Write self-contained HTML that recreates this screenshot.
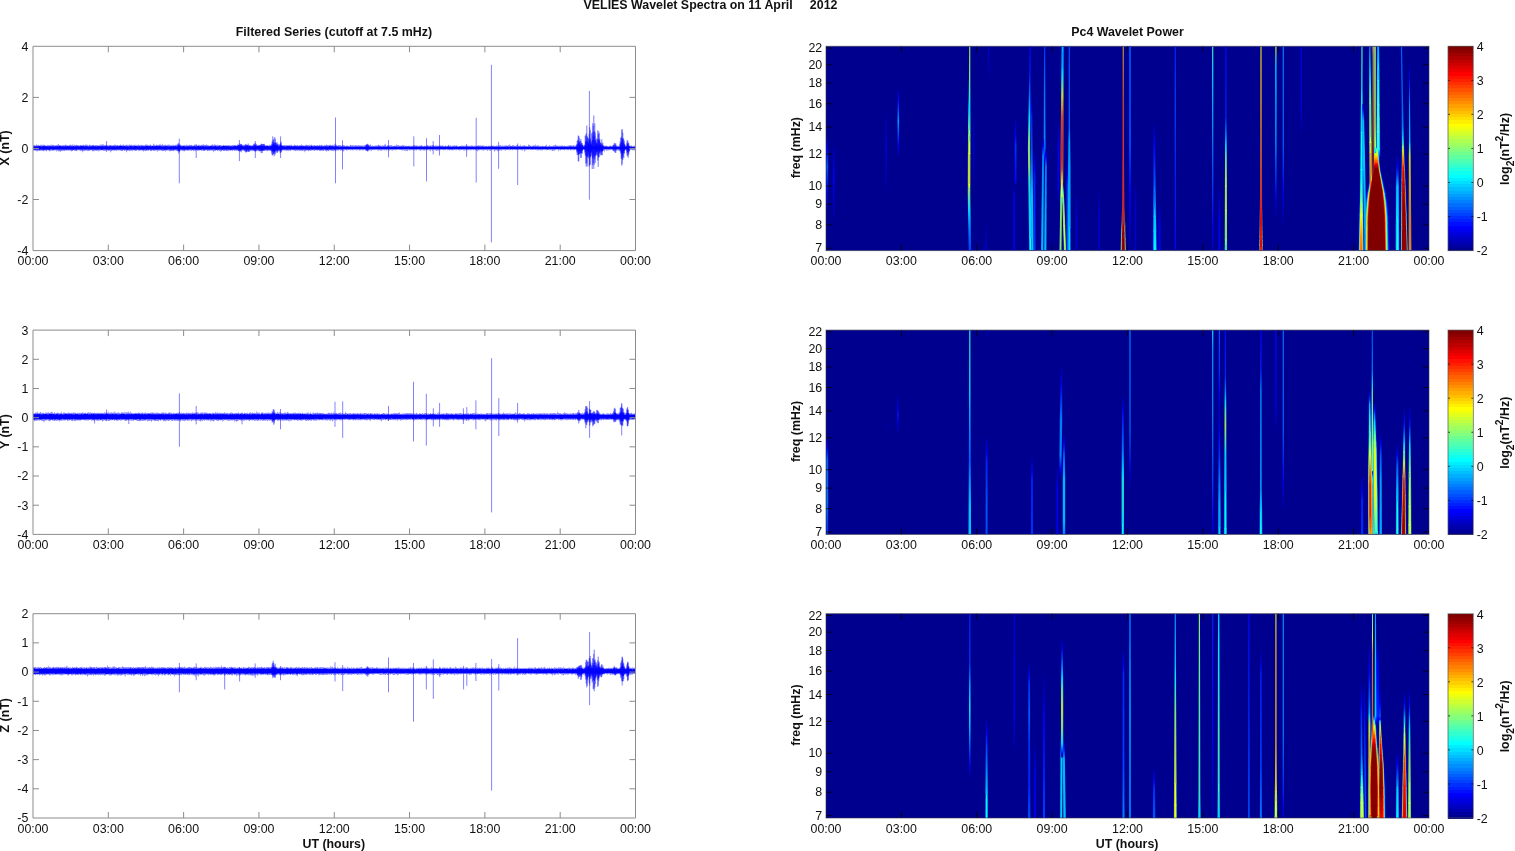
<!DOCTYPE html><html lang="en"><head><meta charset="utf-8"><title>VELIES Wavelet Spectra</title>
<style>html,body{margin:0;padding:0;background:#fff;}body{width:1515px;height:851px;overflow:hidden;font-family:"Liberation Sans",sans-serif;}svg{display:block}text{font-family:"Liberation Sans",sans-serif;font-size:12.4px;fill:#111}.b{font-weight:bold}</style></head><body>
<svg width="1515" height="851" viewBox="0 0 1515 851">
<defs><filter id="gs" x="0" y="0" width="100%" height="100%" filterUnits="userSpaceOnUse" color-interpolation-filters="sRGB"><feColorMatrix type="saturate" values="0"/></filter></defs>
<rect width="1515" height="851" fill="#fff"/>
<path transform="scale(.5 1)" d="M66.5 145l1 .4 1-.2 1-.6 1 1.2 1-.2 1-.8 1-.6 1 1.4 1-.7 1-.4 1 1 1 0 1 .1 1-.1 1-1.1 1 .2 1 .9 1-.9 1 .8 1-.2 1-.8 1 .2 1 .7 1 .2 1-.3 1 .6 1-.4 1-.8 1 1.2 1-.9 1 0 1 .7 1-.4 1 .5 1-1.2 1-.1 1 1.3 1-1.2 1 .4 1-.2 1 .2 1 0 1 .8 1-.2 1-.5 1-.3 1 .7 1 0 1-.8 1-1.1 1 1 1 .8 1-.4 1 .4 1 0 1 .2 1-.1 1 .3 1-.6 1 .1 1-.3 1 0 1 .7 1-1.2 1 0 1 .5 1 .3 1 .1 1 .2 1-.1 1 0 1 .1 1-1.1 1 0 1 .5 1-.2 1 .6 1 .3 1-1.8 1 1.2 1 .7 1-.7 1-.6 1 .8 1 .1 1-.7 1 .1 1 .6 1-.4 1 .1 1 .4 1 .2 1-.3 1-.2 1-.3 1 .6 1-.5 1 .6 1-.7 1-.1 1 0 1 .2 1 .4 1-.5 1-.2 1 .3 1-.5 1 0 1 1.1 1 .2 1-.1 1-1.1 1-.1 1 .9 1 0 1-.3 1 .4 1-.3 1-.3 1 .3 1-.3 1 .2 1 .8 1-.6 1-.1 1 .1 1 .1 1-.2 1 0 1 .6 1-.3 1-1 1 1.3 1 0 1-1.9 1 1.2 1-.6 1 0 1 0 1-.2 1 .6 1 .2 1 .5 1-1.1 1 1 1-1 1 .6 1 .5 1-.3 1 .3 1-.3 1-.3 1-.1 1 .3 1 .2 1-.3 1 .2 1 .1 1 0 1 .2 1-.4 1 0 1-.6 1 .2 1 0 1 .5 1 .1 1-.4 1-.1 1 .8 1 0 1-.5 1 .5 1-1.2 1 .2 1 .4 1 .5 1 .1 1-1.2 1 .4 1-.2 1 .6 1 .2 1 0 1-.8 1 .5 1-.3 1-.2 1 .8 1 .3 1-1 1-.3 1 0 1 .7 1-.2 1-.2 1-.2 1 1.1 1-.4 1 0 1-.4 1 .4 1-.6 1 0 1 1.1 1-.3 1-1 1 1.3 1-.6 1-.7 1 .2 1 .8 1-.5 1 .3 1-.3 1-.4 1 .5 1 .1 1 .2 1 .1 1-.4 1 .7 1-.8 1-.2 1-.3 1-.1 1 .8 1 0 1-.7 1 1.1 1-.3 1-.8 1 1.3 1-.9 1-.6 1 1.1 1 .4 1 0 1-.1 1-1.2 1-1.3 1 2.1 1-.6 1 .8 1 .1 1-.7 1-.2 1 .4 1-.2 1 .1 1 .1 1-.4 1-.1 1-.9 1 1.8 1-.8 1 .6 1-.4 1-1.2 1 1.9 1-.7 1 .6 1-.8 1 0 1 .4 1 .2 1-.2 1 .6 1-1 1-.2 1 .3 1 .8 1-.9 1 .1 1 1 1-.2 1-.5 1 .6 1-.8 1-.4 1 1 1-.7 1 1 1-.4 1-.8 1 0 1 .4 1-.4 1 1 1 .3 1-.3 1-.4 1 0 1-.4 1-.1 1 .9 1-.3 1 0 1 .5 1 .1 1-1.1 1 .7 1-.6 1 .4 1 .4 1-.1 1-1.2 1 .4 1 1.1 1-.1 1-.7 1-.2 1 0 1 .3 1 .2 1-.7 1 .6 1 .1 1 .4 1-.2 1 .2 1-1.5 1 .6 1 .6 1-.5 1 .8 1-1.1 1 1 1 0 1-.5 1-.4 1-.1 1 .9 1 .2 1-1 1 .3 1-.3 1-.2 1 .6 1 0 1-1.5 1 1.4 1 .1 1-.1 1 0 1-.5 1-.1 1 .8 1-.5 1 .2 1 .6 1 .2 1 .1 1-.2 1-.1 1-.9 1 .8 1-.7 1-.6 1 1.5 1-.9 1-.2 1 0 1 .3 1 0 1 .2 1 .3 1-.9 1 1.3 1-1.2 1 .9 1-.4 1 .1 1-.1 1-.1 1 .6 1-.1 1 .2 1 .1 1-1.2 1 .8 1 .3 1-.3 1 0 1-.4 1 .6 1-.6 1 .8 1-.7 1 .6 1-.6 1 .1 1 .3 1-.2 1 .5 1-.7 1 .8 1-.7 1 0 1 .6 1-1.2 1 .4 1 0 1 .3 1-.4 1 .7 1-.6 1 .1 1-.5 1 .2 1 .3 1 .2 1-.4 1-.1 1-.2 1 .1 1-.5 1 .6 1 .4 1-.5 1 .6 1-.2 1-.5 1 .5 1 .5 1-.6 1 .9 1-.5 1-.6 1 .3 1 .6 1-.3 1-.8 1 1.3 1-1.1 1 .8 1 0 1-.6 1 .7 1-.3 1-.1 1-.3 1 .2 1 0 1 0 1-.9 1-.5 1 1.9 1-1.2 1 1.3 1-1.3 1 1.2 1 .1 1-.9 1-.3 1 .3 1-1.8 1 2.6 1-.1 1 .1 1 .1 1-1.2 1 .6 1 .1 1 .1 1-.2 1 .5 1 0 1-.9 1 .8 1 .2 1-.4 1-.7 1 .6 1-.5 1-.3 1 1.4 1-.2 1-.8 1-.2 1 .5 1 .6 1 0 1-.1 1-.1 1-.9 1-.1 1 1.1 1-1 1-1.4 1 1.7 1-.3 1 .9 1-.4 1 .2 1-.4 1 .5 1-.3 1 .3 1-.4 1 .6 1-.6 1 .1 1 .5 1-.5 1 .4 1-.6 1 .1 1 .5 1-.4 1 .3 1-.8 1 .6 1 .5 1-1.1 1 0 1 .8 1 0 1 .3 1-.3 1 .3 1-1.2 1 .3 1 .2 1 .3 1 .3 1-.4 1 .2 1-.9 1 1.2 1-.5 1 .6 1-.8 1 0 1 .6 1-1.8 1 1.8 1-.5 1 .2 1 .2 1 .1 1 0 1 .1 1-.5 1-.5 1-.1 1 .3 1 .4 1-.4 1 .5 1-.6 1-.3 1 1.2 1-.8 1 .4 1-.5 1-.3 1 1 1 .1 1-.7 1 .8 1-.8 1 .1 1 .8 1-.5 1-.1 1 .6 1-.5 1-.3 1 .6 1 0 1-1 1 .7 1 .1 1-.4 1 .1 1-.5 1 .8 1 0 1 0 1 .3 1-.3 1-.6 1 .5 1 .1 1-.9 1-.1 1 .9 1-.1 1-.5 1 1 1-.6 1-.4 1 .1 1-.1 1 1.1 1-.9 1-.3 1 .3 1 .5 1 .2 1-2.5 1 2.3 1-.4 1-1.5 1 1.4 1-.2 1 .7 1 .5 1-.6 1-.5 1 .7 1-.5 1 .5 1-.4 1 .8 1-.3 1-.4 1 .2 1-.2 1-.2 1 .8 1-.7 1 .9 1 .2 1-.2 1-.8 1 .6 1-.3 1 .5 1-.3 1 .4 1-.3 1-1.2 1 .5 1-.1 1 .8 1-.8 1 .6 1-.5 1 .6 1-.1 1-.2 1-.1 1 0 1 .2 1-.4 1 .3 1 .5 1-.8 1-.2 1 .7 1 .2 1-.3 1 .1 1 .1 1-.5 1 .6 1-.3 1 .1 1 0 1-.1 1-.5 1 1 1-.7 1-.2 1 .4 1-2 1 1.9 1 .4 1-.6 1 .8 1-.9 1-1.3 1 1.7 1 .1 1 .3 1-.2 1-.4 1 .6 1 .1 1-.1 1-.4 1 .2 1-.1 1 .1 1-.4 1 .5 1-.5 1-.1 1-1.1 1 1.4 1 .1 1-.6 1 1.2 1-.8 1 .5 1-.9 1 .8 1 .4 1-1.2 1 .7 1-1.7 1-.4 1 1.4 1 .7 1 .6 1-1.2 1 .2 1 0 1 .9 1-.9 1 .1 1-.3 1 .5 1-.2 1-.3 1 .6 1 0 1 .5 1-.1 1-.6 1 .4 1 .2 1-.5 1-2 1 2.4 1-.7 1 0 1 0 1-.2 1 .8 1-.5 1 .7 1-.7 1 .3 1 0 1-1.3 1 1.3 1-.4 1 .3 1-.4 1 .7 1-.5 1 .5 1-.5 1 .5 1 .3 1-.5 1-.3 1 .6 1-.5 1 .7 1-.7 1 .8 1 0 1-.7 1 .3 1 0 1-.4 1-.4 1-.1 1 .4 1 .1 1 .3 1-.7 1 .9 1-.8 1 .7 1 .3 1-.4 1 .2 1-.8 1 .3 1 .2 1-.6 1 .2 1 .6 1-.5 1 .6 1 .1 1-.7 1 .4 1 .3 1-.3 1 .4 1-.8 1-.3 1 0 1 .4 1 .6 1-.5 1 .3 1-.3 1 0 1 .1 1-.4 1-.1 1 0 1-.1 1 0 1 1.1 1 0 1-1.2 1 1.3 1-1.1 1 .5 1 .3 1-.6 1 .3 1 .2 1-.5 1-.2 1 .5 1-.4 1 .5 1 .2 1-.6 1-.2 1 .1 1 .9 1-.3 1 .4 1-1.3 1 1.1 1-.3 1 .1 1 .1 1 .1 1-1.7 1 .6 1 .5 1 .6 1-.8 1 .2 1 .8 1-.6 1 .1 1-.1 1 .4 1-.5 1-.2 1-.2 1 .1 1 1 1-1 1 .2 1 0 1 .8 1 0 1-.1 1-.2 1 .3 1-.3 1 0 1-.7 1 .8 1-.9 1 .9 1 .1 1-.8 1 .3 1-.1 1 .3 1-.3 1-.3 1 .9 1-.2 1-.6 1 .6 1-.4 1 .3 1 .4 1-.6 1-.3 1-.4 1 .9 1-.1 1-.2 1 0 1 .6 1-.8 1 .6 1-.6 1 .6 1-.1 1 .3 1-.2 1-.7 1 .3 1-.5 1 .3 1 .3 1 0 1-.6 1 1.1 1-.5 1-.5 1 .2 1 .1 1 .1 1 .5 1-.5 1 .7 1-.8 1 .6 1 0 1 .2 1-.6 1 .3 1-.3 1 0 1 .1 1 0 1 .2 1-.5 1-.2 1 .9 1-1 1 .6 1 0 1 .5 1-.9 1 .7 1 .1 1-.8 1 .4 1-.6 1 .5 1 .6 1-.9 1 .6 1-.9 1 0 1 .3 1 0 1 .9 1-.7 1-.2 1 .9 1-.6 1-.6 1 1.2 1-.7 1 0 1 .4 1-1.5 1 1.7 1-.5 1-.6 1 .5 1 0 1-1.5 1 1 1 1.1 1-.2 1 .2 1-1 1 .1 1-.2 1 .2 1 .9 1-1 1 1.2 1-.7 1-.4 1-.1 1 .8 1-1.5 1 1.7 1-.6 1 .5 1-.3 1-1.8 1 2.3 1-.2 1-.4 1 .5 1-1 1 .4 1 .2 1-.5 1 .2 1-.1 1 .6 1 .1 1 .3 1-.2 1-.2 1-.4 1-1.9 1 1.5 1-.1 1 .8 1-.4 1 .5 1 .2 1 .1 1-.7 1-.8 1 1.1 1-.8 1 1 1-.1 1-2.3 1 1.9 1 .7 1-1.2 1 .9 1-1.7 1 2.1 1-.7 1 .5 1-.9 1 1.1 1-.1 1-.5 1 .6 1-.9 1 .2 1 .4 1-.1 1 .3 1-1.2 1 1.1 1-2.1 1 1.7 1 .4 1 .1 1-.2 1 .2 1-1.1 1 .1 1 .5 1 .4 1-.3 1-.1 1 .4 1-.5 1-.3 1 0 1-.1 1 .1 1-.1 1-1.1 1 1.2 1 .1 1 .4 1-.3 1 .3 1-.2 1 .3 1-.6 1 .9 1-.9 1-.3 1 1.1 1-.9 1 .2 1 .4 1 .3 1-1 1 .7 1 .2 1 .2 1-.8 1 .9 1-.6 1-.1 1 0 1-.5 1 .2 1 .1 1-.2 1-.2 1 .9 1-.5 1 .1 1-.2 1-.1 1-.1 1 .1 1 .7 1-.4 1 .5 1-.8 1 .5 1 .2 1 .2 1-.7 1 .6 1-.3 1 .3 1-.7 1 .7 1 0 1-.5 1-.5 1 .6 1-.2 1 .4 1 .4 1-.1 1-1.1 1 .7 1-.7 1 .9 1-.7 1 .7 1-.2 1-.1 1-.3 1-.1 1 .5 1-.6 1 1 1 .2 1-.5 1 .1 1 .1 1-.4 1-.2 1-.3 1 .1 1 .1 1-.2 1 .6 1-.1 1 .5 1 .1 1-1.2 1 .1 1 0 1-.1 1 .3 1 .9 1-.6 1-.2 1 .3 1 .6 1-1.1 1 .8 1-.5 1-.1 1 .5 1-.4 1 .3 1-.2 1 .6 1 .1 1-.4 1-.3 1 .1 1-.1 1-.1 1 .2 1 .2 1-.1 1-.5 1 .4 1-.2 1 .7 1-1.4 1 .4 1 .5 1 .4 1 .1 1-.1 1-1 1 .3 1 .9 1-.1 1-.4 1-.3 1 0 1-.3 1 .8 1 0 1 .3 1-1.1 1 .8 1 .2 1-1.1 1 .6 1-.9 1 1.1 1-.3 1 .5 1 0 1-.2 1 0 1-.1 1 .1 1-.2 1-.1 1-.5 1 .6 1 .6 1-.4 1 .4 1-1.2 1 .7 1-.3 1 .7 0 3.5-1 .6-1 0-1-.7-1 .9-1-.8-1 .9-1-.9-1 0-1-.1-1 .4-1 .9-1-1.6-1 1.1-1-.6-1 .2-1 .3-1 .2-1-.4-1 .2-1-.3-1 .4-1-.7-1 .7-1-1-1 .9-1-.5-1 .1-1-.3-1-.3-1 .5-1-.1-1 .6-1 0-1 .1-1 .5-1-.9-1 .2-1-.4-1-.4-1 1.1-1-.9-1 .2-1-.1-1 .4-1-.1-1 .1-1-.5-1-.3-1 1.2-1-.8-1 .1-1 .3-1 .1-1-.1-1 1.1-1-1.9-1 2-1-1.3-1-.4-1 .1-1 2.6-1-1.8-1-.6-1-.2-1 .5-1 .1-1 .2-1-.9-1 .1-1-.2-1 .3-1 .5-1-.2-1-.1-1 0-1 .2-1 .3-1-1-1 .1-1-.1-1 .6-1-.7-1 .1-1 .4-1 .2-1 .4-1-1.1-1 .3-1-.3-1 .8-1-.8-1 .6-1 .3-1-.4-1-.3-1 0-1 .7-1 .1-1-.1-1-1-1 .4-1 .6-1-1-1 .6-1 .5-1-.9-1-.2-1 2-1-2-1 1-1 .1-1 .1-1-1-1 .7-1 .3-1-.6-1-.1-1 .8-1-1.3-1 .1-1 1.1-1-.5-1-.2-1 .4-1-.7-1 .9-1-.7-1 .5-1 .1-1 .2-1-1.2-1 0-1 1.2-1-.7-1 .3-1-.5-1 .7-1-.7-1-.2-1 .2-1 .7-1-.3-1-.2-1 0-1 0-1-.1-1 0-1 .1-1 .5-1-.1-1-.8-1 .7-1 1.6-1-1.8-1-.4-1-.2-1 .4-1-.2-1 1-1-1-1 1.1-1-.1-1-.2-1 .2-1 .1-1 .3-1-.4-1-1.1-1 .5-1 .5-1-.9-1 .9-1-.5-1 .1-1 .1-1-.4-1 .5-1 0-1 0-1-.7-1 1-1-1.2-1 .3-1 .2-1 .1-1 .4-1-.2-1 .4-1-.7-1 .7-1-.6-1 .1-1 .6-1-.9-1 .4-1 .4-1-.1-1-1-1 .5-1 0-1-.3-1 0-1 .2-1-.3-1 .3-1 .1-1-.3-1 .4-1 0-1-.1-1-.5-1 0-1 .5-1 0-1-.4-1-.2-1 .9-1-.8-1 .3-1 .8-1 1.5-1-1.8-1-.3-1-.4-1 .9-1 .1-1-1.1-1 1.2-1-.4-1-.7-1 .4-1-.4-1 .6-1-.5-1 0-1 .5-1-.1-1 0-1-.2-1-.1-1 0-1 .2-1-.2-1 0-1 .7-1-.5-1-.5-1 .5-1 .2-1 .1-1 0-1-.8-1 .2-1 .8-1-1-1 .7-1-.4-1 .3-1-.3-1 1.1-1-.3-1-1-1 .6-1-.5-1-.1-1 .8-1-.4-1 1.3-1-1.5-1 .8-1 0-1-.1-1 0-1-.1-1 1.2-1-1.1-1-.2-1-.1-1-.3-1 .5-1 1.7-1-1.4-1-.5-1-.6-1 .3-1-.2-1 0-1 0-1 1.6-1-.9-1-.2-1 .2-1-.4-1-.1-1 .8-1 0-1-.9-1 .4-1-.5-1 0-1 .7-1-.6-1 1-1-.4-1-.7-1 1-1-1-1 .8-1-.6-1 .2-1-.2-1 .9-1-.9-1 .3-1 .5-1 1-1-1.1-1-.7-1 .2-1 .5-1-1.1-1 .4-1 .6-1-.6-1-.1-1-.1-1 .6-1-.5-1 .6-1-.2-1-.6-1 1-1-.5-1-.4-1 .9-1-.6-1 .1-1 .4-1 0-1-1-1 1-1 0-1 .2-1-.8-1-.1-1-.3-1 1-1-1-1 .7-1-.4-1 .7-1 0-1-.6-1 .2-1-.6-1 .6-1 .3-1-.7-1-.2-1 .9-1-.7-1 .2-1 .5-1-.8-1 .7-1 .3-1-.4-1-.2-1 .2-1-.4-1 .4-1 .5-1-.7-1 .1-1-.5-1 1.1-1-1.1-1 .2-1 .3-1 .2-1-.1-1-.5-1 .8-1-.5-1 .1-1-.6-1 .3-1 .1-1-.1-1 .8-1-.8-1 .1-1 .6-1-.1-1 .3-1-.4-1 .4-1 .1-1-1.1-1 .8-1-.1-1-.8-1-.1-1 0-1 .9-1 .4-1-.5-1-.8-1 .3-1 2.5-1-2.3-1 .8-1-1.2-1 .7-1 .2-1-.6-1-.2-1 .4-1 .2-1-.1-1 .3-1 .3-1-.6-1 .2-1-.7-1 .8-1-.7-1 .7-1-.1-1 .4-1-.6-1 .4-1-.3-1-.6-1-.2-1 .3-1 .4-1 .2-1 .1-1-.7-1 0-1 .9-1-.6-1 .1-1-.3-1 .4-1-.6-1 .9-1-1-1 .9-1 .3-1-.9-1-.4-1 .4-1 1.6-1-1-1 .2-1-.1-1 .8-1-1.6-1 .8-1 .6-1-1.7-1 .8-1 .1-1-.2-1-.5-1 .9-1-.7-1-.2-1 .1-1 .2-1-.2-1-.3-1 0-1 .3-1-.1-1 .6-1-.1-1-.3-1-.2-1 .9-1-.7-1-.1-1 .7-1 .2-1-.8-1 .7-1-.7-1 .2-1 .1-1 .6-1-.6-1-.7-1 .2-1 .6-1 .5-1-.8-1-.4-1 1-1 .2-1-1.1-1-.1-1 .6-1 .4-1-.8-1 .8-1 .1-1-.3-1 .2-1-.8-1 .4-1 .3-1 .3-1 0-1-1.3-1 .3-1 0-1-.1-1 0-1 .8-1-.7-1 0-1 .5-1-.6-1 .2-1 1.3-1-.7-1-.1-1-.2-1 0-1-.6-1 .3-1-.3-1 .1-1 2.1-1-2.2-1 .4-1 .6-1-.4-1-.5-1-.1-1 1.2-1-.7-1-.1-1 .4-1 .2-1-1-1 1-1-.4-1 .2-1 0-1-.4-1-.2-1 .8-1-.9-1 1-1-.4-1-.7-1 .8-1-.3-1-.4-1 .7-1-.3-1 .6-1-.9-1 .8-1-.9-1 .4-1 .3-1-.7-1 .4-1 .4-1-.8-1 0-1 1-1-.3-1-.1-1-.3-1 0-1-.3-1 .9-1 1.5-1-1.3-1 0-1-1.1-1 1.3-1-.9-1 .7-1-.4-1-.6-1 .1-1 .4-1 .7-1-1-1 .6-1 0-1 0-1 .5-1 0-1-.4-1-.8-1 1.9-1-1.5-1 .8-1-.3-1-.2-1 .2-1-.3-1-.2-1-.1-1 .2-1 .9-1-.2-1-.7-1 .4-1 1.6-1-2.2-1 .7-1-.2-1-.4-1-.1-1 .6-1 .1-1-.2-1-.1-1 .5-1-1.1-1 1-1 .1-1-.3-1 .1-1-.6-1-.2-1 .1-1 .5-1-.2-1-.2-1-.2-1 .2-1 .8-1-.2-1-.8-1 .4-1 .1-1-.5-1 .6-1-.5-1 .6-1 .2-1-.5-1 .1-1 .7-1-.2-1-.5-1-.4-1 .3-1-.1-1 .8-1 .1-1-.9-1 2.3-1-1.6-1-1-1 1-1-.1-1-.1-1-.4-1-.5-1 1.3-1-.8-1 .6-1-.5-1-.2-1-.1-1 .7-1-.2-1-.5-1 1.1-1-.8-1 0-1 .3-1-.3-1-.5-1-.1-1 .1-1 .3-1-.4-1 .8-1 .2-1-.5-1-.3-1 1.1-1-.9-1-.2-1 .9-1-.7-1 .9-1-1.2-1 .7-1-.1-1-.4-1 .1-1-.3-1 0-1 1.1-1-.6-1 .7-1-.9-1-.4-1 1.1-1 .8-1-1.6-1 1-1-.4-1-.1-1 .1-1-.3-1-.2-1 .3-1-.4-1 1.8-1-1.2-1-.1-1-.1-1-.2-1 .1-1 .2-1-.3-1 .5-1 0-1-.6-1 .1-1 .5-1 .2-1-.1-1-.6-1 .7-1-.4-1-.1-1-.2-1 0-1-.1-1 .7-1-.6-1 .2-1-.6-1 .7-1-.4-1 0-1 .7-1-.3-1 .1-1 .3-1-.6-1 .7-1-.2-1-.7-1 .6-1 1.1-1-1.3-1-.6-1 .2-1 .4-1 .8-1-1.5-1 1.1-1-.8-1 1.2-1-1.3-1 .5-1-.7-1 .4-1 .4-1-.8-1 .8-1 .3-1-.5-1-.1-1 .5-1-.6-1-.3-1 .4-1 .5-1-.6-1-.1-1-.4-1 1.1-1-.9-1 .3-1-.3-1-.1-1 .7-1 .2-1-.7-1 .4-1-.2-1 .6-1-.5-1 .2-1 0-1 .2-1-.9-1 0-1 .6-1 .5-1-.7-1-.4-1 1.1-1-.7-1 .2-1-.5-1 1-1-.7-1 .3-1 .5-1-.8-1 .9-1-.9-1 .3-1 .2-1-.2-1 .1-1 .1-1-.8-1 .1-1 1.1-1-.5-1 .9-1-.6-1-.4-1 .5-1-1.3-1 .8-1 0-1 .4-1-1.2-1 0-1 1.2-1-.4-1 0-1-.1-1 .6-1 1.5-1-2.6-1 .5-1 .1-1-.5-1 .1-1 0-1 .8-1-.7-1 .2-1-.2-1 .5-1 .3-1-.9-1-.3-1 .2-1 .2-1 .5-1-.3-1 .3-1 0-1-.2-1-.5-1 1-1-1.1-1 .2-1-.4-1 .3-1 .4-1 .5-1-1-1 .6-1-.4-1-.4-1 .5-1-.2-1 1.2-1-1.1-1-.1-1 .9-1-.3-1-.6-1-.2-1 1-1-.3-1 .3-1-1.1-1 .4-1-.2-1 .1-1 .8-1 0-1-.9-1 .3-1 .1-1-.4-1 .5-1 .5-1 .2-1-.6-1 .4-1 .1-1-1.1-1 .3-1 .1-1-.4-1 .9-1 .1-1-.2-1-1-1 1.2-1-1-1 .5-1-.1-1 .3-1-.5-1-.2-1 .1-1 .5-1 .2-1 .2-1-.2-1-.3-1 .2-1 0-1 0-1 .3-1 .1-1 0-1-.9-1-.2-1 0-1 .4-1 .3-1-.6-1 0-1 2.1-1-2.1-1 .4-1 .4-1-.1-1 .2-1-.3-1 .2-1-.8-1 .4-1-.4-1 0-1 1-1-1.2-1 1-1-.8-1 2.1-1-1.4-1-.9-1 0-1 1-1-.5-1 .4-1-.2-1-.1-1-.1-1-.4-1 .7-1 .4-1-.4-1 .1-1-.7-1-.2-1 .6-1 0-1-.3-1 .1-1 .6-1-.5-1 .6-1-.1-1-.3-1-.6-1 2.1-1-1.9-1 .9-1-1.2-1 .8-1-.8-1 .2-1 .1-1 .3-1 .4-1 .2-1-1.2-1 .1-1-.1-1 .9-1-.3-1 .3-1 0-1-.7-1 .6-1-.8-1 .3-1-.1-1 1.1-1-.8-1 0-1 .1-1 .1-1 .6-1-.8-1-.4-1 .8-1-.8-1 1-1 0-1 1.8-1-2.8-1 0-1 .9-1-.5-1-.4-1-.1-1 1.2-1-.2-1-.4-1 .5-1-1-1 .7-1-.7-1 .1-1 .2-1-.1-1-.3-1 .4-1 .6-1-.5-1-.4-1 .3-1 .5-1-1-1 .9-1-.7-1-.2-1 .9-1 .2-1-.2-1 2.2-1-1.8-1-.8-1 .1-1 .5-1-.1-1-.8-1 .3-1-.4-1 0-1 1.1-1-.6-1 .7-1-.7-1 .2-1 0-1-.7-1 .6-1-.3-1-.3-1 .9-1-.9-1 .1-1 1-1 .5-1-1.5-1 0-1 1-1-.4-1 .1-1-.2-1 0-1-.6-1 1.3-1-.6-1 .6-1-.2-1 0-1-1.1-1 .2-1-.1-1 0-1 .7-1-.2-1 .1-1 .1-1-.3-1 .8-1-1.1-1 .5-1-.7-1 .8-1 .1-1 .1-1-.6-1 .8-1 1.5-1-1.6-1-.7-1 .7-1-1-1 1.2-1-1-1-.1-1-.2-1 .4-1-.4-1 .7-1 .4-1-.2-1 0-1 .1-1-.8-1 1-1-1.2-1 .1-1 .9-1 0-1-.3-1 1-1-.8-1-.4-1-.3-1 .3-1 .1-1-.3-1-.2-1 .6-1 .2-1-.9-1 .1-1 .5-1 .4-1-.1-1-.6-1 .6-1-.5-1 .8-1-.6-1 .6-1-.1-1 .7-1-.5-1-.5-1 .3-1 .2-1-1.3-1 1.2-1 .8-1-1.9-1 0-1 .1-1 .2-1-.1-1 .1-1 0-1 .5-1-.5-1 .2-1-.4-1 1.1-1-1.4-1 1.4-1-.2-1-.4-1-.6-1-.1-1 .1-1 1.2-1-.1-1-1-1 .7-1-.7-1 .4-1 .7-1-.4-1-.4-1 .4-1 .2-1-1.1-1 .8-1-.4-1 .3-1 .2-1-.5-1 .6-1 .3-1-.5-1 .9-1-1.3-1 .1-1 .2-1-.3-1 0-1-.3-1 .3z" fill="#0000ff" fill-opacity=".5"/><path transform="scale(.5 1)" d="M66.5 146.2l1-.2 1 .4 1-.2 1 .3 1-.4 1 0 1 .3 1 .1 1-.3 1-.2 1 .1 1 0 1 0 1-.1 1 .2 1 .2 1 .1 1 0 1-.4 1 .2 1-.2 1 .2 1-.3 1 .1 1 .4 1-.5 1 .3 1 .1 1-.2 1 .2 1 0 1-.1 1-.1 1-.1 1 .2 1 .2 1-.1 1-.4 1 .2 1 .3 1-.3 1 .2 1 .1 1-.1 1-.4 1 .4 1-.3 1 .1 1-.2 1 .5 1-.2 1-.2 1 0 1 0 1 .1 1 .3 1-.5 1 .2 1 0 1 0 1 .3 1-.2 1 .1 1 0 1-.4 1 .3 1 .1 1-.4 1 0 1 0 1 .4 1-.2 1-.1 1 .2 1-.1 1 0 1 .2 1-.1 1 .2 1-.5 1 .2 1 .2 1 0 1-.1 1-.1 1 .1 1 0 1-.3 1 .2 1 .1 1 .1 1 .1 1-.3 1-.2 1 .2 1-.1 1 0 1 .1 1-.1 1 0 1 .2 1 0 1 .2 1-.1 1-.4 1 .5 1-.5 1 .1 1 .3 1 0 1 0 1 0 1-.1 1-.3 1 .4 1-.2 1 .3 1-.2 1-.2 1 .1 1-.2 1 .2 1 .2 1-.1 1-.3 1 .3 1 .2 1-.3 1 .2 1-.3 1 .2 1-.2 1 .4 1-.4 1 .1 1 .3 1-.4 1 .2 1-.3 1 .2 1 .2 1-.1 1 0 1-.1 1-.1 1-.1 1 .4 1 .1 1-.5 1 .4 1 0 1-.1 1 0 1-.3 1 .4 1-.3 1 .3 1 .1 1-.2 1-.3 1 .2 1 .1 1-.1 1 .1 1 .2 1-.1 1-.4 1 0 1 .2 1 0 1 .3 1-.5 1 0 1 .1 1 0 1 0 1 0 1 0 1 .1 1 0 1 .1 1-.1 1-.2 1 0 1 .5 1-.2 1 .1 1-.2 1 0 1 .3 1 0 1-.2 1 0 1-.3 1 .2 1 .3 1-.5 1 .2 1 .1 1-.1 1 .2 1-.3 1 .1 1-.2 1 .1 1 .1 1-.1 1 0 1 .2 1 .1 1 .1 1-.2 1-.3 1 .4 1 0 1-.2 1 0 1 .2 1-.5 1 .2 1 .3 1-.4 1 .4 1-.1 1-.1 1-.2 1 .2 1-.1 1-.2 1 .3 1 .1 1-.2 1 .1 1-.2 1 .3 1 0 1 .2 1-.5 1 .1 1 .2 1-.1 1 .1 1-.1 1-.2 1 .2 1-.2 1 .1 1 0 1 .4 1-.4 1 .1 1-.2 1 0 1 .2 1-.1 1 .3 1-.3 1 .4 1-.2 1 0 1 0 1 0 1 .2 1-.5 1 .2 1-.1 1 .3 1-.2 1 .1 1 .2 1-.1 1 .1 1-.4 1 .3 1-.4 1 0 1 .2 1 .2 1-.2 1-.1 1 .4 1-.5 1 .3 1 0 1-.2 1 .3 1-.1 1 0 1 .1 1-.2 1-.2 1 0 1 .4 1 0 1-.2 1 .1 1 .2 1-.5 1 .4 1-.3 1-.1 1 .3 1 .2 1-.1 1 0 1 .1 1-.1 1-.2 1 .1 1 .2 1-.4 1 .4 1-.2 1 .1 1-.4 1 .4 1-.1 1 0 1 .1 1 0 1-.1 1-.2 1 .1 1 .2 1-.2 1 .2 1 0 1-.2 1 0 1 .1 1-.2 1 .2 1 .2 1-.4 1 .4 1-.2 1-.1 1 .1 1-.3 1 .2 1 0 1 .3 1 0 1-.5 1 .3 1 .1 1-.2 1 .3 1 0 1-.2 1 .1 1-.1 1 0 1-.1 1-.1 1-.1 1 .3 1-.3 1 .5 1 0 1 0 1-.2 1-.3 1 .2 1-.1 1 .4 1-.1 1 0 1-.1 1 .1 1-.2 1-.1 1 .1 1 .2 1 0 1 0 1-.2 1 0 1-.2 1 .1 1-.1 1 0 1 .3 1-.2 1 .1 1 .3 1-.5 1 .3 1-.2 1 .1 1-.1 1 .4 1 0 1 0 1-.4 1 .1 1 .2 1 .1 1-.1 1 0 1-.4 1 0 1 .1 1 0 1 0 1 .1 1 .2 1-.3 1 0 1-.1 1 .4 1-.4 1 .4 1-.3 1-.1 1 .3 1-.2 1-.1 1 .2 1-.2 1 .5 1 0 1 0 1-.5 1 .3 1-.2 1 .4 1-.5 1 .2 1 .3 1-.1 1-.4 1 .2 1-.1 1 .3 1 0 1-.4 1 0 1 .4 1 0 1 0 1 0 1 .1 1-.5 1 .5 1-.3 1-.1 1 0 1 0 1-.1 1 0 1 .1 1 .2 1-.2 1-.2 1 .3 1-.1 1 .2 1-.3 1 .2 1 .2 1-.1 1-.2 1 .2 1-.1 1-.1 1 .1 1-.1 1 0 1 .2 1-.3 1 .5 1-.1 1-.3 1 .4 1-.4 1-.1 1 .1 1 .4 1-.1 1-.3 1-.1 1 .1 1 .1 1 0 1 .1 1-.2 1 .2 1-.2 1 0 1 .4 1 0 1 0 1-.2 1 0 1-.3 1 .2 1-.1 1 .1 1 0 1 0 1-.1 1 .4 1 0 1-.1 1 0 1-.3 1 0 1 .1 1-.1 1 .2 1 0 1-.2 1 .3 1-.1 1-.3 1 0 1 .5 1 0 1 0 1-.5 1 .3 1 0 1 .1 1-.5 1 .3 1 .3 1-.5 1 .5 1-.3 1 .2 1 0 1-.4 1 .2 1 .1 1 0 1-.3 1 .4 1-.1 1-.2 1 .1 1 .1 1 .2 1-.2 1-.2 1 .1 1 .2 1-.2 1 0 1 .2 1 .1 1-.3 1 .3 1-.1 1 .1 1-.6 1 .1 1 .3 1 .2 1-.1 1 0 1-.3 1 .3 1 .1 1-.5 1 .5 1-.5 1 .3 1 0 1 0 1 .1 1-.4 1 .5 1 0 1-.1 1-.2 1 .1 1 .1 1 .1 1 0 1-.2 1 .2 1-.3 1 .3 1-.4 1 .1 1 .2 1 0 1-.2 1 .2 1 0 1-.4 1 .1 1 0 1 .3 1-.3 1 .4 1-.4 1 .4 1-.1 1 .1 1 0 1-.3 1 0 1 .3 1 .1 1-.3 1 0 1 .4 1-.2 1 0 1 .3 1-.1 1 0 1-.2 1 .2 1-.3 1 .5 1-.1 1-.1 1-.2 1 .2 1-.1 1 .2 1-.1 1-.1 1 .1 1 0 1-.1 1 .3 1-.3 1 .3 1 0 1-.3 1 .2 1 .1 1-.2 1 .2 1-.3 1 .3 1-.1 1 0 1 .1 1-.3 1 .1 1-.1 1 .3 1-.3 1 .2 1 .1 1-.2 1-.2 1 .2 1-.1 1 .2 1 0 1-.2 1 .1 1 .1 1 .1 1 0 1 0 1-.1 1-.2 1 .2 1 0 1-.1 1-.1 1 .1 1 .1 1 0 1 0 1-.2 1 .1 1 .1 1 0 1-.1 1 .2 1-.1 1-.2 1 .3 1 0 1-.3 1 0 1 .3 1-.2 1-.1 1 .3 1-.1 1-.3 1 .1 1 0 1 0 1 0 1 0 1 .2 1 .1 1-.1 1 .1 1-.1 1-.2 1 .3 1-.3 1 .2 1-.1 1 .2 1-.2 1 .1 1-.2 1 .2 1-.2 1 .1 1 0 1 .2 1 0 1 0 1-.2 1 .2 1 0 1-.2 1-.1 1 .2 1-.2 1 .1 1 0 1 0 1 .1 1-.1 1 0 1 .2 1 0 1-.3 1 .1 1-.1 1 .2 1 0 1-.2 1 .3 1-.4 1 .2 1-.1 1 .2 1 .1 1-.1 1-.1 1-.1 1 .3 1-.3 1 .2 1 0 1-.2 1 .1 1 0 1 .2 1-.1 1 .1 1-.3 1 0 1 .3 1-.1 1 0 1 0 1-.2 1 .1 1 0 1-.1 1 .2 1 0 1 0 1 .1 1-.3 1 .2 1 0 1-.1 1-.1 1 0 1 .1 1 .2 1-.1 1 0 1 .1 1-.2 1-.1 1 .3 1-.3 1 0 1 .4 1-.4 1 0 1 .2 1-.1 1 .2 1-.1 1-.2 1 0 1 .3 1 0 1-.1 1-.1 1-.1 1 .2 1-.2 1 .2 1-.2 1 .1 1 .2 1-.2 1 .1 1-.2 1 .1 1-.1 1 .2 1 .1 1-.2 1-.1 1 0 1 .1 1 .1 1 0 1-.1 1 .2 1-.1 1-.1 1 .1 1 0 1 .1 1-.1 1-.1 1-.1 1 0 1 0 1 .1 1 0 1 0 1 .2 1 0 1 0 1-.1 1 .1 1-.3 1 .2 1 0 1-.1 1 0 1 0 1-.1 1 .2 1 0 1 .1 1 .1 1-.2 1-.2 1 .2 1-.1 1-.1 1 .3 1-.1 1 0 1 0 1-.1 1-.1 1 .2 1 .1 1 0 1-.3 1 .2 1-.1 1 .1 1 0 1 .1 1-.1 1-.2 1 0 1 .3 1 0 1-.2 1 0 1 .1 1-.1 1 .3 1 0 1-.1 1-.1 1 .2 1-.2 1 0 1-.2 1 .1 1-.1 1 .2 1-.2 1 .1 1 0 1-.1 1 .3 1-.1 1-.2 1 .1 1 0 1 0 1 .1 1 .1 1 0 1 0 1-.2 1-.1 1 .1 1 .2 1 .1 1-.4 1 .1 1 .3 1-.2 1-.2 1 .3 1-.3 1 .2 1-.2 1 .1 1 .2 1-.3 1 .1 1 .2 1-.3 1 .4 1-.3 1 0 1 .2 1-.1 1 .1 1 0 1-.3 1 .3 1 0 1 0 1 0 1-.2 1 .3 1-.2 1-.1 1 .3 1-.4 1 .4 1-.2 1 0 1 0 1 0 1-.2 1 0 1 .1 1 .3 1-.2 1 .1 1-.3 1 .1 1-.1 1 0 1 0 1 .1 1 .2 1 0 1-.1 1-.2 1 0 1 .3 1 0 1-.2 1 .2 1 0 1 .1 1-.3 1 0 1 .1 1 0 1-.1 1 .2 1 .1 1-.3 1 0 1 .2 1-.3 1 .2 1-.1 1 .1 1 .1 1-.3 1 .1 1 .1 1 .1 1-.1 1 0 1 .2 1-.4 1 0 1 .2 1 .1 1 0 1-.2 1 0 1-.1 1 .1 1 0 1 .1 1 0 1 0 1 0 1 0 1-.2 1 .3 1 .1 1-.3 1 .2 1-.1 1-.1 1 .3 1-.1 1-.2 1 .1 1-.2 1 .3 1 0 1 .1 1-.2 1-.1 1 0 1 .1 1 .1 1 .1 1 0 1-.1 1-.2 1 .1 1 .1 1-.2 1 .2 1 0 1 0 1 0 1-.1 1 .1 1-.2 1 .2 1 0 1-.1 1 0 1 .2 1-.2 1-.2 1 .1 1 .2 1-.1 1-.1 1 .2 1-.1 1 0 1 .2 1-.4 1 .4 1-.3 1 0 1 .1 1-.1 1 .1 1-.1 1 .1 1 .2 1-.2 1 .1 1-.1 1 .2 1 0 1-.4 1 0 1 .1 1-.1 1 0 1 .1 1 .2 1-.2 1 0 1 .1 1 .1 1-.2 1 .2 1 .1 1-.1 1-.1 1 0 1 0 1 .1 1-.1 1 0 1-.1 1 .1 1-.1 1 .3 1-.1 1 .1 1-.1 1-.2 1 .3 1-.3 1 .1 1 .1 1 0 1-.2 1 .1 1 .1 1 0 1-.1 1-.1 1 .1 1 .2 1-.3 1 .2 1-.2 1 0 1 .1 1 0 1 .2 1-.1 1-.1 1 0 1 .1 1 .1 1-.3 1 .2 1-.2 1 .1 1-.2 1 .3 1 .1 1-.1 1 0 1-.2 1 0 1 .1 1-.2 1 .4 1-.4 1 0 1 .3 1-.2 1-.1 1 .1 1 0 1-.1 1 .2 1 .1 1 0 1 0 1-.2 1 0 1 0 1 .1 1-.1 1 .2 1-.2 1 .1 1-.2 1 .2 1-.1 1 0 1 .3 1-.3 1 .1 1-.1 1 .1 1 .1 1-.1 1 0 1 .1 1 .1 1-.2 1-.1 1 .2 1 0 1 0 1-.1 1-.1 1 0 1 .2 1-.2 1-.1 1 .1 1 0 1 .2 1 .1 1-.3 1 0 1 0 1 .2 1-.1 1-.1 1-.1 1 .1 1 .1 1-.1 1 .2 1 0 1 .1 1 0 1-.3 1 0 0 2.1-1 .3-1 0-1 0-1-.1-1 .1-1-.2-1-.1-1 .1-1 .3-1-.2-1-.1-1 0-1 .2-1-.2-1 0-1 .1-1-.1-1 .3-1-.2-1-.1-1 .2-1-.1-1-.1-1 .1-1 .2-1-.3-1 .2-1-.2-1 0-1-.1-1 .2-1-.1-1 0-1 .3-1-.3-1-.1-1 .3-1-.1-1-.1-1 0-1-.1-1 .2-1 .1-1 0-1-.2-1 .2-1 0-1 0-1-.3-1 .3-1-.1-1-.2-1 .1-1 .1-1-.2-1 .3-1-.2-1 .2-1-.1-1-.1-1-.1-1 .1-1 .2-1-.3-1 .2-1 .2-1-.4-1 .1-1 .2-1-.3-1 .2-1 .2-1-.4-1 .3-1-.1-1 0-1-.1-1 .2-1 .1-1 0-1-.2-1 .2-1-.1-1-.2-1 .2-1 0-1 .1-1-.1-1-.1-1-.1-1 .2-1 0-1-.3-1 .1-1-.1-1 .1-1 0-1 .2-1 0-1-.1-1 .1-1 0-1 0-1-.1-1-.1-1 .2-1-.2-1 .1-1 .1-1-.1-1 0-1 .2-1-.3-1-.1-1 .2-1 0-1-.2-1 .2-1 .1-1-.1-1-.1-1 0-1 0-1 .2-1-.2-1-.1-1 .3-1-.2-1 0-1 .3-1-.1-1-.2-1 .1-1-.1-1 0-1 .2-1-.1-1 0-1-.1-1 .2-1 0-1-.1-1-.1-1 0-1 .2-1-.2-1 .2-1-.1-1 .2-1-.2-1 .1-1 0-1-.2-1 .1-1-.1-1 0-1 0-1 .2-1-.2-1 .2-1-.2-1 .1-1 0-1 .1-1 .1-1-.1-1-.2-1 .1-1-.1-1 .2-1-.3-1 0-1 .4-1-.1-1 .1-1 0-1-.2-1 .1-1 0-1-.1-1 0-1 .1-1 0-1 0-1-.1-1 .1-1-.2-1 .2-1 0-1 .1-1-.1-1 0-1-.2-1 0-1 .2-1-.2-1 .2-1-.3-1 .4-1-.1-1-.2-1-.1-1 .4-1-.2-1-.1-1 0-1 .2-1-.1-1-.2-1 .3-1-.2-1-.1-1 .3-1-.1-1 .2-1-.3-1 0-1 0-1 .1-1-.1-1 .2-1-.2-1 .2-1-.3-1 .1-1 .2-1 .1-1-.2-1 0-1 0-1 0-1-.1-1 .1-1-.2-1 .2-1-.2-1 .4-1-.1-1-.3-1 .4-1-.3-1 .1-1-.1-1 .2-1-.2-1 .1-1 0-1 .1-1 .1-1-.3-1-.1-1 0-1 .2-1 .1-1 .1-1-.1-1-.1-1 .2-1-.2-1 0-1 0-1-.1-1-.1-1 .1-1 .2-1 0-1 0-1-.2-1 .3-1-.3-1 .2-1-.2-1 .1-1 .1-1 0-1 .1-1-.1-1-.1-1 .2-1-.2-1-.1-1 0-1 .1-1 .1-1-.2-1 0-1 0-1 0-1 0-1 .2-1-.3-1 .2-1 0-1 .1-1-.3-1 .4-1-.2-1-.2-1 .2-1 .2-1-.2-1-.1-1 .2-1-.2-1 0-1 .1-1 .1-1-.2-1 0-1 .2-1-.2-1 .2-1 .1-1 0-1-.2-1 .1-1-.2-1 .3-1 0-1-.3-1 .1-1-.1-1 0-1 0-1 .2-1-.2-1 .1-1 .1-1 0-1-.1-1 .1-1-.2-1 0-1 .3-1-.2-1 .1-1 0-1 .1-1-.4-1 .2-1 .1-1 0-1-.1-1 0-1-.1-1 .3-1-.1-1 .1-1-.3-1 .1-1 0-1 .1-1-.2-1 .3-1-.2-1 0-1 .1-1 0-1 0-1-.1-1 .1-1 .1-1-.3-1 .1-1 .2-1 0-1-.1-1 .1-1-.3-1 .2-1 .1-1 0-1-.3-1 0-1 0-1 0-1 .1-1-.2-1 .2-1-.1-1 .1-1-.1-1 .2-1 0-1 0-1 .1-1-.1-1-.1-1-.1-1 .1-1 0-1 .1-1 0-1-.2-1 .3-1 0-1-.1-1-.2-1 .2-1 .1-1 0-1-.2-1 0-1 0-1 .1-1-.2-1 .3-1-.1-1-.1-1 .2-1-.3-1 .1-1 .1-1-.1-1-.1-1 .3-1 0-1-.2-1 .1-1-.1-1-.1-1 .1-1 .1-1-.1-1 0-1 0-1 .2-1-.3-1 .2-1 0-1-.1-1-.1-1 .2-1 0-1-.2-1 0-1 .3-1-.1-1-.2-1 .2-1-.1-1 0-1 0-1 0-1 0-1-.1-1 .2-1-.2-1 .3-1-.2-1 .1-1-.1-1 .2-1-.3-1 .1-1 0-1 .1-1-.2-1 .2-1 0-1-.1-1 0-1 .2-1-.3-1 .2-1 .1-1-.3-1 .3-1 0-1-.3-1 .1-1 .2-1-.2-1 0-1 .2-1-.2-1 .2-1-.1-1 0-1-.1-1 0-1 .1-1 0-1-.1-1-.1-1 0-1 .2-1-.1-1 0-1-.1-1 .2-1-.2-1 .3-1 0-1-.1-1 0-1 .1-1-.2-1 .2-1-.1-1 .1-1-.3-1 .3-1-.1-1 .1-1-.1-1-.1-1 .2-1 0-1-.3-1 .3-1-.2-1 .2-1-.3-1 0-1 .3-1 0-1-.3-1 .3-1-.2-1 .2-1-.1-1-.1-1 .2-1-.1-1 .2-1-.3-1-.1-1 0-1 .3-1 0-1 0-1 0-1-.2-1 .2-1 .1-1-.4-1 .3-1-.2-1 .1-1-.1-1 .2-1-.3-1 .1-1 0-1-.1-1 .1-1-.1-1 .2-1-.2-1 .3-1-.3-1 0-1 .2-1-.1-1-.1-1 .1-1 .1-1-.2-1 .1-1 .1-1 0-1 0-1-.1-1-.1-1 .4-1-.2-1-.1-1-.1-1 0-1 .2-1 .2-1 0-1-.4-1 .2-1 0-1 0-1 .1-1 .1-1-.4-1 .1-1 .1-1-.1-1 .3-1-.3-1 .2-1 .2-1-.4-1 .3-1 0-1 0-1-.2-1 .2-1-.2-1 .3-1-.3-1 .5-1-.5-1 .2-1-.1-1 .4-1 .1-1-.5-1 .1-1 .3-1-.1-1 .1-1-.1-1 .3-1-.5-1 .2-1 0-1 0-1 0-1 .2-1 .1-1-.4-1 .5-1-.5-1 0-1-.1-1 0-1 .3-1-.1-1 .3-1-.3-1 .3-1-.1-1-.3-1 .2-1 0-1-.1-1-.1-1 .3-1 .1-1-.4-1 0-1 .2-1 .2-1-.4-1-.1-1 0-1 0-1 .2-1 .3-1-.2-1 .2-1-.5-1 .3-1-.3-1 .1-1 .3-1 0-1-.3-1 .4-1-.4-1 .3-1-.2-1 .2-1-.1-1-.3-1 .4-1-.3-1 .2-1 0-1 0-1-.1-1-.1-1 .4-1-.4-1 .3-1-.4-1 .5-1-.5-1 .1-1 0-1 .1-1-.1-1-.1-1 .4-1-.4-1 .1-1 0-1 .4-1-.5-1 .3-1-.3-1 0-1 .4-1-.1-1 0-1-.1-1 0-1-.2-1 .5-1-.5-1 .4-1-.2-1 .1-1-.1-1-.2-1 .4-1-.4-1 .5-1-.3-1-.1-1 .3-1 0-1-.1-1 .2-1-.2-1 .2-1-.5-1 .4-1-.1-1 .2-1-.1-1-.2-1 .1-1-.3-1 .1-1 .2-1 .1-1-.2-1 .3-1 .1-1-.3-1 0-1 .1-1 .1-1-.1-1-.3-1 0-1 .3-1 0-1 0-1-.1-1 .2-1 0-1-.2-1-.2-1 .3-1 .1-1-.5-1 0-1 .4-1-.1-1-.2-1 .1-1 .3-1-.5-1 .1-1-.1-1 .4-1 0-1-.2-1-.2-1 0-1 .5-1 0-1-.5-1 .3-1-.2-1-.1-1 .4-1-.1-1 0-1-.2-1 .4-1-.3-1-.2-1 .1-1 0-1 .3-1-.3-1 .1-1 .1-1-.1-1-.1-1 0-1 .2-1 .1-1-.4-1 .1-1 .3-1-.3-1-.1-1 0-1 .3-1 .2-1-.3-1 .1-1-.1-1-.1-1 .1-1-.1-1 .4-1-.2-1-.1-1-.2-1 .2-1 .1-1 0-1 .1-1-.4-1 .4-1 .1-1-.1-1 0-1 .1-1-.3-1 .2-1-.1-1-.2-1 0-1 .1-1 .3-1-.1-1-.1-1 0-1 0-1 .1-1-.2-1 0-1 .4-1-.4-1 .3-1-.3-1 .2-1-.4-1 0-1 .2-1 .2-1-.1-1 .2-1-.4-1 .3-1 .1-1-.1-1-.3-1 .2-1 0-1-.1-1-.2-1 .1-1 0-1 .2-1 0-1 0-1-.2-1 .3-1-.4-1 .1-1 .3-1-.3-1 .1-1-.2-1 .5-1-.3-1 0-1-.1-1 .4-1 0-1-.2-1-.3-1 .1-1-.1-1 .3-1 .3-1-.4-1 .2-1-.1-1 .1-1-.2-1 0-1 .3-1-.3-1-.1-1 .4-1-.4-1-.1-1 .1-1-.1-1 .2-1 .2-1 .1-1-.5-1 0-1 .2-1-.1-1-.1-1 .3-1 .2-1-.3-1 .1-1 .2-1-.2-1-.1-1 .2-1-.2-1 .3-1 0-1-.1-1-.3-1 .3-1-.3-1 .4-1-.5-1 .1-1 .2-1-.2-1-.1-1 .2-1 .1-1-.3-1 .2-1 0-1 0-1 0-1-.1-1 .1-1 0-1 .2-1-.3-1 .3-1-.3-1 .1-1 0-1 .3-1 0-1-.2-1 0-1-.3-1 .1-1 .3-1-.2-1 .2-1-.1-1 .1-1 0-1 0-1 .2-1-.3-1 0-1 0-1-.3-1 .5-1 0-1-.1-1-.4-1 .1-1-.1-1 .4-1-.3-1 .1-1 .3-1-.1-1-.4-1 .5-1-.3-1 0-1 .1-1 .1-1-.2-1 0-1 0-1-.1-1 .2-1 .2-1-.2-1-.3-1 .2-1 .2-1-.1-1 0-1 .2-1-.1-1 .1-1-.4-1-.1-1 .3-1 .1-1 0-1 .1-1 0-1 0-1-.1-1-.1-1 .1-1-.3-1 .4-1-.4-1 0-1 0-1 .1-1 .1-1-.3-1 .5-1-.5-1 .5-1-.1-1-.3-1 .4-1-.3-1 .1-1-.3-1 .3-1 .2-1-.4-1 .1-1 0-1-.1-1 .2-1 .2-1 0-1 0-1-.1-1-.1-1 0-1-.2-1 .3-1-.1-1 0-1 .1-1-.1-1-.2-1-.1-1 .1-1 .2-1 0-1 0-1-.1-1 0-1-.1-1-.1-1 .1-1 .2-1 .2-1-.3-1 .2-1-.1-1 .2-1-.2-1 .2-1-.4-1 .3-1-.3-1 0-1 .1-1-.2-1 .5-1-.2-1 .1-1-.3-1 .2-1 .1-1-.1-1-.2-1-.1-1 .3-1-.2-1-.1-1 .1-1 .2-1 .2-1-.4-1 .4-1 .1-1-.4-1 .1-1-.3-1 .1-1 .2-1-.1-1 0-1 .2-1-.1-1 0-1 .2-1-.2-1-.1-1 .1-1 .2-1-.5-1 .2-1 .1-1-.2-1 .3-1-.1-1 0-1 0-1-.1-1 .3-1-.3-1-.1-1-.1-1 .3-1 0-1 0-1 .2-1-.2-1-.1-1 .1-1-.3-1 .4-1 .1-1-.2-1-.3-1 .5-1-.4-1 .2-1-.3-1 0-1 .1-1 0-1-.1-1 .5-1-.3-1 0-1 .2-1-.4-1 .3-1 .1-1 0-1 .1-1 0-1-.3-1 .2-1-.2-1 .2-1-.1-1-.1-1-.1-1 .1-1-.1-1 .1-1 .3-1 0-1-.2-1 0-1-.3-1 .4-1-.1-1 .2-1-.2-1-.3-1 .1-1 .1-1 .3-1-.3-1 0-1 0-1 .3-1-.5-1 .3-1 .2-1-.4-1-.1-1 .3-1-.1-1-.2-1 .2-1 .2-1 .1-1-.2-1-.1-1-.2-1 0-1 .2-1 0-1 0-1 .4-1-.3-1 .2-1-.4-1 .4-1-.1-1-.3-1 0-1 .3-1 .2-1-.3-1 .3-1-.3-1-.1-1 .2-1-.2-1 .3-1-.4-1 .4-1 0-1 0-1-.3-1 .3-1-.4-1 0-1 0-1 .1-1 .3-1-.1-1-.3-1 .4-1-.2-1 .2z" fill="#0000ff"/><path d="M177.8 144.4V151.3M178.2 143.1V151.1M178.8 143.6V153.4M179 145.8V150.7M179.2 144.5V152M179.8 144.8V150.2M271.2 145.7V151.4M271.8 143.5V153.5M272 145.7V150.7M272.2 141.1V155.5M272.5 144.5V151.7M272.8 136.3V155.2M273 142.1V151.5M273.2 139.6V154.2M273.5 143.7V151.1M273.8 139.2V153.6M274 143.5V150.7M274.2 142.3V152M274.5 145.1V150M274.8 145V150.2M273.2 145.9V150.8M273.8 144.7V153.9M274 146.3V150.9M274.2 143.5V156.3M274.5 145.7V152.1M274.8 137.1V153.4M275 142.5V150.7M275.2 138.7V154.6M275.5 143.3V151.3M275.8 142.7V151.5M276 145.3V149.7M275.8 145V149.4M276.2 142.7V150.3M276.5 145.3V149.1M276.8 143.8V152.7M277.2 142.2V152.9M277.5 145.1V150.4M277.8 144.2V151.9M278.2 145.6V150.9M279.8 144.6V150.7M280.2 143.7V153.3M280.5 145.8V150.6M280.8 141.4V152.4M281 144.6V150.2M281.2 142.8V152.2M281.5 145.4V150M259.2 144.9V150.8M259.8 145.3V151.6M260.2 145.2V150.6M260.8 145.6V151.1M261.2 143.7V153.1M261.5 145.8V150.5M261.8 144.5V151M262.2 144.3V153.1M262.5 146.1V150.5M262.8 144.2V151M263.2 144V150.2M263.8 143.9V150.4M264.2 143.8V150.8M253.2 145.7V150.5M253.8 144V150.3M254.2 143.6V150.3M254.8 144.9V151.5M255.2 143.1V150.7M255.8 144.6V150.1M256.2 145.7V151.3M244.8 145.5V151.5M245.2 145.5V150.7M245.8 143.9V152.2M246.2 144.4V152.6M246.8 145.5V152M247.2 144.9V151.6M247.8 145.3V150.1M248.2 143.5V151.9M248.8 145.9V152M249.2 146.1V151.5M249.8 145.6V151.2M238.2 144.5V150.4M238.8 145.3V150.7M239.2 145.3V151.4M239.8 143.3V150.7M240.2 145.3V151.5M240.8 144V151M241.2 144.2V152.3M241.8 145V150M365.8 145.2V149.8M366.2 144.4V150.6M366.8 144.5V150.7M367.2 144.5V150.9M367.8 143.7V151.6M368.2 144.9V150.2M368.8 144.8V150.5M576.2 145.2V150.1M576.8 144.2V152.4M577.2 140.7V155M577.5 144.3V151.4M577.8 139.8V154.8M578 143.8V151.4M578.2 135.5V161.2M578.5 141.7V154.6M578.8 135.9V161.6M579 141.9V154.8M579.2 137.6V154M579.5 142.7V151M579.8 141.1V154M580 144.5V150.9M580.2 145.4V153.3M580.5 146.6V150.6M579.2 144.8V150.7M579.8 144.8V153.2M580 146.3V150.5M580.2 140.8V153.3M580.5 144.3V150.6M580.8 139V157.8M581 143.4V152.8M581.2 141.5V157.8M581.5 144.7V152.9M581.8 143.2V153M582 145.5V150.4M582.2 143.3V153.8M582.5 145.6V150.8M582.8 144.9V149.7M584.2 144.9V149.7M584.8 144.7V152.6M585.2 135.7V155.4M585.5 141.8V151.6M585.8 135.1V163.5M586 141.5V155.7M586.2 133.2V166.7M586.5 140.6V157.3M586.8 125.5V163.4M587 136.7V155.7M587.2 136.4V166.4M587.5 142.2V157.2M587.8 137.5V155.2M588 142.7V151.5M588.2 138.5V157.4M588.5 143.2V152.6M588.8 144.9V151.2M589.2 145.3V149.9M587.8 146.5V150.7M588.2 140.8V155.7M588.5 144.4V151.8M588.8 138.8V158.6M589 143.3V153.2M589.2 133.9V166.6M589.5 140.9V157.2M589.8 127.3V164.7M590 137.6V156.3M590.2 130.3V164.9M590.5 139.1V156.4M590.8 142.3V157.5M591 145.1V152.7M591.2 144V150.1M590.8 143.9V152.9M591 145.9V150.4M591.2 141.6V154.5M591.5 144.7V151.2M591.8 133.6V155.8M592 140.8V151.9M592.2 132.2V169M592.5 140V158.5M592.8 123.1V165.3M593 135.5V156.6M593.2 125.7V163M593.5 136.8V155.4M593.8 115.5V168.9M594 131.7V158.4M594.2 131V164.7M594.5 139.5V156.3M594.8 123.5V159.5M595 135.7V153.7M595.2 132.7V162.9M595.5 140.3V155.4M595.8 140.2V156.5M596 144.1V152.2M596.2 142.8V154.6M596.5 145.4V151.2M596.8 145V151.6M596.2 142V152.5M596.5 144.9V150.2M596.8 138.3V154.7M597 143.1V151.3M597.2 139.3V155.7M597.5 143.6V151.8M597.8 130.3V160.6M598 139.1V154.3M598.2 134V166.9M598.5 141V157.4M598.8 131.3V156.9M599 139.6V152.4M599.2 133.3V157.1M599.5 140.6V152.5M599.8 138.9V153.8M600 143.4V150.9M600.2 143.4V152.8M600.8 145V150.8M599.8 145V149.8M600.2 143V150.7M600.8 142V155.5M601 145V151.7M601.2 143.7V155M601.5 145.8V151.4M601.8 139.3V154.7M602 143.6V151.3M602.2 144.5V155.2M602.5 146.2V151.6M602.8 142.8V150.9M603 145.4V149.4M603.2 145.5V150.9M613.2 144.7V151.1M613.8 145V150.5M614.2 143.4V151.6M614.8 143V151.2M615.2 144.3V152.7M615.8 143.3V152.9M616.2 145.5V150.7M619.8 143.8V150.9M620.2 141.4V151.9M620.5 144.7V149.9M620.8 137.7V153.8M621 142.8V150.9M621.2 136.8V158.8M621.5 142.3V153.3M621.8 129.7V165.7M622 138.8V156.8M622.2 138.5V159M622.5 143.2V153.5M622.8 132.8V160M623 140.3V153.9M623.2 138V156.8M623.5 142.9V152.4M623.8 139.2V158M624 143.6V153M624.2 141V153.6M624.5 144.4V150.7M624.8 144.4V150.2M626.8 142.9V153.5M627 145.4V150.7M627.2 140.3V156.2M627.5 144.1V152.1M627.8 140.5V155.5M628 144.2V151.7M628.2 142.6V157.8M628.5 145.3V152.8M628.8 143.1V154.6M629 145.5V151.2M629.2 145.9V151.6" fill="none" stroke="#0000ff" stroke-width="0.6" stroke-opacity=".9"/><path d="M106.6 141.1V152M179.3 138.7V183.3M196.2 144V158M239.4 140V161.1M255.3 141V158M280.6 136.3V158M335.5 117.5V183.3M342.5 140.4V169.3M388.5 140V157.3M413.8 136.3V166.4M426.5 138.2V181.4M433.2 141V154.4M439.5 135V155.5M466.6 144V156.8M476.2 117.8V182.6M491.4 64.8V242.3M498.6 141.9V168.8M517.7 143.5V185M589.4 91V199.7M622.2 129.1V164" fill="none" stroke="#0000ff" stroke-width="0.8" stroke-opacity=".62"/>
<path d="M33 46.3H635.5V250.6H33ZM108.31 250.6v-6M108.31 46.3v6M183.62 250.6v-6M183.62 46.3v6M258.94 250.6v-6M258.94 46.3v6M334.25 250.6v-6M334.25 46.3v6M409.56 250.6v-6M409.56 46.3v6M484.88 250.6v-6M484.88 46.3v6M560.19 250.6v-6M560.19 46.3v6M33 97.38h6M635.5 97.38h-6M33 148.45h6M635.5 148.45h-6M33 199.53h6M635.5 199.53h-6" fill="none" stroke="#8c8c8c" stroke-width="1"/>
<rect x="826" y="46.3" width="603" height="204.3" fill="#00008f"/>
<defs><linearGradient id="a0" x2="0" y2="1"><stop offset="0" stop-color="#0000a5"/><stop offset="0.188" stop-color="#0001f6"/><stop offset="0.41" stop-color="#0059fc"/><stop offset="0.729" stop-color="#0001f5"/><stop offset="1" stop-color="#0000a3"/></linearGradient><linearGradient id="a1" x2="0" y2="1"><stop offset="0" stop-color="#0000a2"/><stop offset="0.43" stop-color="#0000ef"/><stop offset="1" stop-color="#0000a2"/></linearGradient><linearGradient id="a2" x2="0" y2="1"><stop offset="0" stop-color="#0000a2"/><stop offset="0.445" stop-color="#0000e1"/><stop offset="1" stop-color="#0000a2"/></linearGradient><linearGradient id="a3" x2="0" y2="1"><stop offset="0" stop-color="#0000a5"/><stop offset="0.162" stop-color="#0000f9"/><stop offset="0.478" stop-color="#0098ff"/><stop offset="0.816" stop-color="#0002f9"/><stop offset="1" stop-color="#0000a2"/></linearGradient><linearGradient id="a4" x2="0" y2="1"><stop offset="0" stop-color="#a0ef5f"/><stop offset="0.147" stop-color="#76ec89"/><stop offset="0.245" stop-color="#30e6cf"/><stop offset="0.304" stop-color="#05d3fa"/><stop offset="0.404" stop-color="#59d9a6"/><stop offset="0.407" stop-color="#3bc0bd"/><stop offset="0.409" stop-color="#31b5c6"/><stop offset="0.431" stop-color="#1e9dd6"/><stop offset="0.434" stop-color="#75da8a"/><stop offset="0.461" stop-color="#8fdb70"/><stop offset="0.463" stop-color="#62c397"/><stop offset="0.468" stop-color="#4dbaaa"/><stop offset="0.49" stop-color="#3ba6ba"/><stop offset="0.522" stop-color="#38a3bd"/><stop offset="0.525" stop-color="#b0dc4f"/><stop offset="0.662" stop-color="#c2d83d"/><stop offset="0.676" stop-color="#b0dc4f"/><stop offset="0.679" stop-color="#3aa5bb"/><stop offset="0.696" stop-color="#54bda4"/><stop offset="0.699" stop-color="#90db6f"/><stop offset="0.767" stop-color="#32d7cd"/><stop offset="0.816" stop-color="#00caff"/><stop offset="0.892" stop-color="#007ffc"/><stop offset="1" stop-color="#003bf9"/></linearGradient><linearGradient id="a5" x2="0" y2="1"><stop offset="0" stop-color="#80ff7f"/><stop offset="1" stop-color="#a1ff5e"/></linearGradient><linearGradient id="a6" x2="0" y2="1"><stop offset="0" stop-color="#c5ff3a"/><stop offset="0.423" stop-color="#e3ff1c"/><stop offset="1" stop-color="#e9ff16"/></linearGradient><linearGradient id="a7" x2="0" y2="1"><stop offset="0" stop-color="#edff12"/><stop offset="1" stop-color="#c8ff37"/></linearGradient><linearGradient id="a8" x2="0" y2="1"><stop offset="0" stop-color="#0000a2"/><stop offset="0.454" stop-color="#0000d1"/><stop offset="1" stop-color="#0000a2"/></linearGradient><linearGradient id="a9" x2="0" y2="1"><stop offset="0" stop-color="#0000d1"/><stop offset="1" stop-color="#0000a2"/></linearGradient><linearGradient id="a10" x2="0" y2="1"><stop offset="0" stop-color="#0000a2"/><stop offset="1" stop-color="#0000d0"/></linearGradient><linearGradient id="a11" x2="0" y2="1"><stop offset="0" stop-color="#0000a2"/><stop offset="0.261" stop-color="#0000f7"/><stop offset="0.425" stop-color="#0030fb"/><stop offset="0.948" stop-color="#0006f8"/><stop offset="1" stop-color="#0000a8"/></linearGradient><linearGradient id="a12" x2="0" y2="1"><stop offset="0" stop-color="#0000a5"/><stop offset="0.15" stop-color="#0000e0"/><stop offset="1" stop-color="#0000df"/></linearGradient><linearGradient id="a13" x2="0" y2="1"><stop offset="0" stop-color="#0000f1"/><stop offset="0.147" stop-color="#0023fd"/><stop offset="0.272" stop-color="#008fff"/><stop offset="0.346" stop-color="#00d8ff"/><stop offset="0.368" stop-color="#11ddee"/><stop offset="0.466" stop-color="#89de76"/><stop offset="0.588" stop-color="#89de76"/><stop offset="0.662" stop-color="#29dad6"/><stop offset="0.689" stop-color="#20d9df"/><stop offset="0.784" stop-color="#05d0fa"/><stop offset="0.939" stop-color="#05cefa"/><stop offset="0.941" stop-color="#0078f4"/><stop offset="1" stop-color="#0078f4"/></linearGradient><linearGradient id="a14" x2="0" y2="1"><stop offset="0" stop-color="#0000a4"/><stop offset="0.105" stop-color="#0002f9"/><stop offset="0.149" stop-color="#0023fd"/><stop offset="0.403" stop-color="#005afe"/><stop offset="0.657" stop-color="#00bbff"/><stop offset="1" stop-color="#00c7ff"/></linearGradient><linearGradient id="a15" x2="0" y2="1"><stop offset="0" stop-color="#0000a4"/><stop offset="0.169" stop-color="#0002f8"/><stop offset="0.241" stop-color="#0022fa"/><stop offset="1" stop-color="#003dfb"/></linearGradient><linearGradient id="a16" x2="0" y2="1"><stop offset="0" stop-color="#0031fe"/><stop offset="0.426" stop-color="#007dff"/><stop offset="0.766" stop-color="#0086ff"/><stop offset="0.894" stop-color="#0057fa"/><stop offset="0.949" stop-color="#0005f5"/><stop offset="1" stop-color="#0000a7"/></linearGradient><linearGradient id="a17" x2="0" y2="1"><stop offset="0" stop-color="#0000a4"/><stop offset="0.058" stop-color="#0002f8"/><stop offset="0.157" stop-color="#0086ff"/><stop offset="0.605" stop-color="#00adff"/><stop offset="1" stop-color="#00b8ff"/></linearGradient><linearGradient id="a18" x2="0" y2="1"><stop offset="0" stop-color="#0000a8"/><stop offset="0.064" stop-color="#0001f8"/><stop offset="0.168" stop-color="#0077ff"/><stop offset="0.564" stop-color="#009eff"/><stop offset="1" stop-color="#00b8ff"/></linearGradient><linearGradient id="a19" x2="0" y2="1"><stop offset="0" stop-color="#008efe"/><stop offset="0.003" stop-color="#006ff6"/><stop offset="0.025" stop-color="#005cf4"/><stop offset="0.028" stop-color="#0094fe"/><stop offset="0.126" stop-color="#00aaff"/><stop offset="0.157" stop-color="#00ceff"/><stop offset="0.201" stop-color="#27d8d8"/><stop offset="0.311" stop-color="#c0de3f"/><stop offset="0.349" stop-color="#cbaf34"/><stop offset="0.352" stop-color="#91b168"/><stop offset="0.358" stop-color="#7cae7b"/><stop offset="0.396" stop-color="#60a295"/><stop offset="0.399" stop-color="#949864"/><stop offset="0.418" stop-color="#7b9b7b"/><stop offset="0.44" stop-color="#6f9a87"/><stop offset="0.717" stop-color="#69978b"/><stop offset="0.72" stop-color="#4e97a5"/><stop offset="0.767" stop-color="#5097a4"/><stop offset="0.799" stop-color="#5da097"/><stop offset="0.802" stop-color="#3c98b7"/><stop offset="0.846" stop-color="#50a6a5"/><stop offset="0.849" stop-color="#2890cb"/><stop offset="0.943" stop-color="#3aa4bb"/><stop offset="0.947" stop-color="#8bd774"/><stop offset="0.959" stop-color="#30d0cf"/><stop offset="0.965" stop-color="#08c9f5"/><stop offset="0.969" stop-color="#00b9fd"/><stop offset="0.991" stop-color="#0011f6"/><stop offset="0.994" stop-color="#0000ee"/><stop offset="1" stop-color="#0000b9"/></linearGradient><linearGradient id="a20" x2="0" y2="1"><stop offset="0" stop-color="#00b3ff"/><stop offset="1" stop-color="#00baff"/></linearGradient><linearGradient id="a21" x2="0" y2="1"><stop offset="0" stop-color="#e8fe17"/><stop offset="0.03" stop-color="#e8fe17"/><stop offset="0.061" stop-color="#fed201"/><stop offset="0.242" stop-color="#fceb03"/><stop offset="0.606" stop-color="#f9ff06"/><stop offset="0.97" stop-color="#e2ff1d"/><stop offset="1" stop-color="#c7ff38"/></linearGradient><linearGradient id="a22" x2="0" y2="1"><stop offset="0" stop-color="#ffd200"/><stop offset="0.056" stop-color="#ffd200"/><stop offset="0.111" stop-color="#ff7a00"/><stop offset="0.389" stop-color="#ff9b00"/><stop offset="1" stop-color="#ffcf00"/></linearGradient><linearGradient id="a23" x2="0" y2="1"><stop offset="0" stop-color="#ffaf00"/><stop offset="0.875" stop-color="#ff7100"/><stop offset="0.938" stop-color="#ff8600"/><stop offset="1" stop-color="#ff8800"/></linearGradient><linearGradient id="a24" x2="0" y2="1"><stop offset="0" stop-color="#ff8e00"/><stop offset="0.034" stop-color="#ff8e00"/><stop offset="0.069" stop-color="#ff2000"/><stop offset="0.586" stop-color="#ff2a00"/><stop offset="1" stop-color="#ff7900"/></linearGradient><linearGradient id="a25" x2="0" y2="1"><stop offset="0" stop-color="#ff6b00"/><stop offset="0.135" stop-color="#ff3100"/><stop offset="0.635" stop-color="#fe0b00"/><stop offset="0.817" stop-color="#ff0c00"/><stop offset="1" stop-color="#ff1900"/></linearGradient><linearGradient id="a26" x2="0" y2="1"><stop offset="0" stop-color="#0000b2"/><stop offset="0.037" stop-color="#0007f9"/><stop offset="0.141" stop-color="#00d2ff"/><stop offset="0.156" stop-color="#11deee"/><stop offset="0.2" stop-color="#64e29b"/><stop offset="0.496" stop-color="#8be174"/><stop offset="1" stop-color="#8be174"/></linearGradient><linearGradient id="a27" x2="0" y2="1"><stop offset="0" stop-color="#0000a4"/><stop offset="0.037" stop-color="#0000f7"/><stop offset="0.14" stop-color="#00d8ff"/><stop offset="0.154" stop-color="#19dee6"/><stop offset="0.206" stop-color="#80e37f"/><stop offset="0.5" stop-color="#a4e05b"/><stop offset="0.632" stop-color="#a0df5f"/><stop offset="0.64" stop-color="#49b5ae"/><stop offset="0.956" stop-color="#62c397"/><stop offset="0.993" stop-color="#6ecb8d"/><stop offset="1" stop-color="#94dd6b"/></linearGradient><linearGradient id="a28" x2="0" y2="1"><stop offset="0" stop-color="#cfff30"/><stop offset="1" stop-color="#c4ff3b"/></linearGradient><linearGradient id="a29" x2="0" y2="1"><stop offset="0" stop-color="#0000a3"/><stop offset="0.312" stop-color="#0000ef"/><stop offset="0.822" stop-color="#0000ef"/><stop offset="1" stop-color="#0000a3"/></linearGradient><linearGradient id="a30" x2="0" y2="1"><stop offset="0" stop-color="#004fff"/><stop offset="0.392" stop-color="#005fff"/><stop offset="0.466" stop-color="#00a4ff"/><stop offset="0.89" stop-color="#00adfc"/><stop offset="0.892" stop-color="#0044ee"/><stop offset="1" stop-color="#0042ed"/></linearGradient><linearGradient id="a31" x2="0" y2="1"><stop offset="0" stop-color="#0000a5"/><stop offset="0.153" stop-color="#0001f9"/><stop offset="0.277" stop-color="#0040ff"/><stop offset="1" stop-color="#005fff"/></linearGradient><linearGradient id="a32" x2="0" y2="1"><stop offset="0" stop-color="#0000a3"/><stop offset="0.376" stop-color="#0000d0"/><stop offset="1" stop-color="#0000d0"/></linearGradient><linearGradient id="a33" x2="0" y2="1"><stop offset="0" stop-color="#0000a2"/><stop offset="0.409" stop-color="#0000d0"/><stop offset="1" stop-color="#0000d0"/></linearGradient><linearGradient id="a34" x2="0" y2="1"><stop offset="0" stop-color="#d4a12a"/><stop offset="0.147" stop-color="#d46d2a"/><stop offset="0.294" stop-color="#d5442a"/><stop offset="0.578" stop-color="#d73228"/><stop offset="0.784" stop-color="#c6272a"/><stop offset="0.826" stop-color="#b6302a"/><stop offset="0.86" stop-color="#943541"/><stop offset="0.863" stop-color="#913643"/><stop offset="0.865" stop-color="#8f5351"/><stop offset="0.882" stop-color="#835b67"/><stop offset="0.885" stop-color="#0014df"/><stop offset="0.941" stop-color="#0014df"/><stop offset="0.944" stop-color="#0004d5"/><stop offset="1" stop-color="#0004d5"/></linearGradient><linearGradient id="a35" x2="0" y2="1"><stop offset="0" stop-color="#004bff"/><stop offset="0.04" stop-color="#004bff"/><stop offset="0.08" stop-color="#81b37e"/><stop offset="0.12" stop-color="#81b37e"/><stop offset="0.16" stop-color="#06a4f9"/><stop offset="1" stop-color="#06a4f9"/></linearGradient><linearGradient id="a36" x2="0" y2="1"><stop offset="0" stop-color="#ae743e"/><stop offset="0.037" stop-color="#ad773f"/><stop offset="0.074" stop-color="#a9a056"/><stop offset="0.185" stop-color="#a7a158"/><stop offset="0.222" stop-color="#36dec9"/><stop offset="0.926" stop-color="#35deca"/><stop offset="0.963" stop-color="#92c46d"/><stop offset="1" stop-color="#92c46d"/></linearGradient><linearGradient id="a37" x2="0" y2="1"><stop offset="0" stop-color="#d7c028"/><stop offset="0.043" stop-color="#d6c029"/><stop offset="0.087" stop-color="#cbdd34"/><stop offset="1" stop-color="#cade35"/></linearGradient><linearGradient id="a38" x2="0" y2="1"><stop offset="0" stop-color="#fa7604"/><stop offset="0.435" stop-color="#fa7804"/><stop offset="0.478" stop-color="#faa305"/><stop offset="1" stop-color="#f9a406"/></linearGradient><linearGradient id="a39" x2="0" y2="1"><stop offset="0" stop-color="#ff4b00"/><stop offset="0.043" stop-color="#ff4b00"/><stop offset="0.087" stop-color="#e21500"/><stop offset="1" stop-color="#e31700"/></linearGradient><linearGradient id="a40" x2="0" y2="1"><stop offset="0" stop-color="#fa0c00"/><stop offset="0.062" stop-color="#fa0c00"/><stop offset="0.125" stop-color="#a10000"/><stop offset="0.875" stop-color="#9b0000"/><stop offset="0.938" stop-color="#d80400"/><stop offset="1" stop-color="#d80400"/></linearGradient><linearGradient id="a41" x2="0" y2="1"><stop offset="0" stop-color="#bc0000"/><stop offset="0.062" stop-color="#bd0000"/><stop offset="0.125" stop-color="#9f0000"/><stop offset="1" stop-color="#920000"/></linearGradient><linearGradient id="a42" x2="0" y2="1"><stop offset="0" stop-color="#a00000"/><stop offset="1" stop-color="#910000"/></linearGradient><linearGradient id="a43" x2="0" y2="1"><stop offset="0" stop-color="#005bff"/><stop offset="0.491" stop-color="#004dff"/><stop offset="0.708" stop-color="#0002f8"/><stop offset="1" stop-color="#0000a2"/></linearGradient><linearGradient id="a44" x2="0" y2="1"><stop offset="0" stop-color="#0000a3"/><stop offset="0.318" stop-color="#0000d0"/><stop offset="1" stop-color="#0000d0"/></linearGradient><linearGradient id="a45" x2="0" y2="1"><stop offset="0" stop-color="#0000a4"/><stop offset="0.163" stop-color="#0001f7"/><stop offset="0.492" stop-color="#0057fa"/><stop offset="0.496" stop-color="#003bf4"/><stop offset="0.524" stop-color="#002dee"/><stop offset="0.528" stop-color="#0062fa"/><stop offset="0.651" stop-color="#0086fa"/><stop offset="0.655" stop-color="#0065f5"/><stop offset="0.663" stop-color="#005bf4"/><stop offset="0.726" stop-color="#0047ee"/><stop offset="0.73" stop-color="#001de6"/><stop offset="0.845" stop-color="#001be4"/><stop offset="0.849" stop-color="#0005d9"/><stop offset="1" stop-color="#0005d8"/></linearGradient><linearGradient id="a46" x2="0" y2="1"><stop offset="0" stop-color="#004dff"/><stop offset="0.025" stop-color="#004dff"/><stop offset="0.05" stop-color="#0075ff"/><stop offset="1" stop-color="#0072ff"/></linearGradient><linearGradient id="a47" x2="0" y2="1"><stop offset="0" stop-color="#0070ff"/><stop offset="1" stop-color="#007eff"/></linearGradient><linearGradient id="a48" x2="0" y2="1"><stop offset="0" stop-color="#0095ff"/><stop offset="0.03" stop-color="#0095ff"/><stop offset="0.061" stop-color="#00c6ff"/><stop offset="0.939" stop-color="#00d4ff"/><stop offset="0.97" stop-color="#0093ff"/><stop offset="1" stop-color="#0093ff"/></linearGradient><linearGradient id="a49" x2="0" y2="1"><stop offset="0" stop-color="#00b4ff"/><stop offset="1" stop-color="#00d1ff"/></linearGradient><linearGradient id="a50" x2="0" y2="1"><stop offset="0" stop-color="#00e0ff"/><stop offset="0.425" stop-color="#00e9ff"/><stop offset="0.55" stop-color="#00dfff"/><stop offset="1" stop-color="#00daff"/></linearGradient><linearGradient id="a51" x2="0" y2="1"><stop offset="0" stop-color="#00f7ff"/><stop offset="1" stop-color="#06fef9"/></linearGradient><linearGradient id="a52" x2="0" y2="1"><stop offset="0" stop-color="#0000a3"/><stop offset="0.467" stop-color="#0000ef"/><stop offset="1" stop-color="#0000ee"/></linearGradient><linearGradient id="a53" x2="0" y2="1"><stop offset="0" stop-color="#0023fd"/><stop offset="0.294" stop-color="#0040ff"/><stop offset="1" stop-color="#0007fa"/></linearGradient><linearGradient id="a54" x2="0" y2="1"><stop offset="0" stop-color="#4ce8b3"/><stop offset="0.098" stop-color="#06e3f9"/><stop offset="0.127" stop-color="#00e1ff"/><stop offset="0.392" stop-color="#009cff"/><stop offset="0.885" stop-color="#0001f9"/><stop offset="1" stop-color="#0000d1"/></linearGradient><linearGradient id="a55" x2="0" y2="1"><stop offset="0" stop-color="#0000a2"/><stop offset="0.456" stop-color="#0000ef"/><stop offset="1" stop-color="#0006f8"/></linearGradient><linearGradient id="a56" x2="0" y2="1"><stop offset="0" stop-color="#0007fa"/><stop offset="0.343" stop-color="#0023fd"/><stop offset="0.441" stop-color="#009cff"/><stop offset="0.48" stop-color="#00daff"/><stop offset="0.49" stop-color="#0bdff4"/><stop offset="0.539" stop-color="#56e1a9"/><stop offset="0.637" stop-color="#99e266"/><stop offset="0.64" stop-color="#6fcc8c"/><stop offset="0.642" stop-color="#6bc98f"/><stop offset="0.684" stop-color="#54bda3"/><stop offset="0.686" stop-color="#9de162"/><stop offset="0.804" stop-color="#a0df5f"/><stop offset="0.806" stop-color="#49b6ad"/><stop offset="0.85" stop-color="#60c298"/><stop offset="0.855" stop-color="#69c791"/><stop offset="0.858" stop-color="#94dd6b"/><stop offset="0.931" stop-color="#83da7c"/><stop offset="0.949" stop-color="#75da8a"/><stop offset="0.951" stop-color="#1e9dd6"/><stop offset="0.971" stop-color="#28a9cd"/><stop offset="0.98" stop-color="#34bac4"/><stop offset="0.983" stop-color="#5ad9a5"/><stop offset="1" stop-color="#4dd8b2"/></linearGradient><linearGradient id="a57" x2="0" y2="1"><stop offset="0" stop-color="#a1ff5e"/><stop offset="1" stop-color="#82ff7d"/></linearGradient><linearGradient id="a58" x2="0" y2="1"><stop offset="0" stop-color="#c4ff3b"/><stop offset="1" stop-color="#c9ff36"/></linearGradient><linearGradient id="a59" x2="0" y2="1"><stop offset="0" stop-color="#d0ff2f"/><stop offset="1" stop-color="#c4ff3b"/></linearGradient><linearGradient id="a60" x2="0" y2="1"><stop offset="0" stop-color="#d4d52a"/><stop offset="0.098" stop-color="#d4ae2a"/><stop offset="0.294" stop-color="#d4942a"/><stop offset="0.76" stop-color="#d42a2a"/><stop offset="0.797" stop-color="#ce2a2a"/><stop offset="0.799" stop-color="#808976"/><stop offset="0.841" stop-color="#798a7d"/><stop offset="0.843" stop-color="#649591"/><stop offset="0.868" stop-color="#629492"/><stop offset="0.87" stop-color="#4994aa"/><stop offset="0.89" stop-color="#4893ab"/><stop offset="0.892" stop-color="#3289c0"/><stop offset="0.909" stop-color="#3289c0"/><stop offset="0.912" stop-color="#1d7cd3"/><stop offset="0.931" stop-color="#1c7cd3"/><stop offset="0.934" stop-color="#0d6ce0"/><stop offset="0.951" stop-color="#0d6ce0"/><stop offset="0.953" stop-color="#025ae9"/><stop offset="0.973" stop-color="#0259e9"/><stop offset="0.975" stop-color="#0041e9"/><stop offset="0.995" stop-color="#0040e9"/><stop offset="0.998" stop-color="#8c6a69"/><stop offset="1" stop-color="#8c6a69"/></linearGradient><linearGradient id="a61" x2="0" y2="1"><stop offset="0" stop-color="#1affe5"/><stop offset="0.083" stop-color="#1affe5"/><stop offset="0.167" stop-color="#c9bb36"/><stop offset="0.25" stop-color="#c9bb36"/><stop offset="0.333" stop-color="#d97e23"/><stop offset="1" stop-color="#d78125"/></linearGradient><linearGradient id="a62" x2="0" y2="1"><stop offset="0" stop-color="#5effa1"/><stop offset="0.083" stop-color="#5effa1"/><stop offset="0.167" stop-color="#ddb122"/><stop offset="1" stop-color="#ddb222"/></linearGradient><linearGradient id="a63" x2="0" y2="1"><stop offset="0" stop-color="#a2ff5d"/><stop offset="0.091" stop-color="#a2ff5d"/><stop offset="0.182" stop-color="#f35f09"/><stop offset="0.818" stop-color="#f2620a"/><stop offset="0.909" stop-color="#efa710"/><stop offset="1" stop-color="#efa710"/></linearGradient><linearGradient id="a64" x2="0" y2="1"><stop offset="0" stop-color="#e6fe19"/><stop offset="0.083" stop-color="#e6fe19"/><stop offset="0.167" stop-color="#fa5100"/><stop offset="1" stop-color="#fb5500"/></linearGradient><linearGradient id="a65" x2="0" y2="1"><stop offset="0" stop-color="#ffd300"/><stop offset="0.091" stop-color="#ffd300"/><stop offset="0.182" stop-color="#f93a00"/><stop offset="1" stop-color="#fa3e00"/></linearGradient><linearGradient id="a66" x2="0" y2="1"><stop offset="0" stop-color="#ff8f00"/><stop offset="0.083" stop-color="#ff8f00"/><stop offset="0.167" stop-color="#f82500"/><stop offset="1" stop-color="#f92900"/></linearGradient><linearGradient id="a67" x2="0" y2="1"><stop offset="0" stop-color="#ff4900"/><stop offset="0.071" stop-color="#ff4900"/><stop offset="0.143" stop-color="#eb0700"/><stop offset="0.857" stop-color="#ea0700"/><stop offset="0.929" stop-color="#f71600"/><stop offset="1" stop-color="#f71600"/></linearGradient><linearGradient id="a68" x2="0" y2="1"><stop offset="0" stop-color="#f60200"/><stop offset="1" stop-color="#ea0100"/></linearGradient><linearGradient id="a69" x2="0" y2="1"><stop offset="0" stop-color="#f70800"/><stop offset="0.071" stop-color="#f70800"/><stop offset="0.143" stop-color="#e30200"/><stop offset="0.857" stop-color="#e10200"/><stop offset="0.929" stop-color="#f70900"/><stop offset="1" stop-color="#f70900"/></linearGradient><linearGradient id="a70" x2="0" y2="1"><stop offset="0" stop-color="#e30000"/><stop offset="1" stop-color="#db0000"/></linearGradient><linearGradient id="a71" x2="0" y2="1"><stop offset="0" stop-color="#d3ed2c"/><stop offset="0.114" stop-color="#00dfff"/><stop offset="0.583" stop-color="#008dff"/><stop offset="0.816" stop-color="#0023fd"/><stop offset="0.872" stop-color="#0001f9"/><stop offset="1" stop-color="#0000a4"/></linearGradient><linearGradient id="a72" x2="0" y2="1"><stop offset="0" stop-color="#007dff"/><stop offset="0.56" stop-color="#005fff"/><stop offset="0.818" stop-color="#0001f9"/><stop offset="1" stop-color="#0000a2"/></linearGradient><linearGradient id="a73" x2="0" y2="1"><stop offset="0" stop-color="#0000f1"/><stop offset="0.694" stop-color="#0000e1"/><stop offset="1" stop-color="#0000a2"/></linearGradient><linearGradient id="a74" x2="0" y2="1"><stop offset="0" stop-color="#4ce8b3"/><stop offset="0.255" stop-color="#11e4ee"/><stop offset="0.294" stop-color="#05d9fa"/><stop offset="0.422" stop-color="#05cefa"/><stop offset="0.424" stop-color="#0078f4"/><stop offset="0.603" stop-color="#0074f4"/><stop offset="0.605" stop-color="#003cec"/><stop offset="0.77" stop-color="#0030e8"/><stop offset="0.772" stop-color="#0017e2"/><stop offset="0.824" stop-color="#0015e1"/><stop offset="0.826" stop-color="#0004d6"/><stop offset="1" stop-color="#0004d5"/></linearGradient><linearGradient id="a75" x2="0" y2="1"><stop offset="0" stop-color="#004cff"/><stop offset="0.014" stop-color="#004cff"/><stop offset="0.027" stop-color="#06adf9"/><stop offset="1" stop-color="#06a7f9"/></linearGradient><linearGradient id="a76" x2="0" y2="1"><stop offset="0" stop-color="#0091ff"/><stop offset="0.04" stop-color="#0091ff"/><stop offset="0.08" stop-color="#2fe5d0"/><stop offset="0.92" stop-color="#23dcdc"/><stop offset="0.96" stop-color="#09cef6"/><stop offset="1" stop-color="#09cdf6"/></linearGradient><linearGradient id="a77" x2="0" y2="1"><stop offset="0" stop-color="#00dbff"/><stop offset="0.014" stop-color="#00dbff"/><stop offset="0.028" stop-color="#05f8fa"/><stop offset="0.239" stop-color="#08f8f7"/><stop offset="0.775" stop-color="#46fcb9"/><stop offset="0.887" stop-color="#5ffda0"/><stop offset="0.901" stop-color="#47f8b8"/><stop offset="1" stop-color="#37f6c8"/></linearGradient><linearGradient id="a78" x2="0" y2="1"><stop offset="0" stop-color="#5fffa0"/><stop offset="0.014" stop-color="#5fffa0"/><stop offset="0.027" stop-color="#d3ff2c"/><stop offset="0.068" stop-color="#d9fc26"/><stop offset="0.082" stop-color="#c7fe38"/><stop offset="0.11" stop-color="#c0fe3f"/><stop offset="0.247" stop-color="#b4ff4b"/><stop offset="1" stop-color="#a8ff57"/></linearGradient><linearGradient id="a79" x2="0" y2="1"><stop offset="0" stop-color="#83ff7c"/><stop offset="1" stop-color="#e5ff1a"/></linearGradient><linearGradient id="a80" x2="0" y2="1"><stop offset="0" stop-color="#fff400"/><stop offset="0.582" stop-color="#ff9800"/><stop offset="0.791" stop-color="#ff8a00"/><stop offset="0.806" stop-color="#ff9600"/><stop offset="0.836" stop-color="#ff9a00"/><stop offset="1" stop-color="#ffa200"/></linearGradient><linearGradient id="a81" x2="0" y2="1"><stop offset="0" stop-color="#ff6e00"/><stop offset="1" stop-color="#ff6100"/></linearGradient><linearGradient id="a82" x2="0" y2="1"><stop offset="0" stop-color="#0000aa"/><stop offset="0.034" stop-color="#0000f9"/><stop offset="0.119" stop-color="#00b2ff"/><stop offset="0.184" stop-color="#00bbff"/><stop offset="0.304" stop-color="#00caff"/><stop offset="0.7" stop-color="#00aaff"/><stop offset="0.836" stop-color="#0096fe"/><stop offset="0.84" stop-color="#0056f4"/><stop offset="0.891" stop-color="#006af5"/><stop offset="0.898" stop-color="#0073f6"/><stop offset="0.901" stop-color="#008dfd"/><stop offset="1" stop-color="#007ffc"/></linearGradient><linearGradient id="a83" x2="0" y2="1"><stop offset="0" stop-color="#00bdff"/><stop offset="1" stop-color="#00b3ff"/></linearGradient><linearGradient id="a84" x2="0" y2="1"><stop offset="0" stop-color="#008dff"/><stop offset="0.168" stop-color="#00e1ff"/><stop offset="0.305" stop-color="#60dd9f"/><stop offset="0.308" stop-color="#3dc1bc"/><stop offset="0.311" stop-color="#38bec1"/><stop offset="0.341" stop-color="#2badcb"/><stop offset="0.345" stop-color="#68dc97"/><stop offset="0.549" stop-color="#90db6f"/><stop offset="0.552" stop-color="#57bea1"/><stop offset="0.555" stop-color="#4dbaaa"/><stop offset="0.582" stop-color="#39a4bc"/><stop offset="0.585" stop-color="#b2dc4d"/><stop offset="0.607" stop-color="#c2d93d"/><stop offset="0.61" stop-color="#82c277"/><stop offset="0.613" stop-color="#76be81"/><stop offset="0.622" stop-color="#64b993"/><stop offset="0.643" stop-color="#54aaa1"/><stop offset="0.646" stop-color="#c9b836"/><stop offset="0.659" stop-color="#cbae34"/><stop offset="0.662" stop-color="#91b168"/><stop offset="0.671" stop-color="#7cae7b"/><stop offset="0.78" stop-color="#66a690"/><stop offset="0.784" stop-color="#d28a2d"/><stop offset="0.817" stop-color="#d4822b"/><stop offset="0.82" stop-color="#a59557"/><stop offset="0.826" stop-color="#9d955d"/><stop offset="0.915" stop-color="#7d9b79"/><stop offset="0.918" stop-color="#979762"/><stop offset="0.921" stop-color="#d18f2e"/><stop offset="0.933" stop-color="#c3d53c"/><stop offset="0.936" stop-color="#b6dc49"/><stop offset="0.954" stop-color="#35d7ca"/><stop offset="0.963" stop-color="#00c9ff"/><stop offset="0.988" stop-color="#001bf7"/><stop offset="0.991" stop-color="#0005f5"/><stop offset="1" stop-color="#0000b4"/></linearGradient><linearGradient id="a85" x2="0" y2="1"><stop offset="0" stop-color="#80ff7f"/><stop offset="1" stop-color="#8aff75"/></linearGradient><linearGradient id="a86" x2="0" y2="1"><stop offset="0" stop-color="#c7ff38"/><stop offset="1" stop-color="#edff12"/></linearGradient><linearGradient id="a87" x2="0" y2="1"><stop offset="0" stop-color="#fff400"/><stop offset="1" stop-color="#ffc400"/></linearGradient><linearGradient id="a88" x2="0" y2="1"><stop offset="0" stop-color="#ffaf00"/><stop offset="0.073" stop-color="#ffa300"/><stop offset="1" stop-color="#ff7e00"/></linearGradient><linearGradient id="a89" x2="0" y2="1"><stop offset="0" stop-color="#ff6e00"/><stop offset="0.969" stop-color="#ff4f00"/><stop offset="1" stop-color="#ff6800"/></linearGradient><linearGradient id="a90" x2="0" y2="1"><stop offset="0" stop-color="#d4522a"/><stop offset="0.025" stop-color="#d42e28"/><stop offset="0.072" stop-color="#942a23"/><stop offset="0.736" stop-color="#75272a"/><stop offset="0.881" stop-color="#7e192a"/><stop offset="0.982" stop-color="#7e192a"/><stop offset="0.986" stop-color="#d4352a"/><stop offset="0.989" stop-color="#d0b92f"/><stop offset="0.993" stop-color="#6ddd92"/><stop offset="0.996" stop-color="#00b6ff"/><stop offset="1" stop-color="#0026f9"/></linearGradient><linearGradient id="a91" x2="0" y2="1"><stop offset="0" stop-color="#1cd9e3"/><stop offset="0.901" stop-color="#26d5d9"/><stop offset="0.914" stop-color="#02ccfd"/><stop offset="0.919" stop-color="#00bfff"/><stop offset="0.973" stop-color="#000ef7"/><stop offset="0.977" stop-color="#0001f4"/><stop offset="1" stop-color="#0000a4"/></linearGradient><linearGradient id="a92" x2="0" y2="1"><stop offset="0" stop-color="#d4a12a"/><stop offset="0.721" stop-color="#d4a12a"/><stop offset="0.86" stop-color="#d4e82b"/><stop offset="0.901" stop-color="#caf235"/><stop offset="0.941" stop-color="#07e3f8"/><stop offset="0.946" stop-color="#00d3ff"/><stop offset="0.986" stop-color="#0003f9"/><stop offset="1" stop-color="#0000b3"/></linearGradient><linearGradient id="a93" x2="0" y2="1"><stop offset="0" stop-color="#00b2ff"/><stop offset="0.137" stop-color="#00c8ff"/><stop offset="0.142" stop-color="#009df7"/><stop offset="0.146" stop-color="#0096f6"/><stop offset="0.189" stop-color="#007df4"/><stop offset="0.193" stop-color="#03cefc"/><stop offset="0.296" stop-color="#13cdec"/><stop offset="0.3" stop-color="#0069f2"/><stop offset="0.498" stop-color="#005def"/><stop offset="0.502" stop-color="#0035ea"/><stop offset="0.618" stop-color="#0033e9"/><stop offset="0.622" stop-color="#0018e2"/><stop offset="0.73" stop-color="#0018e2"/><stop offset="0.734" stop-color="#0005d8"/><stop offset="0.931" stop-color="#0006db"/><stop offset="0.936" stop-color="#0000c1"/><stop offset="0.974" stop-color="#0000c5"/><stop offset="0.983" stop-color="#0000d1"/><stop offset="1" stop-color="#0000a7"/></linearGradient><linearGradient id="a94" x2="0" y2="1"><stop offset="0" stop-color="#000dfa"/><stop offset="0.5" stop-color="#0010fb"/><stop offset="0.667" stop-color="#001afd"/><stop offset="0.833" stop-color="#0006fc"/><stop offset="1" stop-color="#0000ec"/></linearGradient><linearGradient id="a95" x2="0" y2="1"><stop offset="0" stop-color="#004cff"/><stop offset="0.019" stop-color="#004cff"/><stop offset="0.037" stop-color="#0097ff"/><stop offset="0.648" stop-color="#0099ff"/><stop offset="0.667" stop-color="#0070ff"/><stop offset="0.796" stop-color="#0079ff"/><stop offset="0.815" stop-color="#007eff"/><stop offset="0.833" stop-color="#0093ff"/><stop offset="1" stop-color="#0032ff"/></linearGradient><linearGradient id="a96" x2="0" y2="1"><stop offset="0" stop-color="#0091ff"/><stop offset="0.034" stop-color="#0091ff"/><stop offset="0.069" stop-color="#10dcef"/><stop offset="0.931" stop-color="#0fdaf0"/><stop offset="0.966" stop-color="#00b7ff"/><stop offset="1" stop-color="#00b7ff"/></linearGradient><linearGradient id="a97" x2="0" y2="1"><stop offset="0" stop-color="#00d7ff"/><stop offset="0.032" stop-color="#00d7ff"/><stop offset="0.065" stop-color="#1af4e5"/><stop offset="1" stop-color="#14f1eb"/></linearGradient><linearGradient id="a98" x2="0" y2="1"><stop offset="0" stop-color="#00d7ff"/><stop offset="0.5" stop-color="#00dbff"/><stop offset="0.6" stop-color="#00e8ff"/><stop offset="1" stop-color="#00bcff"/></linearGradient><linearGradient id="a99" x2="0" y2="1"><stop offset="0" stop-color="#00f7ff"/><stop offset="1" stop-color="#05fffa"/></linearGradient><linearGradient id="a100" x2="0" y2="1"><stop offset="0" stop-color="#1affe5"/><stop offset="0.76" stop-color="#33ffcc"/><stop offset="0.82" stop-color="#28ffd7"/><stop offset="1" stop-color="#23ffdc"/></linearGradient><linearGradient id="a101" x2="0" y2="1"><stop offset="0" stop-color="#1effe1"/><stop offset="0.026" stop-color="#1fffe0"/><stop offset="0.051" stop-color="#43ffbc"/><stop offset="0.282" stop-color="#3dffc2"/><stop offset="0.308" stop-color="#1fffe0"/><stop offset="0.795" stop-color="#25ffda"/><stop offset="0.897" stop-color="#2effd1"/><stop offset="1" stop-color="#03fefc"/></linearGradient><linearGradient id="a102" x2="0" y2="1"><stop offset="0" stop-color="#3cffc3"/><stop offset="0.815" stop-color="#58ffa7"/><stop offset="1" stop-color="#50ffaf"/></linearGradient><linearGradient id="a103" x2="0" y2="1"><stop offset="0" stop-color="#4bffb4"/><stop offset="1" stop-color="#3cffc3"/></linearGradient><linearGradient id="a104" x2="0" y2="1"><stop offset="0" stop-color="#0000ad"/><stop offset="0.009" stop-color="#0008ef"/><stop offset="0.019" stop-color="#0007dd"/><stop offset="0.043" stop-color="#0005d8"/><stop offset="0.28" stop-color="#0004d5"/><stop offset="0.284" stop-color="#0000bf"/><stop offset="1" stop-color="#0000bf"/></linearGradient><linearGradient id="a105" x2="0" y2="1"><stop offset="0" stop-color="#000cfa"/><stop offset="0.007" stop-color="#000cfa"/><stop offset="0.013" stop-color="#0028fc"/><stop offset="0.255" stop-color="#0027fc"/><stop offset="0.261" stop-color="#000cfa"/><stop offset="1" stop-color="#000cfa"/></linearGradient><linearGradient id="a106" x2="0" y2="1"><stop offset="0" stop-color="#003cff"/><stop offset="0.052" stop-color="#00afff"/><stop offset="0.069" stop-color="#00b0ff"/><stop offset="0.086" stop-color="#009dff"/><stop offset="0.103" stop-color="#0097ff"/><stop offset="0.172" stop-color="#0093ff"/><stop offset="0.966" stop-color="#008aff"/><stop offset="0.983" stop-color="#004bff"/><stop offset="1" stop-color="#004bff"/></linearGradient><linearGradient id="a107" x2="0" y2="1"><stop offset="0" stop-color="#004bff"/><stop offset="0.009" stop-color="#004bff"/><stop offset="0.017" stop-color="#006bff"/><stop offset="0.374" stop-color="#006bff"/><stop offset="0.513" stop-color="#006bff"/><stop offset="0.522" stop-color="#004bff"/><stop offset="1" stop-color="#004bff"/></linearGradient><linearGradient id="a108" x2="0" y2="1"><stop offset="0" stop-color="#00b0ff"/><stop offset="0.024" stop-color="#00b0ff"/><stop offset="0.049" stop-color="#08c9f7"/><stop offset="0.488" stop-color="#07c9f8"/><stop offset="0.512" stop-color="#00b0ff"/><stop offset="0.951" stop-color="#00b0ff"/><stop offset="0.976" stop-color="#0090ff"/><stop offset="1" stop-color="#0090ff"/></linearGradient><linearGradient id="a109" x2="0" y2="1"><stop offset="0" stop-color="#0090ff"/><stop offset="0.018" stop-color="#0090ff"/><stop offset="0.035" stop-color="#00b0ff"/><stop offset="1" stop-color="#00b0ff"/></linearGradient><linearGradient id="a110" x2="0" y2="1"><stop offset="0" stop-color="#00d4ff"/><stop offset="0.016" stop-color="#00d4ff"/><stop offset="0.033" stop-color="#0ce9f3"/><stop offset="0.361" stop-color="#0ce9f3"/><stop offset="0.967" stop-color="#0ce9f3"/><stop offset="0.984" stop-color="#00d4ff"/><stop offset="1" stop-color="#00d4ff"/></linearGradient><linearGradient id="a111" x2="0" y2="1"><stop offset="0" stop-color="#00fcff"/><stop offset="0.037" stop-color="#4cffb3"/><stop offset="0.148" stop-color="#9fff60"/><stop offset="0.167" stop-color="#79ff86"/><stop offset="0.185" stop-color="#72ff8d"/><stop offset="0.333" stop-color="#65ff9a"/><stop offset="0.463" stop-color="#61ff9e"/><stop offset="0.481" stop-color="#88ff77"/><stop offset="0.963" stop-color="#7fff80"/><stop offset="0.981" stop-color="#1affe5"/><stop offset="1" stop-color="#1affe5"/></linearGradient><linearGradient id="a112" x2="0" y2="1"><stop offset="0" stop-color="#1affe5"/><stop offset="0.045" stop-color="#1affe5"/><stop offset="0.091" stop-color="#5cffa3"/><stop offset="0.545" stop-color="#5cffa3"/><stop offset="0.591" stop-color="#3affc5"/><stop offset="0.909" stop-color="#3affc5"/><stop offset="0.955" stop-color="#1affe5"/><stop offset="1" stop-color="#1affe5"/></linearGradient><linearGradient id="a113" x2="0" y2="1"><stop offset="0" stop-color="#1affe5"/><stop offset="0.018" stop-color="#1affe5"/><stop offset="0.035" stop-color="#3affc5"/><stop offset="1" stop-color="#3affc5"/></linearGradient><linearGradient id="a114" x2="0" y2="1"><stop offset="0" stop-color="#a2ff5d"/><stop offset="0.909" stop-color="#a1ff5e"/><stop offset="0.955" stop-color="#7fff80"/><stop offset="1" stop-color="#7fff80"/></linearGradient><linearGradient id="a115" x2="0" y2="1"><stop offset="0" stop-color="#5dffa2"/><stop offset="0.016" stop-color="#5dffa2"/><stop offset="0.033" stop-color="#7fff80"/><stop offset="0.607" stop-color="#7fff80"/><stop offset="0.967" stop-color="#7fff80"/><stop offset="0.984" stop-color="#5dffa2"/><stop offset="1" stop-color="#5dffa2"/></linearGradient><linearGradient id="a116" x2="0" y2="1"><stop offset="0" stop-color="#a1ff5e"/><stop offset="0.091" stop-color="#a1ff5e"/><stop offset="0.182" stop-color="#d7f128"/><stop offset="0.818" stop-color="#d7f128"/><stop offset="0.909" stop-color="#a1ff5e"/><stop offset="1" stop-color="#a1ff5e"/></linearGradient><linearGradient id="a117" x2="0" y2="1"><stop offset="0" stop-color="#a1ff5e"/><stop offset="0.018" stop-color="#a1ff5e"/><stop offset="0.035" stop-color="#c3ff3c"/><stop offset="1" stop-color="#c3ff3c"/></linearGradient><linearGradient id="a118" x2="0" y2="1"><stop offset="0" stop-color="#d2ff2d"/><stop offset="0.167" stop-color="#f8fa07"/><stop offset="0.889" stop-color="#ff7100"/><stop offset="0.944" stop-color="#e6fe19"/><stop offset="1" stop-color="#e6fe19"/></linearGradient><linearGradient id="a119" x2="0" y2="1"><stop offset="0" stop-color="#e5ff1a"/><stop offset="0.071" stop-color="#e5ff1a"/><stop offset="0.143" stop-color="#f7cb08"/><stop offset="0.857" stop-color="#f7cb08"/><stop offset="0.929" stop-color="#f2ea0d"/><stop offset="1" stop-color="#f2ea0d"/></linearGradient><linearGradient id="a120" x2="0" y2="1"><stop offset="0" stop-color="#f2ea0d"/><stop offset="0.967" stop-color="#f2ea0d"/><stop offset="0.984" stop-color="#e5ff1a"/><stop offset="1" stop-color="#e5ff1a"/></linearGradient><linearGradient id="a121" x2="0" y2="1"><stop offset="0" stop-color="#ff6f00"/><stop offset="0.061" stop-color="#ff4e00"/><stop offset="0.082" stop-color="#ff7100"/><stop offset="0.143" stop-color="#ff7f00"/><stop offset="0.388" stop-color="#ff8b00"/><stop offset="0.959" stop-color="#ff8e00"/><stop offset="0.98" stop-color="#ffb200"/><stop offset="1" stop-color="#ffb200"/></linearGradient><linearGradient id="a122" x2="0" y2="1"><stop offset="0" stop-color="#ffd400"/><stop offset="0.018" stop-color="#ffd400"/><stop offset="0.035" stop-color="#ffb200"/><stop offset="1" stop-color="#ffb200"/></linearGradient><linearGradient id="a123" x2="0" y2="1"><stop offset="0" stop-color="#ff9000"/><stop offset="0.13" stop-color="#ff9000"/><stop offset="0.145" stop-color="#ff6e00"/><stop offset="0.971" stop-color="#ff6e00"/><stop offset="0.986" stop-color="#ff9000"/><stop offset="1" stop-color="#ff9000"/></linearGradient><linearGradient id="a124" x2="0" y2="1"><stop offset="0" stop-color="#ff4c00"/><stop offset="0.045" stop-color="#ff4c00"/><stop offset="0.091" stop-color="#e81c00"/><stop offset="0.318" stop-color="#e81c00"/><stop offset="0.364" stop-color="#fd2c00"/><stop offset="0.545" stop-color="#fd2c00"/><stop offset="0.591" stop-color="#ff4c00"/><stop offset="1" stop-color="#ff4c00"/></linearGradient><linearGradient id="a125" x2="0" y2="1"><stop offset="0" stop-color="#ff4c00"/><stop offset="0.018" stop-color="#ff4c00"/><stop offset="0.035" stop-color="#fd2c00"/><stop offset="1" stop-color="#fd2c00"/></linearGradient><linearGradient id="a126" x2="0" y2="1"><stop offset="0" stop-color="#ff1f00"/><stop offset="0.067" stop-color="#f80400"/><stop offset="0.178" stop-color="#c00000"/><stop offset="0.267" stop-color="#d60400"/><stop offset="0.533" stop-color="#dc0600"/><stop offset="0.556" stop-color="#8a0000"/><stop offset="0.889" stop-color="#850000"/><stop offset="0.911" stop-color="#dd0600"/><stop offset="1" stop-color="#dd0600"/></linearGradient><linearGradient id="a127" x2="0" y2="1"><stop offset="0" stop-color="#fa0d00"/><stop offset="0.13" stop-color="#fa0d00"/><stop offset="0.145" stop-color="#de0600"/><stop offset="0.971" stop-color="#de0600"/><stop offset="0.986" stop-color="#fa0d00"/><stop offset="1" stop-color="#fa0d00"/></linearGradient><linearGradient id="a128" x2="0" y2="1"><stop offset="0" stop-color="#c30000"/><stop offset="0.018" stop-color="#c30000"/><stop offset="0.035" stop-color="#800000"/><stop offset="1" stop-color="#800000"/></linearGradient><linearGradient id="a129" x2="0" y2="1"><stop offset="0" stop-color="#9d0000"/><stop offset="0.118" stop-color="#850000"/><stop offset="0.176" stop-color="#820000"/><stop offset="1" stop-color="#800000"/></linearGradient><linearGradient id="a130" x2="0" y2="1"><stop offset="0" stop-color="#0000a5"/><stop offset="0.111" stop-color="#0000f4"/><stop offset="0.228" stop-color="#0054f9"/><stop offset="0.233" stop-color="#0033f0"/><stop offset="0.238" stop-color="#002eee"/><stop offset="0.296" stop-color="#001fe7"/><stop offset="0.683" stop-color="#001ae4"/><stop offset="0.688" stop-color="#0005d9"/><stop offset="1" stop-color="#0005d8"/></linearGradient><linearGradient id="a131" x2="0" y2="1"><stop offset="0" stop-color="#004dff"/><stop offset="0.016" stop-color="#004dff"/><stop offset="0.033" stop-color="#00b0ff"/><stop offset="1" stop-color="#009cff"/></linearGradient><linearGradient id="a132" x2="0" y2="1"><stop offset="0" stop-color="#0074ff"/><stop offset="0.195" stop-color="#00c5ff"/><stop offset="0.885" stop-color="#00deff"/><stop offset="0.908" stop-color="#00cfff"/><stop offset="1" stop-color="#00c7ff"/></linearGradient><linearGradient id="a133" x2="0" y2="1"><stop offset="0" stop-color="#00f7ff"/><stop offset="1" stop-color="#20ffdf"/></linearGradient><linearGradient id="a134" x2="0" y2="1"><stop offset="0" stop-color="#005af7"/><stop offset="0.294" stop-color="#0066f7"/><stop offset="0.392" stop-color="#007ff8"/><stop offset="0.434" stop-color="#00b1f9"/><stop offset="0.436" stop-color="#0086f5"/><stop offset="0.439" stop-color="#007df4"/><stop offset="0.449" stop-color="#006df2"/><stop offset="0.466" stop-color="#0062f0"/><stop offset="0.468" stop-color="#1cc3dd"/><stop offset="0.471" stop-color="#0d99e7"/><stop offset="0.473" stop-color="#0a8cea"/><stop offset="0.49" stop-color="#0570ea"/><stop offset="0.493" stop-color="#1a8eda"/><stop offset="0.537" stop-color="#0e76e1"/><stop offset="0.603" stop-color="#0d6de0"/><stop offset="0.605" stop-color="#025ae9"/><stop offset="0.652" stop-color="#0259e9"/><stop offset="0.654" stop-color="#0041e9"/><stop offset="0.716" stop-color="#0041e9"/><stop offset="0.718" stop-color="#002ae4"/><stop offset="0.824" stop-color="#002ae4"/><stop offset="0.826" stop-color="#0014df"/><stop offset="1" stop-color="#0014df"/></linearGradient><linearGradient id="a135" x2="0" y2="1"><stop offset="0" stop-color="#0090ff"/><stop offset="0.014" stop-color="#0090ff"/><stop offset="0.027" stop-color="#55e4aa"/><stop offset="0.288" stop-color="#55e4aa"/><stop offset="0.301" stop-color="#36dfc9"/><stop offset="1" stop-color="#36dfc9"/></linearGradient><linearGradient id="a136" x2="0" y2="1"><stop offset="0" stop-color="#00d4ff"/><stop offset="0.021" stop-color="#00d4ff"/><stop offset="0.043" stop-color="#86f079"/><stop offset="0.957" stop-color="#84f07b"/><stop offset="0.979" stop-color="#67f798"/><stop offset="1" stop-color="#67f798"/></linearGradient><linearGradient id="a137" x2="0" y2="1"><stop offset="0" stop-color="#00f9ff"/><stop offset="0.857" stop-color="#23ffdc"/><stop offset="0.929" stop-color="#2effd1"/><stop offset="1" stop-color="#23ffdc"/></linearGradient><linearGradient id="a138" x2="0" y2="1"><stop offset="0" stop-color="#1affe5"/><stop offset="0.034" stop-color="#1affe5"/><stop offset="0.069" stop-color="#c7bd38"/><stop offset="0.345" stop-color="#c6be39"/><stop offset="0.379" stop-color="#b6e049"/><stop offset="0.931" stop-color="#b5e14a"/><stop offset="0.966" stop-color="#a0f65f"/><stop offset="1" stop-color="#a0f65f"/></linearGradient><linearGradient id="a139" x2="0" y2="1"><stop offset="0" stop-color="#42ffbd"/><stop offset="0.8" stop-color="#95ff6a"/><stop offset="0.9" stop-color="#61ff9e"/><stop offset="1" stop-color="#61ff9e"/></linearGradient><linearGradient id="a140" x2="0" y2="1"><stop offset="0" stop-color="#5effa1"/><stop offset="0.043" stop-color="#5effa1"/><stop offset="0.087" stop-color="#deae21"/><stop offset="1" stop-color="#dcb523"/></linearGradient><linearGradient id="a141" x2="0" y2="1"><stop offset="0" stop-color="#94ff6b"/><stop offset="0.102" stop-color="#c8ff37"/><stop offset="0.204" stop-color="#eefd11"/><stop offset="0.51" stop-color="#fa9305"/><stop offset="0.735" stop-color="#fd6002"/><stop offset="0.755" stop-color="#f67d09"/><stop offset="0.796" stop-color="#f38f0c"/><stop offset="1" stop-color="#efa610"/></linearGradient><linearGradient id="a142" x2="0" y2="1"><stop offset="0" stop-color="#e5fe1a"/><stop offset="0.019" stop-color="#e5fe1a"/><stop offset="0.038" stop-color="#fa7704"/><stop offset="0.264" stop-color="#fa7804"/><stop offset="0.283" stop-color="#faa205"/><stop offset="1" stop-color="#faa305"/></linearGradient><linearGradient id="a143" x2="0" y2="1"><stop offset="0" stop-color="#ffd400"/><stop offset="0.043" stop-color="#ffd400"/><stop offset="0.087" stop-color="#fd5e00"/><stop offset="1" stop-color="#fd5f00"/></linearGradient><linearGradient id="a144" x2="0" y2="1"><stop offset="0" stop-color="#ff8f00"/><stop offset="0.021" stop-color="#ff8f00"/><stop offset="0.043" stop-color="#cf1600"/><stop offset="0.319" stop-color="#de2000"/><stop offset="0.957" stop-color="#e32700"/><stop offset="0.979" stop-color="#fd4300"/><stop offset="1" stop-color="#fd4300"/></linearGradient><linearGradient id="a145" x2="0" y2="1"><stop offset="0" stop-color="#ff4b00"/><stop offset="0.05" stop-color="#ff4b00"/><stop offset="0.1" stop-color="#c90700"/><stop offset="0.9" stop-color="#b90600"/><stop offset="0.95" stop-color="#ca0a00"/><stop offset="1" stop-color="#ce0b00"/></linearGradient><linearGradient id="a146" x2="0" y2="1"><stop offset="0" stop-color="#ff2800"/><stop offset="0.195" stop-color="#fb0400"/><stop offset="0.341" stop-color="#df0100"/><stop offset="1" stop-color="#c40000"/></linearGradient><linearGradient id="a147" x2="0" y2="1"><stop offset="0" stop-color="#fa0c00"/><stop offset="0.025" stop-color="#fa0c00"/><stop offset="0.05" stop-color="#910000"/><stop offset="1" stop-color="#8e0000"/></linearGradient><linearGradient id="a148" x2="0" y2="1"><stop offset="0" stop-color="#bf0000"/><stop offset="0.028" stop-color="#bf0000"/><stop offset="0.056" stop-color="#8b0000"/><stop offset="1" stop-color="#880000"/></linearGradient><linearGradient id="a149" x2="0" y2="1"><stop offset="0" stop-color="#a00000"/><stop offset="0.6" stop-color="#840000"/><stop offset="1" stop-color="#820000"/></linearGradient><linearGradient id="a150" x2="0" y2="1"><stop offset="0" stop-color="#0000a4"/><stop offset="0.085" stop-color="#0000f9"/><stop offset="0.232" stop-color="#008dff"/><stop offset="0.419" stop-color="#00baff"/><stop offset="0.427" stop-color="#00d8ff"/><stop offset="0.432" stop-color="#0ce0f3"/><stop offset="0.456" stop-color="#64e29b"/><stop offset="0.496" stop-color="#cae435"/><stop offset="0.605" stop-color="#d2b12d"/><stop offset="0.608" stop-color="#9db35e"/><stop offset="0.643" stop-color="#7fae79"/><stop offset="0.712" stop-color="#69a98c"/><stop offset="0.827" stop-color="#5ea097"/><stop offset="0.829" stop-color="#3b97b8"/><stop offset="0.901" stop-color="#3995ba"/><stop offset="0.904" stop-color="#2183d0"/><stop offset="0.965" stop-color="#2182d0"/><stop offset="0.968" stop-color="#0e72e1"/><stop offset="1" stop-color="#0e72e1"/></linearGradient><linearGradient id="a151" x2="0" y2="1"><stop offset="0" stop-color="#a2ff5d"/><stop offset="0.071" stop-color="#a2ff5d"/><stop offset="0.143" stop-color="#fd7902"/><stop offset="1" stop-color="#fd7602"/></linearGradient><linearGradient id="a152" x2="0" y2="1"><stop offset="0" stop-color="#e6fe19"/><stop offset="0.037" stop-color="#e6fe19"/><stop offset="0.074" stop-color="#ff7600"/><stop offset="1" stop-color="#ff7000"/></linearGradient><linearGradient id="a153" x2="0" y2="1"><stop offset="0" stop-color="#ffd200"/><stop offset="0.032" stop-color="#ffd200"/><stop offset="0.065" stop-color="#ff7500"/><stop offset="1" stop-color="#ff6d00"/></linearGradient><linearGradient id="a154" x2="0" y2="1"><stop offset="0" stop-color="#ffb100"/><stop offset="0.702" stop-color="#ff7500"/><stop offset="1" stop-color="#ff6d00"/></linearGradient><clipPath id="ac"><rect x="0" y="0" width="603" height="204"/></clipPath></defs><g transform="translate(826 46.30) scale(1 1.0015)" clip-path="url(#ac)"><path fill="url(#a10)" d="M159.5 178l-.1 6-.1 20 1.6 0-.1-20-.1-6z"/><path fill="url(#a8)" d="M147 70.5l-.1 7 0 22.5 0 27.5 .1 8 1.2 0 .1-8 0-27.5 0-22.5-.1-7z"/><path fill="url(#a9)" d="M162 0l0 27.5 .1 8 1 0 .1-8 0-27.5z"/><path fill="url(#a2)" d="M59.7 65.5l-.2 6.5 0 28 0 34.5 .1 8.5 1.2 0 .1-8.5 0-34.5 0-28-.2-6.5z"/><path fill="url(#a104)" d="M548.7 98.5l-.5 .5-.1 .5-.8 3.5-.6 10-.4 4-1 8-2.2 10-2.3 10-1.8 10-1.4 15-.4 34 26.8 0-.7-34-1.6-15-1.8-10-2.5-10-2.3-10-1.1-8-.4-4-.7-10-.8-3.5-.2-.5-.4-.5z"/><path fill="url(#a33)" d="M272.4 146.5l-.2 3.5 0 10 0 44 1.6 0 0-44 0-10-.2-3.5z"/><path fill="url(#a32)" d="M249.9 149.5l-.2 3.5 0 9.5 0 41.5 1.6 0 0-41.5 0-9.5-.2-3.5z"/><path fill="url(#a1)" d="M7.1 98l-.1 1.5-.1 4.5-.1 26 .1 34 .2 8.5 1.2 0 .2-8.5 .1-34-.1-26-.1-4.5-.1-1.5z"/><path fill="url(#a44)" d="M309 139.5l-.1 5-.1 15.5 0 44 1.6 0 0-44-.1-15.5-.1-5z"/><path fill="url(#a12)" d="M187.4 140.5l-.2 9.5-.1 54 2 0-.1-54-.2-9.5z"/><path fill="url(#a29)" d="M231.8 75.5l-.1 5.5-.2 19 0 43 .1 8.5 .1 2.5 1.4 0 .1-2.5 .1-8.5 0-43-.2-19-.1-5.5z"/><path fill="url(#a52)" d="M333.1 159l-.2 9-.2 36 2 0-.2-36-.2-9z"/><path fill="url(#a73)" d="M474.8 0l0 72 0 11.5 .1 3 1 0 .1-3 0-11.5 0-72z"/><path fill="url(#a55)" d="M392.9 141.5l-.2 3-.1 13-.1 46.5 1.8 0-.1-46.5-.1-13-.2-3z"/><path fill="url(#a130)" d="M570.7 109.5l-.2 3.5-.2 12-.6 15-.5 64 4.4 0-.5-64-.6-15-.2-12-.2-3.5z"/><path fill="url(#a0)" d="M.5 90.5l-.2 6.5-.1 23 .1 34 0 6 .2 2.5 1.4 0 .2-2.5 0-6 .1-34-.1-23-.2-6.5z"/><path fill="url(#a11)" d="M189 71.5l-.1 5-.2 23.5 0 35 .2 3.5 1.4 0 .2-3.5 0-35-.2-23.5-.1-5z"/><path fill="url(#a93)" d="M551.3 0l-.7 58.5-.4 21.5-.3 11-.1 11 .1 7 .2 4 .4 2.5 .1 .5 .3 .5 2.6 0 .3-.5 .1-.5 .4-2.5 .2-4 .1-7-.1-11-.3-11-.4-21.5-.7-58.5z"/><path fill="url(#a105)" d="M545.2 127.5l-3.8 17.5-1.6 10-1.3 15-.4 34 25 0-.7-34-1.5-15-1.7-10-3.9-17.5z"/><path fill="url(#a45)" d="M327.5 78l-.1 6.5 0 55.5-.1 13-.2 19-.5 22.5-.1 9.5 4.8 0-.2-9.5-.8-22.5-.4-19-.2-13-.7-55.5-.2-6.5z"/><path fill="url(#a15)" d="M207.9 106.5l-.2 5.5-.1 18-.1 74 2 0-.1-74-.1-18-.2-5.5z"/><path fill="url(#a3)" d="M71.7 42.5l-.1 6-.1 26.5 .1 30.5 0 4 .1 1 1.2 0 .1-1 0-4 .1-30.5-.1-26.5-.1-6z"/><path fill="url(#a43)" d="M303.2 0l-.1 162.5 .1 32 .2 9 1.2 0 .2-9 .1-32-.1-162.5z"/><path fill="url(#a53)" d="M348.7 0l0 204 1.2 0 0-204z"/><path fill="url(#a31)" d="M240.8 115.5l-.2 24.5 0 64 1.6 0 0-64-.2-24.5z"/><path fill="url(#a72)" d="M456.7 0l0 150.5 0 23 .1 5 1 0 .1-5 0-23 0-150.5z"/><path fill="url(#a94)" d="M550.3 108l.3 4 .3 1.5 .3 .5 2 0 .3-.5 .3-1.5 .3-4z"/><path fill="url(#a134)" d="M574.9 0l.8 60 .1 35-.1 17-.8 48-.2 44 7.4 0-1.4-44-2.2-48-.6-17-.8-35-1-60z"/><path fill="url(#a107)" d="M541.6 146.5l-1.3 8.5-1.3 15-.4 34 24 0-.7-34-1.4-15-1.4-8.5z"/><path fill="url(#a16)" d="M218 0l-.1 50-.2 40-.3 15 .1 9.5 .2 3 1.8 0 .2-3 .1-9.5-.3-15-.2-40-.1-50z"/><path fill="url(#a14)" d="M204.9 46.5l-.1 21 .2 82.5 .2 54 2.2 0-.4-54-.7-82.5-.3-21z"/><path fill="url(#a46)" d="M327.3 184l-.2 20 3.6 0-.4-20z"/><path fill="url(#a47)" d="M327.9 140.5l-.2 4.5 1.7 0-.2-4.5z"/><path fill="url(#a54)" d="M386.1 0l0 204 1.2 0 0-204z"/><path fill="url(#a30)" d="M242.7 0l-.1 80-.5 40-.2 84 2.8 0-.2-84-.5-40-.1-80z"/><path fill="url(#a74)" d="M535.4 0l-.2 40-.3 20-.6 42-.5 43.5-.3 11-.5 13.5-.7 34 5.8 0-.4-34-.4-13.5-.2-11-.2-43.5-.2-42-.2-20 .1-40z"/><path fill="url(#a18)" d="M219.3 103l-.3 17-.8 84 2.2 0 .4-84-.2-17z"/><path fill="url(#a95)" d="M550.5 84.5l-.2 17.5 .4 7 .2 1.5 .4 1 1.8 0 .4-1 .2-1.5 .4-7-.2-17.5z"/><path fill="url(#a71)" d="M449.3 0l-.1 100 .1 58.5 .1 13 1 0 .1-13 .1-58.5-.1-100z"/><path fill="url(#a106)" d="M548.8 100l-.3 .5-.2 .5-.5 2-.6 10-.5 5-.8 7-.8 4 10.3 0-.9-4-.9-7-.4-5-.8-10-.5-2-.2-.5-.3-.5z"/><path fill="url(#a17)" d="M216.6 92.5l-.2 3.5-.2 14-1.1 94 2.2 0 .7-94 0-14.5-.2-3z"/><path fill="url(#a82)" d="M536.4 57.5l0 17.5 .3 27 1.7 102 2.4 0-2-102-.6-27-.7-17.5z"/><path fill="url(#a131)" d="M569.8 173.5l-.1 30.5 3.4 0-.1-30.5z"/><path fill="url(#a75)" d="M533.5 167.5l-.7 36.5 4.8 0-.4-36.5z"/><path fill="url(#a109)" d="M539.3 175.5l-.3 28.5 23.2 0-.6-28.5z"/><path fill="url(#a34)" d="M296.7 0l-.2 110-.4 50-.6 12.5-.7 10.5-.6 21 6.1 0-.6-21-.7-10.5-.6-12.5-.4-50-.2-110z"/><path fill="url(#a19)" d="M235.5 0l-.3 45-.6 57-.1 48 0 6.5 .2 2.5 2.2 0 .2-2.5 .1-6.5 .3-80 0-25 .2-45z"/><path fill="url(#a83)" d="M538.4 179.5l.2 7 .2 2.5 1.1 0 0-2.5 0-7z"/><path fill="url(#a108)" d="M545.6 127.5l-3.5 17.5-.5 3 17.4 0-.5-3-3.6-17.5z"/><path fill="url(#a56)" d="M399.3 0l0 70-.3 40-.3 94 2.4 0-.3-94-.3-40 0-70z"/><path fill="url(#a13)" d="M203.6 0l-.4 30-1.3 72 1.3 102 2.4 0-1.5-102 .4-72 .3-30z"/><path fill="url(#a48)" d="M327.5 169l-.1 16.5 2.8 0-.3-16.5z"/><path fill="url(#a132)" d="M570.6 131.5l-.2 2.5-.2 6-.2 35 2.8 0-.2-35-.2-6-.2-2.5z"/><path fill="url(#a49)" d="M328 160.5l-.2 3-.1 7 2 0-.2-7-.2-3z"/><path fill="url(#a150)" d="M583 16.5l0 78.5-.2 15 0 20-.3 74 3 0-.9-94-.2-15-.6-78.5z"/><path fill="url(#a96)" d="M550.8 71.5l-.2 14.5 3.2 0-.2-14.5z"/><path fill="#00dcff" d="M242.4 181l-.1 23 2 0-.1-23z"/><path fill="url(#a98)" d="M550.7 101.5l.2 3 .2 1 .3 1 1.6 0 .3-1 .2-1 .2-3z"/><path fill="url(#a50)" d="M327.7 184l-.1 20 2.6 0-.3-20z"/><path fill="url(#a91)" d="M547 0l-.2 100 .1 9 .1 1.5 .2 .5 1.6 0 .2-.5 .1-1.5 .1-9-.2-100z"/><path fill="url(#a110)" d="M542.1 146.5l-1.2 8.5-1.2 15 0 7 21.6 0-.2-7-1.3-15-1.3-8.5z"/><path fill="url(#a76)" d="M533.9 156.5l-.3 12.5 3.5 0-.2-12.5z"/><path fill="url(#a20)" d="M236 .5l-.1 4.5 1.4 0-.1-4.5z"/><path fill="url(#a51)" d="M328.5 193l-.3 3.5-.2 7.5 1.8 0-.3-7.5-.3-3.5z"/><path fill="url(#a97)" d="M551 57.5l-.1 15.5 2.6 0-.1-15.5z"/><path fill="url(#a99)" d="M551.6 16.5l-.1 6.5 1.4 0-.1-6.5z"/><path fill="url(#a77)" d="M534.5 122.5l-.4 27.5-.1 8 2.8 0-.1-8-.1-27.5z"/><path fill="#07fff8" d="M203.5 191l.1 13 1.6 0-.2-13z"/><path fill="url(#a133)" d="M570.9 170.5l-.2 2.5-.1 6-.3 25 2.2 0-.3-25-.1-6-.2-2.5z"/><path fill="url(#a135)" d="M575.2 167.5l0 36.5 6.4 0-1.1-36.5z"/><path fill="url(#a4)" d="M143.2 0l-.2 30-.3 20-.4 12-.3 18-.2 55 0 15 .9 54 2.4 0-.8-54 .2-70-.2-50 0-30z"/><path fill="url(#a136)" d="M575.5 145.5l-.2 23.5 5.2 0-.9-23.5z"/><path fill="url(#a27)" d="M236 136l-.1 2 .3 12 .6 20 1.1 34 2.2 0-1.2-34-.9-20-.5-12-.2-2z"/><path fill="#07fff8" d="M534.9 85.5l-.2 38.5 1.7 0 0-38.5z"/><path fill="url(#a84)" d="M543.2 0l0 30-.1 20 .1 40 .4 60.5 .2 10.5 .1 3 2 0 .2-3 0-10.5-.5-60.5-.4-40-.4-20-.4-30z"/><path fill="url(#a100)" d="M551.3 34l-.2 25 2.2 0-.2-25z"/><path fill="url(#a101)" d="M551 84.5l0 17.5 .1 1 .3 1 1.6 0 .3-1 .1-1 0-17.5z"/><path fill="url(#a26)" d="M234.7 136.5l-.4 13.5-.8 54 2 0 .6-54 0-13.5z"/><path fill="url(#a113)" d="M540 175.5l-.3 28.5 21.8 0-.6-28.5z"/><path fill="url(#a103)" d="M551.4 89.5l.2 8.5 .2 3.5 .8 0 .2-3.5 .2-8.5z"/><path fill="url(#a112)" d="M544.1 137l-1.5 8-.4 3 16.3 0-.5-3-1.6-8z"/><path fill="url(#a102)" d="M551.8 53.5l-.3 2.5-.1 6.5-.2 17.5 .1 6 1.8 0 .1-6-.2-17.5-.1-6.5-.3-2.5z"/><path fill="url(#a35)" d="M295 191.5l-.4 12.5 5.3 0-.4-12.5z"/><path fill="url(#a137)" d="M576.4 89l-.2 7 1.4 0-.4-7z"/><path fill="url(#a111)" d="M549.1 102l-.5 .5-.2 .5-.5 4.5-.8 10.5-.7 7-.8 4 9.2 0-.7-4-.9-7-.9-10.5-.5-4.5-.2-.5-.5-.5z"/><path fill="url(#a115)" d="M542.6 146.5l-1.2 8.5-1.1 15 0 7 20.4 0-.2-7-1.2-15-1.2-8.5z"/><path fill="url(#a138)" d="M575.7 132.5l-.1 14.5 4 0-.5-14.5z"/><path fill="url(#a85)" d="M543.6 50.5l-.1 6.5 1.4 0-.2-6.5z"/><path fill="url(#a5)" d="M143 83l-.2 .5-.1 1-.2 4.5 1.7 0-.1-6z"/><path fill="url(#a57)" d="M399.1 193l.2 7 1.2 0 .2-7z"/><path fill="url(#a114)" d="M546 127.5l-2 11 12.5 0-2.1-11z"/><path fill="url(#a78)" d="M534 167.5l-.5 22.5-.2 14 3.8 0-.1-14-.3-22.5z"/><path fill="url(#a79)" d="M534.8 154.5l-.2 1.5-.2 2.5-.3 10.5 2.5 0-.3-10.5-.1-2.5-.2-1.5z"/><path fill="url(#a117)" d="M540.5 175.5l-.2 28.5 20.6 0-.5-28.5z"/><path fill="url(#a58)" d="M399.4 130.5l-.1 10 1.2 0-.1-10z"/><path fill="url(#a28)" d="M237.4 178.5l.7 18.5 .4 6.5 1 0-.1-6.5-.6-18.5z"/><path fill="url(#a59)" d="M399.2 163.5l.2 11 1 0 .2-11z"/><path fill="url(#a116)" d="M543.5 142.5l-.5 2.5-.4 3 15.5 0-.5-3-.5-2.5z"/><path fill="url(#a139)" d="M576.4 96l-.1 1.5-.2 3.5 1.6 0-.2-3.5-.2-1.5z"/><path fill="url(#a86)" d="M543.8 90.5l-.2 6 1.7 0-.3-6z"/><path fill="url(#a7)" d="M142.4 137.5l.1 3 .2 1.5 1.3 0 .1-4.5z"/><path fill="url(#a6)" d="M142.9 94.5l-.2 1-.1 3-.1 9 1.7 0 0-9-.1-4z"/><path fill="url(#a36)" d="M295.4 179.5l-.4 13.5 4.5 0-.4-13.5z"/><path fill="url(#a92)" d="M548.8 0l-.1 100 .1 11 1.2 0 .1-11-.1-100z"/><path fill="url(#a60)" d="M434.4 0l-.1 20-.1 80-.2 50-.5 31.5-.6 22.5 4.2 0-.6-22.5-.5-31.5-.2-50-.1-80-.1-20z"/><path fill="url(#a21)" d="M234.9 134l.1 16 .2 .5 1.3 0 .2-.5 .2-16z"/><path fill="url(#a120)" d="M543 146.5l-1.1 8.5-1 15-.1 7 19.3 0-.1-7-1.2-15-1.2-8.5z"/><path fill="url(#a61)" d="M433.5 198l-.1 6 3.2 0-.1-6z"/><path fill="url(#a140)" d="M575.9 122.5l-.2 11.5 3.4 0-.5-11.5z"/><path fill="url(#a119)" d="M544.6 137l-1.2 7 13.8 0-1.3-7z"/><path fill="url(#a62)" d="M433.6 193.5l-.1 6 3 0-.1-6z"/><path fill="url(#a87)" d="M543.9 100l-.2 6.5 1.7 0-.3-6.5z"/><path fill="url(#a118)" d="M548.9 106.5l-.3 1-.2 1-.7 7 4.9 0-.8-7-.1-1-.4-1z"/><path fill="url(#a37)" d="M295.3 192.5l-.2 11.5 4.3 0-.2-11.5z"/><path fill="url(#a141)" d="M576.3 99.5l-.1 4.5-.3 20 2.7 0-.8-20-.3-4.5z"/><path fill="url(#a122)" d="M541.1 175.5l-.2 28.5 19.4 0-.5-28.5z"/><path fill="url(#a80)" d="M534.9 170.5l-.4 3-.3 7.5-.2 9-.3 14 3 0-.1-14-.2-9-.3-7.5-.3-3z"/><path fill="url(#a22)" d="M234.9 126.5l.1 9 1.7 0 .2-9z"/><path fill="url(#a142)" d="M575.6 177.5l0 26.5 5.6 0-.8-26.5z"/><path fill="url(#a63)" d="M433.7 189.5l0 5.5 2.6 0 0-5.5z"/><path fill="url(#a151)" d="M583 197l0 7 2.2 0-.1-7z"/><path fill="url(#a38)" d="M295.7 181.5l-.2 11.5 3.5 0-.2-11.5z"/><path fill="url(#a88)" d="M543.9 108.5l-.1 1.5 .1 19 1.6 0-.2-19-.1-1.5z"/><path fill="url(#a23)" d="M235.6 56l-.1 2-.1 6 1.7 0-.1-6-.1-2z"/><path fill="url(#a152)" d="M583 185l0 13.5 2.1 0-.1-13.5z"/><path fill="url(#a121)" d="M548.1 114l-1.3 11-2.3 13.5 11.5 0-2.4-13.5-1.3-11z"/><path fill="url(#a153)" d="M583.1 171l0 15.5 1.9 0-.1-15.5z"/><path fill="url(#a154)" d="M583.4 130.5l-.2 10.5 0 31.5 1.6 0-.3-31.5-.2-10.5z"/><path fill="url(#a123)" d="M544 142.5l-.4 2.5-1.2 10-1 15-.1 7 18.3 0-.1-7-1.1-15-1.4-10-.4-2.5z"/><path fill="url(#a64)" d="M433.8 185l-.1 6 2.6 0-.1-6z"/><path fill="url(#a81)" d="M534.8 197.5l-.2 2-.2 4.5 1.6 0-.2-4.5-.2-2z"/><path fill="url(#a143)" d="M575.7 167.5l0 11.5 4.7 0-.3-11.5z"/><path fill="url(#a89)" d="M544.2 134.5l-.1 3 0 7 0 5.5 .1 .5 1.3 0 .1-.5-.1-5.5-.1-7-.1-3z"/><path fill="url(#a65)" d="M433.9 181l-.1 5.5 2.4 0-.1-5.5z"/><path fill="url(#a24)" d="M235 113.5l0 14.5 1.8 0 .1-14.5z"/><path fill="url(#a124)" d="M545.1 137l-1.3 8-.4 3 13.8 0-.4-3-1.4-8z"/><path fill="url(#a66)" d="M434 176.5l-.1 6 2.2 0-.1-6z"/><path fill="url(#a125)" d="M541.6 175.5l-.2 28.5 18.4 0-.5-28.5z"/><path fill="url(#a25)" d="M235.6 63l-.1 2-.2 5-.2 30-.1 15 1.9 0 .1-45 0-5-.2-2z"/><path fill="url(#a90)" d="M545.8 0l0 10 .4 92-.1 20 .1 14 0 2.5 2.1 0 0-2.5-.1-14-.3-20-.6-92-.1-10z"/><path fill="url(#a144)" d="M575.9 145.5l-.1 23.5 4.2 0-.8-23.5z"/><path fill="url(#a67)" d="M434.1 171l-.1 7 2 0-.1-7z"/><path fill="url(#a39)" d="M295.8 192.5l-.2 11.5 3.3 0-.2-11.5z"/><path fill="url(#a68)" d="M434.2 162l-.1 10.5 1.8 0-.1-10.5z"/><path fill="url(#a69)" d="M434 193.5l0 7 2 0 0-7z"/><path fill="url(#a127)" d="M544.4 142.5l-.4 2.5-1.1 10-1 15 0 7 17.1 0-.1-7-1-15-1.3-10-.4-2.5z"/><path fill="url(#a145)" d="M576.1 137l-.1 10 3.2 0-.4-10z"/><path fill="url(#a70)" d="M434.4 176.5l-.1 18.5 1.4 0-.1-18.5z"/><path fill="#d90000" d="M434.3 199l0 5 1.4 0 0-5z"/><path fill="url(#a146)" d="M576.7 118l-.3 2-.1 5-.1 13.5 2.6 0-.5-13.5-.3-5-.3-2z"/><path fill="url(#a126)" d="M548.9 116l-.4 1-.5 2.5-.7 5.5-2.2 13.5 10.4 0-2.4-13.5-.8-5.5-.5-2.5-.3-1z"/><path fill="url(#a40)" d="M296 186l-.1 8 2.7 0-.1-8z"/><path fill="url(#a41)" d="M296.3 179.5l-.1 8 2.1 0-.1-8z"/><path fill="url(#a42)" d="M296.8 176.5l-.2 4.5 1.3 0-.2-4.5z"/><path fill="#c30000" d="M545 140l-.8 5-.3 3 12.9 0-.4-3-.8-5z"/><path fill="url(#a147)" d="M576 184l0 20 4.8 0-.6-20z"/><path fill="url(#a148)" d="M576.2 167.5l0 18 3.9 0-.5-18z"/><path fill="url(#a149)" d="M576.9 146.5l-.2 2.5-.2 5-.1 15 3 0-.6-15-.3-5-.3-2.5z"/><path fill="#830000" d="M296.3 192.5l-.3 11.5 2.5 0-.3-11.5z"/><path fill="url(#a128)" d="M542.2 175.5l-.2 28.5 17.2 0-.5-28.5z"/><path fill="url(#a129)" d="M549 120.5l-.4 .5-.4 1.5-1.2 6.5 6.4 0-1.2-6.5-.5-1.5-.4-.5z"/><path fill="#800000" d="M545.9 135.5l-1.4 9.5-1.1 10-.8 15-.1 7 15.9 0-.1-7-1-15-1.1-10-1.6-9.5z"/></g>
<path d="M901.38 250.6v-6M901.38 46.3v6M976.75 250.6v-6M976.75 46.3v6M1052.12 250.6v-6M1052.12 46.3v6M1127.5 250.6v-6M1127.5 46.3v6M1202.88 250.6v-6M1202.88 46.3v6M1278.25 250.6v-6M1278.25 46.3v6M1353.62 250.6v-6M1353.62 46.3v6M826 48.1h6M1429 48.1h-6M826 64.76h6M1429 64.76h-6M826 83.17h6M1429 83.17h-6M826 103.75h6M1429 103.75h-6M826 127.08h6M1429 127.08h-6M826 154.02h6M1429 154.02h-6M826 185.88h6M1429 185.88h-6M826 204.29h6M1429 204.29h-6M826 224.88h6M1429 224.88h-6M826 248.21h6M1429 248.21h-6" fill="none" stroke="#000" stroke-opacity=".75" stroke-width="1"/>
<rect x="826" y="46.3" width="603" height="204.3" fill="none" stroke="#334" stroke-opacity=".6" stroke-width="1"/>
<rect x="1448" y="247.41" width="25.4" height="3.79" fill="#00008f" shape-rendering="crispEdges"/>
<rect x="1448" y="244.22" width="25.4" height="3.79" fill="#00009f" shape-rendering="crispEdges"/>
<rect x="1448" y="241.02" width="25.4" height="3.79" fill="#0000af" shape-rendering="crispEdges"/>
<rect x="1448" y="237.83" width="25.4" height="3.79" fill="#0000bf" shape-rendering="crispEdges"/>
<rect x="1448" y="234.64" width="25.4" height="3.79" fill="#0000cf" shape-rendering="crispEdges"/>
<rect x="1448" y="231.45" width="25.4" height="3.79" fill="#0000df" shape-rendering="crispEdges"/>
<rect x="1448" y="228.25" width="25.4" height="3.79" fill="#0000ef" shape-rendering="crispEdges"/>
<rect x="1448" y="225.06" width="25.4" height="3.79" fill="#0000ff" shape-rendering="crispEdges"/>
<rect x="1448" y="221.87" width="25.4" height="3.79" fill="#0010ff" shape-rendering="crispEdges"/>
<rect x="1448" y="218.68" width="25.4" height="3.79" fill="#0020ff" shape-rendering="crispEdges"/>
<rect x="1448" y="215.49" width="25.4" height="3.79" fill="#0030ff" shape-rendering="crispEdges"/>
<rect x="1448" y="212.29" width="25.4" height="3.79" fill="#0040ff" shape-rendering="crispEdges"/>
<rect x="1448" y="209.1" width="25.4" height="3.79" fill="#0050ff" shape-rendering="crispEdges"/>
<rect x="1448" y="205.91" width="25.4" height="3.79" fill="#0060ff" shape-rendering="crispEdges"/>
<rect x="1448" y="202.72" width="25.4" height="3.79" fill="#0070ff" shape-rendering="crispEdges"/>
<rect x="1448" y="199.53" width="25.4" height="3.79" fill="#0080ff" shape-rendering="crispEdges"/>
<rect x="1448" y="196.33" width="25.4" height="3.79" fill="#008fff" shape-rendering="crispEdges"/>
<rect x="1448" y="193.14" width="25.4" height="3.79" fill="#009fff" shape-rendering="crispEdges"/>
<rect x="1448" y="189.95" width="25.4" height="3.79" fill="#00afff" shape-rendering="crispEdges"/>
<rect x="1448" y="186.76" width="25.4" height="3.79" fill="#00bfff" shape-rendering="crispEdges"/>
<rect x="1448" y="183.56" width="25.4" height="3.79" fill="#00cfff" shape-rendering="crispEdges"/>
<rect x="1448" y="180.37" width="25.4" height="3.79" fill="#00dfff" shape-rendering="crispEdges"/>
<rect x="1448" y="177.18" width="25.4" height="3.79" fill="#00efff" shape-rendering="crispEdges"/>
<rect x="1448" y="173.99" width="25.4" height="3.79" fill="#00ffff" shape-rendering="crispEdges"/>
<rect x="1448" y="170.8" width="25.4" height="3.79" fill="#10ffef" shape-rendering="crispEdges"/>
<rect x="1448" y="167.6" width="25.4" height="3.79" fill="#20ffdf" shape-rendering="crispEdges"/>
<rect x="1448" y="164.41" width="25.4" height="3.79" fill="#30ffcf" shape-rendering="crispEdges"/>
<rect x="1448" y="161.22" width="25.4" height="3.79" fill="#40ffbf" shape-rendering="crispEdges"/>
<rect x="1448" y="158.03" width="25.4" height="3.79" fill="#50ffaf" shape-rendering="crispEdges"/>
<rect x="1448" y="154.83" width="25.4" height="3.79" fill="#60ff9f" shape-rendering="crispEdges"/>
<rect x="1448" y="151.64" width="25.4" height="3.79" fill="#70ff8f" shape-rendering="crispEdges"/>
<rect x="1448" y="148.45" width="25.4" height="3.79" fill="#80ff80" shape-rendering="crispEdges"/>
<rect x="1448" y="145.26" width="25.4" height="3.79" fill="#8fff70" shape-rendering="crispEdges"/>
<rect x="1448" y="142.07" width="25.4" height="3.79" fill="#9fff60" shape-rendering="crispEdges"/>
<rect x="1448" y="138.87" width="25.4" height="3.79" fill="#afff50" shape-rendering="crispEdges"/>
<rect x="1448" y="135.68" width="25.4" height="3.79" fill="#bfff40" shape-rendering="crispEdges"/>
<rect x="1448" y="132.49" width="25.4" height="3.79" fill="#cfff30" shape-rendering="crispEdges"/>
<rect x="1448" y="129.3" width="25.4" height="3.79" fill="#dfff20" shape-rendering="crispEdges"/>
<rect x="1448" y="126.1" width="25.4" height="3.79" fill="#efff10" shape-rendering="crispEdges"/>
<rect x="1448" y="122.91" width="25.4" height="3.79" fill="#ffff00" shape-rendering="crispEdges"/>
<rect x="1448" y="119.72" width="25.4" height="3.79" fill="#ffef00" shape-rendering="crispEdges"/>
<rect x="1448" y="116.53" width="25.4" height="3.79" fill="#ffdf00" shape-rendering="crispEdges"/>
<rect x="1448" y="113.34" width="25.4" height="3.79" fill="#ffcf00" shape-rendering="crispEdges"/>
<rect x="1448" y="110.14" width="25.4" height="3.79" fill="#ffbf00" shape-rendering="crispEdges"/>
<rect x="1448" y="106.95" width="25.4" height="3.79" fill="#ffaf00" shape-rendering="crispEdges"/>
<rect x="1448" y="103.76" width="25.4" height="3.79" fill="#ff9f00" shape-rendering="crispEdges"/>
<rect x="1448" y="100.57" width="25.4" height="3.79" fill="#ff8f00" shape-rendering="crispEdges"/>
<rect x="1448" y="97.38" width="25.4" height="3.79" fill="#ff8000" shape-rendering="crispEdges"/>
<rect x="1448" y="94.18" width="25.4" height="3.79" fill="#ff7000" shape-rendering="crispEdges"/>
<rect x="1448" y="90.99" width="25.4" height="3.79" fill="#ff6000" shape-rendering="crispEdges"/>
<rect x="1448" y="87.8" width="25.4" height="3.79" fill="#ff5000" shape-rendering="crispEdges"/>
<rect x="1448" y="84.61" width="25.4" height="3.79" fill="#ff4000" shape-rendering="crispEdges"/>
<rect x="1448" y="81.41" width="25.4" height="3.79" fill="#ff3000" shape-rendering="crispEdges"/>
<rect x="1448" y="78.22" width="25.4" height="3.79" fill="#ff2000" shape-rendering="crispEdges"/>
<rect x="1448" y="75.03" width="25.4" height="3.79" fill="#ff1000" shape-rendering="crispEdges"/>
<rect x="1448" y="71.84" width="25.4" height="3.79" fill="#ff0000" shape-rendering="crispEdges"/>
<rect x="1448" y="68.65" width="25.4" height="3.79" fill="#ef0000" shape-rendering="crispEdges"/>
<rect x="1448" y="65.45" width="25.4" height="3.79" fill="#df0000" shape-rendering="crispEdges"/>
<rect x="1448" y="62.26" width="25.4" height="3.79" fill="#cf0000" shape-rendering="crispEdges"/>
<rect x="1448" y="59.07" width="25.4" height="3.79" fill="#bf0000" shape-rendering="crispEdges"/>
<rect x="1448" y="55.88" width="25.4" height="3.79" fill="#af0000" shape-rendering="crispEdges"/>
<rect x="1448" y="52.68" width="25.4" height="3.79" fill="#9f0000" shape-rendering="crispEdges"/>
<rect x="1448" y="49.49" width="25.4" height="3.79" fill="#8f0000" shape-rendering="crispEdges"/>
<rect x="1448" y="46.3" width="25.4" height="3.79" fill="#800000" shape-rendering="crispEdges"/>
<path d="M1448 80.35h2M1473.4 80.35h-2M1448 114.4h2M1473.4 114.4h-2M1448 148.45h2M1473.4 148.45h-2M1448 182.5h2M1473.4 182.5h-2M1448 216.55h2M1473.4 216.55h-2" fill="none" stroke="#000" stroke-opacity=".7" stroke-width="1"/>
<rect x="1448" y="46.3" width="25.4" height="204.3" fill="none" stroke="#555" stroke-opacity=".7" stroke-width="1"/>
<path transform="scale(.5 1)" d="M66.5 412.9l1-.1 1 .8 1-.2 1-.8 1-.2 1 .8 1-.9 1-1.2 1 2.3 1-.6 1 .3 1 .3 1-.9 1-.3 1-.4 1 1.7 1-.8 1-.2 1 .7 1-.6 1 .3 1 .7 1-.2 1 0 1-1.3 1 .8 1-.1 1-.3 1 .3 1-.5 1 .1 1 .6 1 .1 1-.9 1 .9 1-1.8 1 1.1 1 .4 1-.7 1 1.4 1 0 1-.9 1-.3 1 1.1 1-.2 1-.6 1 .8 1-.8 1 .3 1-.3 1 .3 1 .7 1-.3 1-.5 1 .7 1-2.4 1 2.3 1 .2 1-.2 1-.4 1-.7 1-.1 1 .7 1 .1 1-.3 1 .5 1 .3 1 .1 1-.9 1-.3 1 .2 1 .1 1 .3 1-.3 1 .6 1-.6 1 .2 1-.4 1 1 1-1 1 .1 1 0 1 .3 1-.7 1 1.2 1-.2 1 .1 1 .3 1-1.3 1 1.2 1-.8 1 0 1 .4 1 .5 1-1.2 1 .7 1-.3 1-.2 1 0 1 0 1 .5 1-.1 1 .3 1-1.1 1 1 1 .2 1 .1 1-1.3 1 .9 1-.6 1-.2 1 .3 1 .5 1-.9 1 .3 1 .8 1-.9 1 .1 1 .6 1 .3 1-.8 1-.2 1 .7 1-.1 1 .1 1 .2 1-.6 1 .4 1-.4 1 .4 1 0 1 .3 1-1.2 1 1.4 1-.8 1 0 1 .8 1-1.3 1 1.2 1-.8 1 .8 1-.9 1-.3 1 .3 1 .7 1-1 1 .5 1 .3 1-.7 1 .9 1-2.2 1 2.5 1-1.3 1 1 1-.5 1-.5 1-.1 1 1.4 1-1.3 1 .6 1-.7 1-1.2 1 2.3 1-1.6 1 1.3 1-.3 1 .2 1 .4 1-.7 1-.1 1-.2 1 .9 1-.4 1 .8 1-.4 1-.8 1-.1 1 0 1 .3 1-.3 1 .8 1 .3 1-2 1 .3 1 2 1-1.5 1 .1 1 .3 1-.3 1 .5 1-1.8 1 2.2 1-.1 1-.4 1-2 1 2.8 1-.9 1 1.1 1-1 1 .3 1 .4 1-.7 1 1 1-1.3 1 .5 1 .2 1-.1 1 .3 1-.3 1-.8 1 .3 1 .4 1 .1 1 .6 1-.9 1-.1 1 .4 1-.4 1 0 1 .9 1-.7 1-.4 1 1.3 1-1.2 1-.3 1 1.3 1-.5 1 0 1-.3 1 .4 1 0 1 .1 1-.4 1 .6 1-1.2 1 .1 1 1.2 1-.9 1-.3 1 .5 1 .1 1-.4 1 .9 1-.2 1-.8 1 .9 1-.8 1-.2 1 .7 1 .6 1-.8 1 .4 1-.3 1 .8 1-.5 1-.8 1 .3 1 .1 1-.2 1-.2 1 0 1 .1 1 .8 1-.1 1-.8 1 .4 1 .5 1 .4 1-.5 1-.1 1-.6 1-.2 1 .2 1 .2 1-.3 1 1.2 1-1.1 1 1.1 1-.1 1-.9 1 .7 1-.4 1 .8 1-.1 1-.1 1-.3 1-.4 1 .6 1-1.1 1 1 1-.7 1-.1 1-.3 1 .3 1 .7 1 0 1-.6 1 .6 1-.1 1-.5 1 .5 1 .4 1-.7 1 .6 1-.4 1-.7 1 .7 1-.3 1 .6 1-.5 1-.1 1-.2 1 .7 1 .1 1 0 1-.3 1-.2 1-.4 1-.2 1 .9 1 .5 1-1.1 1 .4 1-.3 1 .1 1 0 1-.4 1 .6 1-1.3 1 1.9 1-1.3 1 1.2 1 0 1-.7 1 .3 1-.4 1 0 1 .3 1-.8 1 .3 1 1 1-.3 1-.8 1 0 1 .5 1-.4 1 .3 1 .3 1 0 1 .5 1-.5 1 .1 1-.1 1 .3 1-.9 1 1.3 1-.1 1-.9 1 .4 1-.7 1 .8 1-.8 1 1.3 1-1.5 1 0 1 0 1 1.5 1-1.4 1 .4 1 .3 1 .2 1-.9 1 1.3 1-1.2 1 .9 1-.4 1 0 1-.5 1 1.3 1-1.3 1 1.2 1-1.2 1-.1 1 .2 1 1.2 1-.5 1-.4 1 .7 1-1 1 1.2 1-1 1 .2 1 .5 1-.6 1-.4 1 .2 1 .1 1 0 1 .3 1 .1 1 .5 1 .1 1-.7 1-.2 1 .4 1-.3 1-.2 1 1 1-1 1-.3 1 .2 1 1 1-.4 1-.2 1 .1 1 .3 1-1 1-.1 1 1.3 1-.2 1 .3 1-.8 1-.4 1 .6 1 .2 1-.2 1-.1 1-.7 1 1.4 1-.4 1 .4 1-.8 1-.4 1-.1 1-.1 1 .9 1-.3 1-.4 1 .1 1 .6 1-.5 1-.3 1 1.2 1-.9 1 .5 1 .1 1-2.8 1 2.7 1-1 1 .5 1 .1 1-.6 1 1.2 1 .2 1 .1 1-1.3 1 .2 1 0 1 0 1 0 1 1 1-.5 1 0 1-.1 1-.2 1 .9 1-1.4 1 .5 1 .4 1-1.1 1 1.2 1 .1 1-1.2 1 .9 1-.3 1 .9 1-.8 1 .7 1-.4 1 .1 1 .2 1-.3 1-.9 1 .3 1-.2 1 1.2 1-.4 1-1.3 1 .4 1 .1 1 1.3 1-.3 1-1.8 1 .7 1 1.4 1-1.1 1 .7 1-.4 1 .7 1-.8 1 .4 1-.3 1-.4 1-.2 1 .5 1 .8 1-.5 1-1.6 1 1.1 1-.1 1 .3 1 .2 1 .5 1-.3 1-.2 1-.1 1 .8 1-1 1 .6 1-.5 1 0 1 .2 1-.3 1 .1 1-.3 1 .7 1 .1 1 0 1-.2 1-.7 1 1 1-1.1 1 1.2 1-.5 1-.1 1 .7 1 0 1-.8 1-.2 1 .8 1 .3 1-.2 1-.2 1 .1 1 .2 1-1.1 1 1.3 1-1 1 0 1-.8 1 1.7 1-.5 1 .5 1 .1 1-2.4 1 2.4 1 0 1-.1 1-.9 1-.2 1 0 1 1.2 1-.8 1 .1 1-.4 1 .1 1 .5 1-1.5 1 1.7 1-.5 1 0 1 .2 1-.6 1 .3 1-.1 1 .7 1-.6 1 .7 1-1.1 1 1 1-.6 1 1.1 1-.3 1 .2 1-.4 1 .1 1 .3 1-.6 1 .5 1-1.1 1 .1 1 0 1 .5 1-.6 1 1 1-1.9 1 1.8 1-.8 1 .9 1-.3 1-2.1 1 2.1 1-.4 1 .5 1-.3 1-.2 1-.2 1 .9 1 .3 1-1.3 1 .7 1-.7 1 .1 1 .7 1-1.8 1 1.8 1-.1 1-.2 1 .6 1-1.1 1 1.4 1-.1 1-.7 1-.4 1-1.9 1 2.5 1-.6 1 .3 1 .7 1-1.1 1 1.2 1-.4 1-.6 1 .2 1-.3 1 1 1-.6 1 .3 1 .1 1-.1 1-.8 1 .2 1 .5 1 .1 1-.2 1 .1 1 .2 1-.7 1 .1 1 .6 1-.2 1 .1 1-.4 1 .2 1-.6 1 .2 1 .6 1 .1 1-.4 1 .2 1 .1 1-.6 1-.1 1 .1 1 .3 1 .4 1-.7 1 .6 1 .2 1-.1 1-.6 1-.3 1 1.2 1-.8 1-.1 1 .4 1-.3 1 .2 1 .1 1 .7 1-.9 1 .3 1-.5 1 .5 1 .4 1-.2 1-.9 1 .7 1-.3 1 .5 1-.1 1-.3 1 0 1 .6 1 .1 1-.1 1-.3 1-.3 1 .2 1-.5 1 0 1-.1 1 .6 1 .4 1-.5 1-.2 1 .7 1-.7 1 .6 1-.2 1 .3 1-.2 1 .2 1-.1 1-.6 1 .5 1-.2 1 .3 1-.2 1-.9 1 .5 1 .2 1-.3 1 .4 1-.5 1 0 1 .8 1-.7 1 0 1 .1 1-.5 1-.7 1 1.1 1 .6 1 .1 1-.2 1 .2 1-.3 1-.2 1 .2 1-.2 1 .2 1-.1 1 .1 1-.4 1 .6 1-1 1 .3 1 .5 1-.1 1-.5 1 0 1 .3 1 .7 1-1.5 1 .4 1 .8 1 0 1-.6 1 1 1-1.3 1 .4 1 1 1-.8 1 .6 1-1.2 1 .2 1 .3 1 .7 1-.1 1 .2 1-1.1 1 .6 1-.3 1 .1 1 .6 1 .1 1-.8 1-.2 1 .8 1-.1 1-.7 1 .2 1 .3 1-.7 1 .2 1 .6 1 .1 1-.3 1 .1 1-.2 1 .6 1 .1 1-1.2 1 0 1 .9 1 .2 1-.1 1-.8 1 .1 1 .9 1-.6 1 .6 1 .1 1-1.2 1 1.1 1 .1 1-.6 1-.6 1-1.4 1 2.4 1-.5 1-.2 1 .6 1 .1 1-.9 1 .8 1-.1 1 .3 1-.9 1 .4 1 0 1 .2 1-.8 1 1 1-.9 1-.1 1-.1 1 .6 1 .4 1-.9 1 .3 1 .7 1-.3 1-.1 1 .1 1-.7 1 .8 1 .3 1-1.2 1 1.3 1-.1 1-.3 1-.4 1-.6 1 .2 1 .9 1-1 1 .8 1-.2 1-.1 1 0 1-.5 1 .1 1 .3 1-.2 1 .3 1 .4 1 .4 1-.6 1-.6 1 1.1 1 0 1-1 1 .8 1 .3 1-.5 1 0 1-.4 1 .3 1-.7 1 1.2 1-.2 1-.5 1-.1 1 .8 1-.8 1 0 1-.3 1 .2 1-.3 1 1.1 1-2 1 1.9 1-.5 1 .7 1-.3 1-.7 1 .8 1-.6 1 .8 1-.1 1 0 1-1 1 1.2 1-.8 1 .1 1 .6 1-.6 1 .6 1 .1 1-.5 1 0 1 .1 1 .2 1-.7 1-.4 1 .1 1 .6 1-.5 1 .9 1-1.1 1 .7 1-.1 1-.6 1 .4 1 .3 1 .4 1-.5 1 .7 1-1.2 1 .2 1 1 1-.4 1-.2 1-.7 1 1.3 1-1.3 1 .8 1-.6 1-.2 1 .5 1 .1 1 .6 1-.8 1 .6 1-.2 1-.1 1 .4 1-2.1 1 1.2 1 1 1-1.2 1 1.2 1-1.2 1 .6 1 .1 1-.5 1 .8 1-.4 1 .3 1-1.3 1 .9 1 .4 1-.3 1 .4 1-.7 1 .8 1-.4 1 .2 1 0 1-.2 1-.3 1-1.5 1 1.8 1-.1 1-.2 1 .4 1-.1 1 .2 1 .1 1-.8 1-.2 1 .7 1-.2 1 .4 1-.4 1 .8 1-.7 1-.6 1 1.2 1-1 1 .6 1 .2 1-.2 1 .5 1-.2 1-.8 1-.1 1 0 1 .3 1-.2 1 .9 1-.4 1 .3 1-.2 1-.2 1-.5 1 .8 1-.7 1-.2 1 .7 1 .2 1-1 1 1.3 1-.7 1 .1 1 .2 1-.7 1 .5 1 .3 1-.8 1 .4 1-.4 1 .8 1-.2 1-.6 1 .7 1-.8 1 1 1-1.3 1 .3 1 .5 1 .3 1-.8 1 0 1 1.1 1-.3 1-.7 1 .9 1-.4 1 .3 1-.8 1 0 1-.1 1 .9 1-1 1 0 1 .7 1 0 1-.6 1 0 1-.1 1 .1 1 .9 1-.8 1 1.1 1-.8 1-2.3 1 1.9 1 0 1 .8 1-.8 1 .3 1-.1 1 .5 1 .4 1-.3 1-.1 1-.6 1 .5 1 0 1-2 1 1.5 1 .2 1 .1 1-.1 1 .2 1-.1 1 .2 1 .3 1 .3 1-1.3 1 .8 1-.6 1 .5 1 .4 1-.8 1-.3 1 .1 1 .1 1-.2 1 1.3 1-.4 1-1 1 .3 1 .5 1-.4 1 0 1 .9 1-.6 1 .2 1-.6 1 .3 1 .8 1-.7 1-.2 1 .3 1-1.5 1 1.4 1-.1 1 .1 1-.6 1 .5 1 .5 1-.1 1-1.1 1 1.4 1-.9 1 .3 1 .3 1 0 1 .4 1-.7 1-.5 1 1 1-.6 1 .4 1-.7 1 .7 1 .3 1-.2 1-.5 1 .5 1-.8 1 0 1 1 1-.6 1-.1 1 .7 1 .1 1-1.1 1 .3 1-.2 1 .8 1 .2 1-.4 1 .1 1-.9 1 .5 1-.3 1 .5 1 .6 1 0 1-.2 1-1 1 1 1-.4 1-.7 1 .7 1-.3 1 .3 1 .1 1-.7 1 0 1 .8 1-.3 1-.6 1 .2 1 .2 1 .6 1 0 1-.5 1-.2 1 .2 1 .1 1-.2 1 .4 1-.8 1 .5 1-.2 1 0 1 .7 1-.8 1 .8 1-.3 1 .4 1-.4 1-.2 1-.4 1 .4 1-.4 1-1.1 1 2.1 1-.8 1 .2 1-.6 1 .8 1 .1 1-.7 1 .4 1 .6 1-1.3 1 .6 1-.1 1-.9 1 .6 1 1 1-.2 1 .3 1-1.1 1 .6 1-.2 1 .4 0 5.8-1-.2-1 .3-1-.1-1 .2-1 .5-1-.6-1 .3-1-.3-1-.2-1 .2-1 .6-1 .2-1-.9-1-.2-1 .9-1-.7-1 .6-1-.1-1 0-1-.2-1-.2-1-.3-1-.3-1 .3-1 .8-1-.3-1 .5-1-.2-1-1-1 .9-1-.6-1-.1-1 .8-1 0-1-.3-1 .5-1-.9-1 0-1 .8-1-.3-1-.8-1 0-1 .8-1-.2-1 .1-1-.5-1 .2-1 .4-1-.5-1 .1-1 .1-1 .2-1-.1-1 .3-1-.4-1 .3-1 .2-1-.6-1 .1-1 0-1 0-1 .1-1-.4-1 1.3-1-1-1-.5-1 1-1 0-1-.6-1 .8-1 0-1-.9-1 .4-1-.6-1 1-1-1.1-1 .7-1-.1-1-.1-1 .8-1-.5-1-.1-1 .1-1 .3-1 1.5-1-2.5-1 .3-1 0-1 .3-1-.4-1 .1-1 .2-1 0-1-.4-1 .8-1-.3-1-.1-1 0-1-.3-1 .5-1-.3-1 .3-1 0-1-.8-1 .3-1 .3-1-.6-1 .2-1 1.1-1-.6-1-.1-1-.5-1 .4-1-.1-1 .6-1-1-1 .6-1-.6-1 .8-1 .2-1-1-1 .6-1 .6-1-.6-1-.2-1 .7-1-.9-1 .4-1 .3-1-.5-1 .6-1-.9-1 .7-1-.2-1 .7-1-.9-1-.1-1 .9-1-.6-1-.4-1 1-1-1.3-1 0-1 1.1-1 .1-1-.9-1 .2-1 1.3-1-1.5-1 1-1-.4-1-.4-1 .9-1-1.3-1 .2-1-.2-1 0-1 .2-1 .9-1-.6-1 .8-1-.2-1-.1-1-.9-1 .7-1 .5-1-1-1 .8-1-.9-1 .7-1-.1-1 0-1-.7-1 .4-1 .1-1-.1-1 .4-1-.7-1 .4-1 .5-1-.3-1 .2-1-.5-1 .3-1-.1-1-.6-1-.1-1 1.2-1-.1-1-.8-1 .7-1-1-1 .9-1 .1-1-.4-1 .5-1-1.1-1 .1-1 1.2-1-.4-1 0-1 .3-1-.4-1-.5-1-.1-1 .8-1 0-1-1-1 1.3-1-.4-1 .2-1-.1-1 .3-1-.9-1 .6-1 0-1 .2-1-1.2-1 .8-1 0-1 2.5-1-2.6-1 .4-1-.2-1-.4-1 .3-1-.2-1-.6-1 0-1 .1-1 .9-1-.8-1 .8-1-.6-1 .6-1-.3-1 .3-1 .2-1-.5-1 .3-1 .5-1-.8-1 .1-1-.1-1-.2-1-.1-1 .6-1-.7-1 .3-1 0-1-.5-1-.1-1 1.1-1-.1-1 .2-1-1-1 .1-1 1-1-1.2-1 1.1-1-.5-1 0-1 .3-1-.1-1-.5-1 1-1-1-1 .3-1-.3-1 .8-1 .1-1-.5-1 .1-1 .1-1-.9-1 0-1 1.7-1-1-1 .1-1 .2-1-1-1 .9-1 0-1-1-1 1.9-1-1.8-1 .1-1 .5-1-.1-1 1.4-1-1.4-1 0-1-.6-1 .8-1-.4-1 .6-1-.1-1-.1-1 2.3-1-2.3-1 1.3-1-2-1 .4-1-.4-1 .4-1-.5-1 .8-1-.7-1-.1-1 1.2-1-.6-1 .5-1-.1-1-.4-1 .3-1-.5-1 0-1-.1-1 .5-1-.2-1 .6-1-1.1-1 .7-1 .6-1-.4-1-.9-1 .4-1-.5-1 .2-1-.1-1 .9-1-.4-1 1.5-1-1.1-1-.5-1-.4-1 .1-1 .8-1 .3-1-.9-1 .8-1-.6-1 .1-1 .5-1-.2-1-.3-1 .1-1-.5-1 .1-1 .2-1 .3-1-.2-1 .3-1 0-1 .3-1-1.3-1 1.4-1-1.3-1 .3-1-.2-1 .2-1 .6-1 0-1 .3-1-.3-1-.9-1 .5-1-.5-1 .2-1 .5-1-.4-1 .8-1-.6-1 .7-1-.3-1 .1-1 .1-1-.3-1-.1-1 .1-1 .5-1-.8-1 0-1-.4-1 1.2-1-.8-1-.4-1 0-1 .7-1-.6-1 .6-1 .1-1-.8-1 .1-1 1.1-1-.8-1-.1-1 .1-1 .3-1 .1-1 .2-1-1-1 .6-1-.2-1 .1-1 .4-1 0-1-.2-1-.8-1 .6-1 .4-1-1.1-1 .2-1 .1-1 .8-1 0-1-.4-1 .3-1-1-1 1.3-1-1.3-1 1.2-1-1-1 0-1 .4-1 .1-1-.6-1 1.1-1-.6-1 .2-1-.6-1-.1-1 1.1-1-1.2-1 .9-1-.3-1-.5-1 1.3-1-.7-1-.3-1 1-1-.2-1-.3-1-.2-1 .4-1-.9-1-.1-1 .1-1 .5-1 .1-1-.3-1-.4-1 .1-1 .7-1-.1-1-.1-1 .3-1-.9-1 .5-1 .5-1-1.1-1 1-1-.2-1-.4-1 .6-1-.1-1-.3-1 .7-1-.1-1 .1-1-.4-1-.8-1 0-1 1-1 1.1-1-1.9-1 .4-1-.6-1 1.7-1-1.7-1 1.3-1-1.3-1 .1-1 1.1-1-.6-1-.3-1 .1-1 0-1 .6-1-.3-1 .1-1 0-1-.6-1 1.7-1-.5-1-1.1-1 .2-1-.5-1 .7-1 .3-1-.7-1 0-1 .5-1-.1-1-.4-1 .7-1 .1-1 1.4-1-1.2-1-.9-1-.1-1 1-1-.8-1 .2-1-.8-1 1.1-1-.1-1-.8-1-.1-1 .3-1 .3-1 .4-1-.2-1-.4-1-.2-1 .1-1-.1-1-.2-1 2.4-1-2-1 .2-1 .5-1-.5-1-.7-1 .9-1 .5-1-.1-1-.4-1-.1-1 .2-1 .3-1-1-1-.1-1 .7-1-.6-1 .9-1-1.2-1 .9-1 .4-1-.2-1-.4-1 .3-1-.4-1 .8-1-.1-1-.9-1 .7-1-.9-1 .9-1 .3-1-1.2-1 .9-1-.2-1 .4-1 .1-1-1-1-.2-1 .3-1 .5-1-.3-1 .3-1-.3-1-.1-1 .8-1-.9-1-.3-1-.1-1 .5-1 .7-1-1.2-1 .4-1 .2-1-.5-1-.1-1 1.2-1-.9-1 1-1-1.1-1 1-1-.5-1-.3-1 .9-1-.8-1-.5-1 .2-1 1.2-1-.9-1 .9-1-1.3-1 1.2-1-1-1 0-1-.2-1 1.2-1 1.2-1-1-1-1-1 .2-1 1.6-1-1.9-1 .8-1-.3-1-.5-1 .6-1 .3-1 0-1-.5-1 .3-1 .4-1-.7-1-.4-1 .1-1 .8-1-.5-1 .7-1-1.1-1 .2-1 .3-1-.2-1 0-1 .8-1-1.1-1 .1-1 .4-1-.2-1 0-1 .9-1-.4-1-.4-1 .8-1 0-1-1.1-1 .9-1-.1-1-.5-1-.6-1 1.4-1-.3-1-.1-1-.3-1 .6-1-.9-1 .9-1-.1-1-.7-1 .5-1 .1-1 .5-1-.2-1-.3-1-.7-1 .1-1-.1-1 .2-1 .7-1-.7-1 .9-1-1.1-1 .6-1 .4-1-1.2-1 .5-1 0-1 .2-1 .7-1-.5-1-.8-1 .4-1 .4-1-.9-1 .8-1-.3-1-.3-1 .1-1-.3-1 .6-1 .7-1-.7-1 .5-1-.7-1 2.2-1-2.3-1 .7-1 .4-1-.9-1 .2-1 0-1 .2-1 .1-1-.6-1 0-1 .8-1-.2-1-.4-1 .6-1-1-1 1.1-1-1.2-1 .3-1 .6-1 0-1-.7-1 0-1 .9-1-.2-1 0-1-.8-1 .3-1-.4-1 0-1 1.1-1-.1-1-1.1-1 .6-1 .8-1-.7-1 .2-1-.2-1-.1-1 .5-1 .3-1-1.3-1 .1-1 .8-1 .5-1-.5-1-1-1 .7-1 .5-1-.5-1 0-1-.2-1 .6-1-.3-1 .5-1-.6-1-.6-1 .6-1 .1-1 .2-1-.5-1 .1-1 .2-1 0-1 .4-1 .2-1-.3-1-.8-1 .3-1 1-1-.7-1 .2-1-.2-1-.5-1-.3-1 1.2-1-.6-1-.7-1 .6-1-.5-1 1.3-1 .1-1-.8-1-.4-1-.3-1 .4-1-.2-1 1-1-.9-1-.1-1 .7-1 .1-1-.5-1 .7-1-.8-1 .5-1 0-1 0-1-.1-1-.3-1-.4-1 .2-1 .5-1 .3-1 .2-1 .1-1 .1-1 1.2-1-2.2-1 .8-1-.7-1 2.5-1-2.8-1-.1-1 .8-1-.5-1 .4-1-.3-1 0-1 .2-1 .4-1-.6-1 .7-1-.5-1 0-1-.1-1 .1-1-.7-1-.1-1 .1-1 .6-1-.5-1 .7-1 .1-1 1.9-1-2.5-1-.3-1 .5-1 .4-1-.4-1-.4-1 .4-1 .2-1 .6-1-.7-1 .5-1-.6-1 .5-1-.7-1-.4-1 .1-1 1.3-1-.2-1 1.1-1-1.2-1 .2-1-.9-1 .9-1 .9-1-2-1 1.1-1-1.1-1 .2-1 1-1-1.3-1 1-1-.6-1 .4-1-.3-1-.5-1 1-1-.3-1-.5-1 .3-1 .9-1-.5-1-.9-1 1.4-1-.3-1 .8-1-.9-1 .3-1-1-1 .7-1-.1-1-.7-1-.2-1 1-1-.9-1 1-1-.2-1-1-1 .3-1 .8-1-.4-1-.4-1 .9-1 .3-1-.9-1-.4-1-.1-1 1.7-1-1.7-1 1.4-1-.4-1-.3-1-.7-1 .9-1-.3-1 0-1-.2-1 1.5-1-.7-1-.7-1 .4-1-.3-1-.5-1 .5-1 1.8-1-1.2-1-.9-1 .1-1 .8-1-.6-1 .8-1-.4-1-.7-1 1-1-.1-1-.9-1 1-1-.3-1-.7-1 .3-1 .6-1 0-1 .2-1-1.3-1-.1-1 .5-1 .3-1 .1-1 .3-1-.2-1 0-1-.5-1 .1-1 .3-1-.5-1 1.6-1-.9-1 0-1-.4-1 1.1-1-1.6-1-.2-1 .7-1-.8-1 1.3-1-.5-1-.2-1-.5-1 1.2-1 .6-1-.8-1 .1-1-.3-1 .2-1 .3-1-.1-1-.4-1 .4-1-.3-1-.8-1 .7-1-.4-1 .9-1 1.2-1-1.4-1-1-1 1.3-1-.6-1 .4-1-.6-1 1.7-1-1.7-1-.2-1 .1-1-.1-1 .6-1-.3-1 .1-1 .2-1-.1-1-.3-1 .8-1-1-1 .7-1-.5-1 .5-1 .1-1 .6-1-1.2-1 .7-1 .1-1-.5-1 .4-1-1.2-1 .4-1-.2-1-.3-1 .1-1 .9-1 0-1 .2-1-1-1 1.1-1-.6-1-.7-1 1.1-1-.8-1 .2-1 .3-1-.3-1 .1-1-.4-1 .8-1-.4-1 .7-1-.1-1-.6-1-.1-1-.2-1 0-1 .2-1-.4-1 .2-1 .8-1 0-1-.9-1 .2-1-.2-1-.1-1 1.1-1-.5-1 .6-1-.8-1 .5-1-.9-1 .5-1-.2-1 .9-1-1.2-1 .2-1 .3-1-.6-1 .5-1 0-1 .4-1-.9-1 1-1 .2-1-.3-1 .3-1-1.2-1 1.2-1-.7-1 .2-1 .5-1-.2-1-.6-1-.4-1 1.2-1-.8-1 2-1-1.4-1-.6-1-.3-1 .9-1-.9-1 .4-1 .5-1-.1-1-.2-1 .4-1-.4-1-.5-1 1-1-.8-1-.1-1-.4-1 1.3-1-.6-1 .2-1-.2-1-.3-1 .9-1-.5-1-.4-1 0-1-.3-1 .2-1-.1-1 1.1-1-1.1-1 .9-1-.2-1-.7-1 .4-1 .1-1 0-1-.3-1 .1-1-.5-1 0-1 .5-1-.1-1-.2-1 1-1-.8-1 0-1 .9-1-.9-1 .6-1 0-1-.8-1 .5-1-.1-1 .9-1-.7-1 .6-1-.1-1-.4-1-.6-1 1-1 .2-1-.8-1 .7-1-.9-1-.4-1 1-1-.6-1-.3-1 1.2-1 .1-1-.6-1-.8-1 .1-1 1.2-1-1.3-1 .1-1 .8-1-.1-1-.5-1 .3-1 0-1-.1-1 .5-1-.6-1 .8-1 .9-1-1.7-1 0-1 .5-1-.3-1 .1-1 .3-1 0-1 .3-1-1.3-1 1-1 .5-1-1.3-1 .9-1 .2-1-.9-1-.2-1 .2-1-.2-1 1.3-1-.2-1 .1-1-.2-1-.8-1 .3-1-.7-1 .8-1-.1-1-.3-1 .3-1 .1-1 1.6-1-.2-1-1.2-1-.1-1 .2-1-.4-1 0-1-.1-1-.6-1 .1-1 1.3-1-.8-1-.5-1 .7-1 .2-1-.2-1 .1-1 .1-1-.5-1 .9-1 0-1-1.4-1 0z" fill="#0000ff" fill-opacity=".5"/><path transform="scale(.5 1)" d="M66.5 413.9l1 0 1 .1 1 .3 1-.4 1 .7 1-.2 1-.6 1 .1 1-.2 1 .8 1-.5 1 0 1 .1 1 .2 1 0 1 .1 1-.2 1 .3 1-.2 1-.2 1 0 1 .4 1-.8 1 .5 1-.2 1 .1 1 .2 1 .3 1-.3 1 0 1 .1 1-.6 1 .2 1-.1 1 0 1 .1 1-.1 1 0 1 .5 1-.7 1 .7 1-.5 1 .7 1 0 1-.1 1-.2 1-.2 1-.1 1-.2 1 .6 1 .1 1-.1 1 .2 1-.9 1 .8 1-.8 1 .5 1 .3 1 0 1 .1 1-.1 1-.1 1-.5 1 .1 1-.1 1-.2 1 .4 1-.1 1 .4 1-.1 1-.3 1-.1 1 .2 1 .2 1 .2 1-.6 1 .1 1 .2 1 .1 1 .3 1-.1 1 0 1-.2 1 0 1-.5 1 .4 1 0 1 .1 1-.4 1 .6 1-.1 1 .1 1 0 1 0 1-.3 1 0 1-.4 1 .7 1-.2 1-.1 1 0 1-.3 1-.1 1 0 1 .2 1 0 1 .2 1-.4 1 .3 1 .3 1 0 1-.4 1 .2 1 .3 1-.1 1-.6 1 .3 1-.2 1 .7 1-.6 1-.2 1 .8 1-.4 1 .4 1-.7 1 .7 1-.4 1-.4 1 .4 1-.4 1 .4 1 .2 1-.6 1 .1 1 .4 1-.5 1 .1 1 .4 1-.3 1-.2 1 .7 1-.3 1 .2 1-.5 1 .3 1-.2 1 .1 1-.2 1 .2 1 0 1 .4 1-.1 1-.1 1-.5 1 .7 1-.1 1-.5 1-.1 1 .2 1 .5 1-.3 1-.1 1 .1 1 .4 1-.8 1 .8 1-.5 1 .2 1 .1 1 .1 1-.2 1 .3 1-.4 1 .4 1-.6 1 .3 1-.5 1 .1 1 .1 1-.2 1 .1 1 .2 1-.1 1 .6 1-.1 1-.2 1-.3 1 .1 1 .4 1 .1 1-.4 1-.2 1 .5 1-.1 1-.3 1 0 1 0 1 .4 1-.5 1 .1 1 .2 1 0 1-.3 1 0 1-.1 1 .2 1-.2 1 .5 1-.6 1 .1 1 0 1-.1 1 .2 1 .5 1-.2 1-.1 1 .1 1-.3 1 .1 1 .3 1 0 1-.6 1 .4 1 .1 1 0 1 .3 1-.3 1 .1 1-.4 1 .1 1 0 1 .1 1-.4 1 .8 1-.8 1 .7 1-.7 1 .8 1-.8 1 .8 1-.7 1 .6 1-.6 1 .7 1-.2 1-.4 1 .5 1 .1 1-.1 1-.6 1-.1 1 .5 1 .1 1-.2 1-.2 1 0 1 .5 1-.3 1 .1 1-.4 1 .2 1 .6 1-.2 1-.6 1 .5 1-.1 1 0 1 0 1-.1 1 0 1-.2 1 .5 1-.4 1 .3 1 0 1 .2 1-.6 1 .3 1 .2 1 0 1-.4 1 .4 1-.7 1 0 1 .4 1-.3 1-.1 1 .4 1 .1 1-.1 1-.2 1 .6 1-.1 1 .1 1-.7 1 .4 1 .2 1-.3 1-.2 1 .5 1-.6 1 .1 1 .5 1-.1 1 0 1-.1 1 0 1 .1 1 .1 1-.4 1 .1 1 .4 1-.3 1-.5 1 .6 1 0 1 .2 1-.6 1 .2 1-.2 1 0 1-.2 1 .4 1 0 1 .4 1-.5 1 .1 1 .2 1 .3 1-.8 1 .4 1 0 1 .1 1-.2 1 0 1-.2 1 .3 1-.4 1 .7 1-.1 1 .1 1-.7 1 .1 1 0 1 .5 1-.3 1-.4 1 .4 1 .1 1 .3 1-.6 1-.1 1 0 1 .3 1-.1 1-.2 1 .8 1 0 1-.7 1 0 1 .1 1 .1 1 .2 1-.2 1 .1 1 .3 1-.5 1-.3 1 .7 1-.4 1 .1 1 .5 1-.9 1 .3 1 .1 1 .2 1-.4 1 .1 1 .1 1-.1 1 .2 1 .3 1-.5 1-.2 1 .5 1 .2 1-.6 1 .2 1 .3 1 .1 1 .1 1-.2 1 0 1-.6 1 .2 1 .3 1 .1 1-.5 1 .2 1 .3 1-.1 1-.3 1-.2 1 .7 1-.2 1-.2 1-.1 1 .1 1-.2 1 .1 1 .1 1 .4 1-.1 1-.2 1-.3 1 .2 1 .3 1-.2 1 .3 1-.6 1 .5 1-.4 1-.1 1 .2 1 0 1 .4 1-.2 1-.1 1-.4 1 .5 1 .1 1-.5 1-.1 1 .8 1-.6 1 .5 1-.1 1-.6 1 .3 1-.2 1 .6 1-.6 1 .1 1 .2 1 .1 1-.5 1 .8 1-.6 1 .1 1-.2 1 .4 1 0 1-.1 1 .3 1 .1 1-.9 1 .5 1-.2 1-.3 1 .7 1 .1 1-.2 1-.3 1 .2 1 .1 1-.5 1 .6 1-.6 1 0 1 0 1 .6 1-.5 1 .5 1-.3 1 .3 1-.7 1 .8 1-.6 1 .4 1 .1 1-.1 1 .2 1-.4 1 .5 1-.8 1 .1 1 .1 1 0 1 .2 1-.5 1 0 1 .5 1 .1 1-.1 1-.1 1 .1 1 .2 1-.6 1 .3 1 .3 1 .1 1-.1 1-.3 1-.3 1 .8 1-.7 1 .5 1-.5 1-.1 1 .2 1 .2 1 .1 1 0 1-.5 1 .1 1-.1 1 .6 1 0 1-.3 1-.3 1 .6 1-.6 1 .7 1 0 1-.4 1-.3 1 .3 1 .4 1-.7 1 0 1 .5 1-.3 1 .3 1-.5 1 .2 1 .1 1 0 1 .1 1-.2 1-.1 1 .6 1-.5 1 .1 1-.3 1 .8 1-.3 1 .2 1-.5 1 .5 1 .1 1-.4 1 .3 1 0 1-.5 1 0 1 .6 1-.6 1 .6 1 0 1-.2 1 .1 1-.4 1 .4 1-.2 1-.1 1 .3 1 .2 1-.8 1 .5 1-.2 1 .5 1 0 1-.7 1 .2 1 .2 1-.3 1 .4 1 .1 1-.5 1 .2 1-.1 1 .4 1-.6 1 .5 1-.2 1 .4 1-.3 1 0 1-.1 1 .3 1-.1 1-.1 1-.1 1 .1 1 .3 1-.5 1 .3 1 .1 1-.2 1-.3 1 .6 1-.5 1 .2 1-.2 1 .2 1-.2 1 .1 1-.1 1-.1 1 .3 1 .2 1-.5 1 .7 1-.3 1 .1 1-.2 1 .5 1-.2 1 0 1-.3 1 .2 1-.2 1 0 1-.2 1 .6 1 0 1-.2 1-.4 1 0 1 .5 1-.1 1 0 1-.3 1 .4 1-.3 1 .4 1-.3 1-.2 1 0 1 .1 1-.2 1 .3 1 .1 1-.3 1 .1 1-.2 1 .5 1-.3 1 0 1-.2 1 .4 1 .2 1-.5 1-.1 1 .3 1 .3 1-.2 1-.3 1 .4 1 .1 1-.3 1 .1 1-.1 1 .3 1 0 1-.1 1-.3 1 .1 1-.3 1 .4 1-.3 1 .5 1 .1 1-.7 1 .1 1-.1 1 .4 1 .2 1-.3 1 .1 1 .3 1-.5 1 .2 1-.1 1-.2 1 .5 1-.1 1-.4 1 0 1 0 1 .6 1 0 1-.4 1 .4 1-.2 1 0 1-.5 1 .3 1-.3 1 .6 1-.2 1-.3 1 .4 1 0 1 .1 1-.2 1 0 1 0 1-.3 1 .2 1 .2 1 .2 1-.1 1 0 1-.2 1-.4 1 .4 1-.2 1 0 1 .4 1-.2 1-.4 1 .3 1-.2 1 .1 1 0 1 0 1-.2 1 .5 1 0 1 0 1 .2 1-.5 1 .4 1-.2 1 0 1-.2 1 .4 1 0 1-.1 1 .1 1-.1 1-.1 1-.1 1 .1 1 .3 1-.7 1 .3 1 .1 1 .1 1-.1 1-.2 1 .2 1 .1 1-.2 1-.1 1-.1 1 .6 1-.5 1 .5 1 0 1-.5 1 0 1 .5 1-.2 1 .1 1-.5 1 .5 1-.2 1 .1 1 .2 1-.4 1-.2 1 .6 1-.7 1 .2 1 0 1 .4 1 0 1-.2 1 .1 1 .2 1-.4 1 .4 1-.2 1-.4 1 .1 1 .4 1 .1 1-.1 1-.2 1-.4 1 .6 1-.5 1-.1 1 .3 1-.1 1 0 1-.2 1 .5 1-.2 1-.1 1-.1 1 .1 1 .5 1-.5 1 .4 1 0 1-.1 1 .1 1-.1 1 .2 1-.2 1-.4 1 .6 1-.3 1 .3 1-.4 1 0 1-.1 1 .1 1 .3 1 .1 1-.3 1 .2 1-.3 1-.2 1 .3 1 0 1-.1 1 .1 1 .3 1-.3 1-.3 1 .4 1-.2 1-.1 1-.1 1 0 1 .4 1 .2 1-.1 1 0 1-.5 1 .2 1 0 1-.1 1 .5 1-.2 1-.4 1 .6 1 0 1-.4 1 .4 1-.2 1 .1 1-.2 1 .2 1-.4 1 .1 1 .2 1-.2 1-.2 1 .1 1 0 1 0 1 .4 1-.1 1 0 1-.2 1 0 1 .2 1 .1 1-.3 1-.2 1 .2 1 .1 1-.1 1 .1 1-.2 1 .2 1 .2 1 0 1-.3 1 .2 1-.1 1 .3 1 0 1-.3 1-.2 1 .3 1-.4 1 0 1 .3 1 .2 1-.1 1-.2 1 .1 1 .2 1-.2 1 0 1 .1 1-.1 1 .3 1 0 1-.6 1 .5 1-.3 1-.2 1 .5 1 .2 1-.1 1-.3 1 .2 1-.4 1 .2 1 .1 1 0 1-.1 1 .1 1 .2 1-.1 1-.5 1 .6 1-.6 1 .1 1 .2 1 .2 1 .1 1-.5 1 .1 1-.1 1 .2 1 .3 1-.6 1 .6 1-.5 1 .1 1-.1 1 .3 1-.2 1-.2 1 0 1 .5 1-.4 1 0 1 .4 1-.4 1 .1 1 .4 1 0 1 0 1 .1 1-.7 1 .3 1 .1 1 0 1-.4 1 .2 1-.1 1-.1 1 .1 1-.1 1 .6 1 0 1-.1 1 .1 1-.1 1 0 1-.3 1-.2 1 0 1 .4 1-.4 1 .1 1 .5 1-.4 1 .2 1-.3 1 0 1-.1 1 .4 1-.1 1 0 1 .4 1-.6 1 .3 1 0 1-.1 1-.2 1 .4 1-.5 1 .3 1 .1 1-.4 1 .1 1 0 1 .5 1-.2 1-.4 1 .4 1-.2 1 .1 1-.2 1 .2 1 0 1-.1 1 .4 1-.1 1-.5 1 .4 1-.3 1 .2 1-.3 1 .2 1-.2 1 .3 1 .1 1-.1 1 .3 1-.3 1-.1 1 .2 1 .1 1-.2 1-.1 1 .4 1-.6 1 .3 1 .1 1 .3 1-.1 1-.1 1-.5 1 .3 1 .3 1-.4 1 .2 1-.1 1-.2 1 .6 1-.6 1 .4 1-.2 1-.2 1 .2 1 .3 1-.3 1 .2 1 .1 1-.2 1-.1 1-.3 1 .4 1-.1 1-.2 1 .1 1 .1 1 .2 1 0 1-.5 1 .2 1-.1 1 0 1 .4 1-.1 1 0 1-.4 1 .4 1-.2 1 .4 1-.5 1 .5 1-.2 1-.2 1 .2 1 .2 1-.4 1 .1 1-.1 1 .4 1-.4 1 .2 1 .2 1-.3 1-.2 1 .3 1 .1 1-.4 1-.1 1 0 1 .4 1 .1 1-.3 1 .3 1-.2 1-.2 1 .5 1-.2 1-.2 1-.1 1 .3 1-.1 1-.1 1 .1 1 .3 1-.5 1 .3 1-.3 1 0 1 .5 1-.4 1 .1 1 .4 1-.3 1 0 1 .1 1-.4 1 .2 1-.1 1 .4 1-.6 1 0 1 .6 1-.4 1-.1 1 .3 1 .2 1-.2 1-.2 1 .1 1 .1 1 0 1 .1 1-.4 1 .4 1 .1 1-.6 1 .4 1-.3 1 .2 1-.2 1 .3 1 .1 1-.1 1 .1 1 0 1-.2 1 .2 1-.4 1 .3 1 .1 1 .1 1-.2 1-.1 1 .1 1-.3 1 .1 1 .3 1 0 1 .1 1-.6 1 .5 1-.2 1 0 1-.1 1-.1 1 0 1 .1 1 0 1 .4 1-.1 1-.2 1-.1 1 .1 1 .4 1-.1 1-.5 1 .3 1 0 1-.3 1 .3 1 .2 1-.3 1 .3 1 0 1-.3 1-.2 1 .2 1 .3 1-.2 1-.1 1-.2 1 0 1 .3 1-.2 1-.1 1 .2 1-.1 1 .1 1 .1 1-.3 1 .5 1-.6 0 4.3-1-.1-1-.3-1 .7-1-.2-1 .1-1-.5-1 .2-1-.3-1 .2-1 .1-1 0-1 .1-1 .3-1-.3-1-.2-1 .3-1 0-1 .1-1-.2-1 0-1 .1-1 0-1-.1-1-.1-1 .1-1-.1-1 0-1 .3-1-.4-1 .4-1-.5-1 0-1 .3-1 .1-1-.3-1 .4-1-.4-1 .2-1-.3-1 .5-1-.5-1 .3-1 0-1 0-1 0-1 .3-1-.2-1 .2-1-.6-1 .3-1-.3-1 .3-1 0-1-.3-1 .3-1 .3-1-.4-1 .3-1 .1-1-.4-1 0-1-.1-1 0-1 .5-1-.3-1-.2-1 .5-1-.6-1 .4-1-.5-1 .4-1 .1-1-.2-1-.2-1 0-1 .4-1-.4-1 .5-1-.5-1 .1-1 .1-1 .2-1-.3-1 .3-1-.3-1 .4-1 .1-1-.3-1-.4-1 .1-1 .1-1 .2-1-.1-1 0-1 .1-1-.3-1 .3-1 .1-1-.1-1-.1-1 .2-1-.1-1-.3-1 .3-1 .1-1-.1-1-.3-1 .1-1 .4-1-.5-1 .6-1-.4-1 .2-1-.1-1 .2-1-.2-1 .1-1-.5-1 .5-1-.1-1-.1-1-.3-1 .1-1 .3-1 0-1-.1-1 0-1-.1-1 0-1 .4-1-.5-1 .2-1-.3-1 .6-1-.4-1 .1-1 0-1 0-1 .2-1-.2-1 0-1-.1-1 .1-1 .2-1 .1-1 0-1-.1-1 .2-1-.1-1 .1-1-.5-1 .3-1 0-1-.4-1 0-1 .2-1 .3-1-.1-1-.5-1 .2-1 0-1 .4-1-.1-1 .2-1-.2-1 .1-1 .1-1-.6-1 .1-1 0-1 .4-1-.2-1-.4-1 .2-1 .3-1-.5-1 .1-1 0-1 .5-1-.5-1 0-1-.1-1 .6-1-.5-1 .5-1-.5-1 .4-1-.4-1 .4-1-.5-1 .2-1 .2-1 .1-1 0-1-.1-1 .3-1-.3-1-.1-1-.1-1-.1-1 .1-1 .3-1 0-1-.1-1 .1-1 .2-1 0-1-.1-1 0-1-.4-1 .3-1-.4-1 0-1 .2-1-.2-1 .6-1-.6-1 .6-1-.6-1 .6-1 0-1-.1-1-.2-1-.4-1 .3-1-.1-1 0-1 .2-1-.3-1 .1-1-.2-1 .4-1-.3-1 0-1 .1-1-.1-1 .2-1 .1-1 .3-1-.5-1 .2-1-.1-1 .4-1-.5-1 0-1 .1-1 .1-1 .3-1-.5-1 0-1-.1-1 0-1 .4-1 .1-1 0-1-.1-1-.4-1 .4-1-.2-1 0-1 .1-1 0-1 0-1 .3-1-.5-1 0-1 .5-1-.3-1 .3-1-.4-1 .3-1-.3-1 .3-1-.3-1-.2-1 .3-1-.1-1 .2-1-.4-1 .4-1-.4-1 0-1 .4-1-.4-1 .1-1 0-1 .3-1 0-1-.2-1 .1-1-.3-1 .3-1-.2-1 .2-1 .3-1-.2-1 .2-1-.6-1 .7-1-.7-1 0-1 .3-1 .2-1-.1-1 .1-1-.5-1 .2-1 .1-1 .1-1-.2-1 .3-1-.3-1 .2-1 0-1 .2-1-.6-1 .3-1-.1-1 .3-1-.1-1-.1-1 .2-1-.1-1-.3-1 .3-1-.4-1 .4-1 .1-1-.2-1 .1-1-.1-1-.1-1 .5-1-.2-1 .2-1-.4-1 0-1 0-1 .1-1 .1-1-.3-1-.1-1 .5-1-.5-1 .4-1-.1-1 .1-1 .1-1-.5-1 .5-1-.3-1-.2-1 .5-1-.2-1 .1-1-.1-1 .2-1-.6-1 .3-1-.3-1 .2-1 0-1 .1-1 .3-1-.2-1 0-1-.1-1-.1-1-.1-1 .5-1-.6-1 0-1 .4-1 0-1-.1-1 .2-1-.5-1 .6-1-.1-1-.2-1 .2-1-.5-1 .5-1 0-1-.4-1 .3-1-.2-1 .1-1-.3-1 .1-1 .3-1-.3-1 .4-1-.2-1 .4-1-.3-1-.2-1 .2-1 .2-1-.1-1 .1-1-.6-1 .1-1 .5-1-.5-1 .1-1 .3-1-.1-1-.4-1 .4-1 .3-1-.3-1 .3-1-.4-1 .2-1 .1-1-.1-1 0-1-.3-1 .4-1-.4-1 0-1 .2-1-.3-1 0-1 .1-1-.2-1 .7-1-.3-1 0-1 .3-1-.1-1-.4-1 0-1 .1-1-.2-1 .1-1 .4-1 .1-1-.3-1-.4-1 .1-1 .4-1 .1-1-.1-1 .2-1-.6-1 .1-1-.1-1 0-1 .3-1-.1-1 .2-1-.3-1-.2-1 0-1 .3-1 .2-1-.1-1 0-1-.3-1 0-1 .5-1-.3-1-.2-1 .2-1 .1-1-.3-1 0-1 .4-1-.2-1 .2-1-.2-1-.2-1 .4-1-.2-1 .3-1-.4-1 .4-1-.3-1 .4-1-.3-1-.1-1 .4-1-.4-1 0-1-.3-1 .1-1 .4-1-.5-1 .4-1 0-1-.4-1 .6-1-.5-1 .1-1 .3-1 .1-1-.1-1-.2-1-.2-1 .3-1-.1-1-.2-1 0-1 .1-1-.1-1 .2-1 .4-1-.1-1-.6-1 .4-1 .1-1 0-1 0-1-.4-1 0-1 .4-1-.2-1 .1-1 .1-1-.3-1 0-1-.1-1 0-1 .6-1-.5-1 .1-1 0-1 .3-1-.4-1-.2-1 .1-1 .5-1-.4-1-.1-1 .1-1 .3-1-.3-1 .2-1 .3-1-.4-1 0-1 .1-1 .3-1-.5-1 .4-1-.1-1-.2-1 .3-1-.4-1 .1-1 .2-1-.3-1-.1-1 0-1 .3-1 .2-1-.4-1 .5-1 0-1-.1-1-.1-1 .2-1-.7-1 .5-1-.2-1 .4-1-.6-1 .3-1 .1-1 .1-1-.4-1-.1-1 .4-1 .2-1-.6-1 .4-1-.3-1-.2-1 .3-1 .4-1 0-1-.5-1 .5-1-.1-1 .1-1-.6-1 .5-1-.3-1 .4-1-.1-1 .1-1 0-1-.5-1 .4-1-.3-1 .4-1-.6-1 .6-1-.2-1 .3-1-.3-1-.1-1 0-1-.3-1 .3-1 .2-1 .2-1-.3-1-.4-1 .1-1 0-1 .7-1-.8-1 .2-1 .4-1-.3-1-.1-1 .4-1-.5-1 .5-1-.4-1-.1-1 .4-1 .3-1-.6-1 .6-1-.1-1-.4-1 .6-1-.7-1 .5-1-.2-1 0-1-.4-1 .2-1 .1-1 .3-1-.5-1 .7-1-.8-1 .6-1-.3-1 .4-1-.3-1 .4-1-.5-1 .1-1 .2-1 0-1 .3-1-.8-1 .7-1 0-1 .1-1-.8-1 .3-1 .3-1 .1-1-.6-1 .2-1-.3-1 .7-1-.5-1 .3-1 .1-1 0-1 .1-1-.4-1 .5-1-.1-1-.6-1 .7-1-.4-1 .3-1-.2-1 .2-1-.2-1-.3-1 .5-1-.3-1 .4-1-.8-1 .4-1 0-1 .2-1-.4-1-.1-1 .6-1-.6-1 .1-1-.1-1 .3-1 .2-1 0-1-.2-1 .4-1-.3-1-.3-1 .5-1-.5-1 .2-1-.4-1 .7-1-.2-1-.4-1 .1-1-.1-1 .4-1-.2-1 .3-1 .1-1-.2-1 .1-1 0-1-.4-1-.1-1 .7-1-.1-1 0-1-.7-1 .5-1-.4-1 .7-1-.3-1 .3-1-.5-1 .3-1 .1-1-.4-1 .5-1-.4-1-.1-1 0-1 .1-1 0-1 .1-1-.3-1 .4-1-.3-1 .5-1-.1-1-.1-1-.4-1 .2-1 .5-1-.8-1 .1-1 .1-1-.2-1 0-1 .1-1 .6-1 .1-1-.8-1 .5-1-.3-1 .1-1-.3-1 .8-1-.8-1 .4-1-.1-1 .3-1-.2-1-.1-1 .1-1 .4-1-.3-1-.1-1-.3-1 .6-1-.3-1 .3-1-.2-1-.5-1 .6-1-.4-1 .3-1 .1-1-.6-1 0-1 .8-1-.8-1 .6-1 .1-1-.4-1 0-1 .5-1-.6-1 .5-1-.8-1 .2-1 .4-1-.4-1 .2-1 .4-1-.8-1 .5-1-.2-1 .2-1 .3-1-.6-1 .5-1-.6-1 .7-1-.5-1-.1-1 .3-1-.2-1 .3-1-.2-1 .2-1-.5-1 .5-1 0-1-.2-1 .4-1-.2-1 0-1-.4-1 0-1 .1-1 .6-1-.8-1 .7-1 0-1-.3-1 .2-1-.2-1 .1-1 .1-1 0-1-.1-1-.3-1 .1-1 .5-1-.1-1-.6-1 .3-1-.3-1-.1-1 .6-1-.3-1 0-1 .4-1 0-1-.4-1 .1-1-.3-1-.1-1 .7-1-.3-1 .3-1-.4-1 .2-1-.4-1-.1-1 .3-1 .2-1 .1-1-.2-1-.5-1 .1-1-.1-1 .5-1 .3-1-.2-1 0-1-.3-1-.2-1 .2-1 0-1 .1-1-.1-1-.3-1 .2-1 .3-1 0-1-.4-1 .2-1-.1-1 .1-1 .3-1-.4-1 .4-1-.5-1 .2-1-.3-1 .3-1-.3-1 0-1 .6-1 0-1 .3-1-.6-1-.1-1 .5-1 .2-1-.6-1 .1-1 .3-1-.6-1 .3-1 .5-1-.7-1 .2-1 .4-1 0-1-.5-1 .5-1-.2-1 0-1-.1-1-.2-1 .5-1-.4-1-.1-1 .2-1 .3-1-.3-1-.4-1 .2-1 .1-1-.1-1 .5-1-.6-1 .5-1-.3-1-.2-1 .3-1-.2-1 .3-1 .2-1-.7-1 .8-1-.2-1-.6-1 .4-1 .3-1 .1-1 0-1-.6-1-.1-1 .6-1-.7-1 .1-1 .5-1 .2-1-.2-1-.5-1 .3-1 .1-1-.2-1 .2-1-.2-1 .1-1 .3-1-.3-1 .2-1 .1-1-.2-1-.1-1 0-1-.2-1 .3-1-.1-1-.4-1 .5-1-.4-1 .3-1-.3-1 .7-1-.6-1-.2-1 .3-1-.2-1 .5-1 .1-1 0-1-.2-1-.2-1 .4-1-.2-1-.5-1 0-1 .7-1 0-1-.1-1 0-1 .1-1-.7-1 .2-1 0-1-.1-1 .3-1 .3-1-.2-1 .2-1 .1-1-.1-1-.5-1 .6-1-.8-1 .2-1 .1-1 .2-1-.2-1-.2-1-.1-1 .1-1 .3-1 0-1 .3-1-.7-1 .8-1-.1-1 .1-1-.8-1 .4-1 0-1-.2-1-.1-1-.1-1 .5-1-.2-1 .2-1-.5-1 0-1 .7-1-.2-1-.2-1 .2-1-.2-1 .3-1 .3-1-.3-1-.6-1 .6-1 0-1 0-1-.4-1-.1-1 .7-1-.1-1-.5-1 .2-1 .1-1-.1-1-.3-1 .7-1-.7-1 0-1-.1-1 .3-1 .2-1-.5-1 .2-1 0-1 .5-1-.2-1 0-1-.4-1 .2-1-.1-1 .4-1 .1-1 .1-1-.2-1-.5-1 .2-1-.1-1 .6-1 .1-1-.8-1 .5-1-.4-1 .1-1 .2-1-.4-1 .3-1 .2-1 0-1-.1-1 .1-1-.6-1 .3-1-.1-1-.2-1 .5-1 .1-1-.3-1 .2-1-.3-1 .1-1 .3-1-.4-1 .1-1 .3-1 0-1-.4-1 .4-1-.1-1-.4-1 .4-1 .1-1-.2-1-.1-1 .6-1-.3-1-.2-1 0-1 .2-1 .1-1-.3-1 .1-1 .3-1-.1-1-.4-1 .5-1-.6-1 0-1-.2-1 .6-1-.1-1 0-1-.2-1 0-1 .5-1-.3-1 .1-1-.5-1 .2-1 .2-1 .3-1-.3-1-.4-1 .7-1-.6-1 .4-1-.1-1 .2-1-.5-1-.2-1 0-1 0-1 .9-1-.3-1 .2-1 0-1 .1-1-.2-1-.2-1 .1-1 0-1-.3-1-.1-1 .4-1 .1-1 .2-1-.5-1-.3-1 .2-1 .4-1 .1-1-.2-1-.3-1 .3-1 .2-1 .1-1-.8-1 .1-1 0-1-.2-1 .2-1 0-1 .5-1-.4-1 .5-1-.3-1-.5-1 .3-1 0-1 .1-1 0-1 .1-1 0-1 .3-1-.2-1 0-1-.3-1 .2-1-.4-1 .3-1 .1-1-.2-1 .2-1 .3-1-.4-1 .5-1-.2-1-.1-1-.2z" fill="#0000ff"/><path d="M271.8 413.8V418.5M272.2 411.4V422.5M272.5 414V419.6M272.8 412.2V421.4M273.2 409.5V422.1M273.5 413.1V419.4M273.8 409.2V424.8M274 412.9V420.7M274.2 410.4V423.3M274.5 413.6V420M274.8 414.3V419.4M577.8 411.9V420.5M578.2 413.4V420.2M578.8 409.9V423.5M579 413.3V420.1M579.2 412.4V421.2M579.8 413.5V421M580.2 413.2V418.4M584.8 412.2V421.4M585.2 409.2V423.2M585.5 413V419.9M585.8 406V428.2M586 411.3V422.4M586.2 406.6V424.5M586.5 411.6V420.6M586.8 406.1V425.1M587 411.4V420.9M587.2 407.8V421.7M587.5 412.3V419.2M587.8 413.6V422.2M588 415.1V419.4M588.2 414V419.7M588.8 413.6V420.2M589.2 408.5V422.1M589.5 412.6V419.4M589.8 410V425.6M590 413.4V421.1M590.2 409.3V422.8M590.5 413V419.7M590.8 410V421.6M591 413.3V419.2M591.2 413.2V420.2M591.2 413.8V419.5M591.8 414.4V422.3M592 415.6V419.5M592.2 412.7V421.2M592.8 412.7V426.4M593 414.7V421.5M593.2 412.4V425M593.5 414.6V420.9M593.8 411V424.6M594 413.9V420.6M594.2 411.6V423.7M594.5 414.2V420.2M594.8 412.4V423.9M595 414.5V420.3M595.2 413.3V419M595.8 415V419.2M596.2 414.4V420.9M596.8 410.3V422.1M597 413.5V419.4M597.2 410V420.2M597.5 413.4V418.5M597.8 410.4V422.8M598 413.6V419.7M598.2 411.7V423.3M598.5 414.2V420M598.8 411.7V419.9M599 414.2V418.3M599.2 414.6V419.2M613.2 412.7V418.5M613.8 411.1V421.7M614 413.9V419.2M614.2 408.6V422.3M614.5 412.6V419.5M614.8 407.8V420.8M615 412.3V418.8M615.2 409V421.8M615.5 412.9V419.2M615.8 412.9V421.7M616.2 413.6V419.5M616.8 414.6V420M619.2 413.7V419.2M619.8 411.9V422.1M620 414.3V419.4M620.2 407.9V424.4M620.5 412.3V420.6M620.8 407.4V424.6M621 412.1V420.7M621.2 407.4V425.2M621.5 412V420.9M621.8 404.3V424.9M622 410.5V420.8M622.2 407.9V426.1M622.5 412.3V421.4M622.8 408.2V425.5M623 412.4V421.1M623.2 409.1V421.6M623.5 412.9V419.2M623.8 412.4V419.6M626.2 412.7V420.7M626.8 409.4V421.4M627 413V419.1M627.2 407.9V425.9M627.5 412.3V421.3M627.8 410.1V426M628 413.4V421.3M628.2 409.7V423.5M628.5 413.2V420.1M628.8 413.2V419.5" fill="none" stroke="#0000ff" stroke-width="0.6" stroke-opacity=".9"/><path d="M94.6 413.5V423.5M106.6 409.5V421M128.8 413.5V424M179.4 393.4V446.8M196.2 405.9V424.4M242 413V424.4M280.5 409V429.3M335 401.8V426.8M342.7 401.3V437.9M388.5 405.9V421M413.5 381.8V441.5M426.3 393.8V445.6M433.3 408.3V426.4M439.6 403V426.8M463.4 408.3V424M466.8 407.1V421M475.9 400.3V429.3M491.6 358.2V512.4M498.8 398.2V436M517.6 403V422.7M589.6 401.1V437.9M621.7 403V435.5M627.7 407V426.4" fill="none" stroke="#0000ff" stroke-width="0.8" stroke-opacity=".62"/>
<path d="M33 330.1H635.5V534.4H33ZM108.31 534.4v-6M108.31 330.1v6M183.62 534.4v-6M183.62 330.1v6M258.94 534.4v-6M258.94 330.1v6M334.25 534.4v-6M334.25 330.1v6M409.56 534.4v-6M409.56 330.1v6M484.88 534.4v-6M484.88 330.1v6M560.19 534.4v-6M560.19 330.1v6M33 359.29h6M635.5 359.29h-6M33 388.47h6M635.5 388.47h-6M33 417.66h6M635.5 417.66h-6M33 446.84h6M635.5 446.84h-6M33 476.03h6M635.5 476.03h-6M33 505.21h6M635.5 505.21h-6" fill="none" stroke="#8c8c8c" stroke-width="1"/>
<rect x="826" y="330.1" width="603" height="204.3" fill="#00008f"/>
<defs><linearGradient id="b0" x2="0" y2="1"><stop offset="0" stop-color="#0000a3"/><stop offset="0.094" stop-color="#0000f6"/><stop offset="0.225" stop-color="#0066fd"/><stop offset="0.644" stop-color="#0074fe"/><stop offset="1" stop-color="#002ffa"/></linearGradient><linearGradient id="b1" x2="0" y2="1"><stop offset="0" stop-color="#0000a4"/><stop offset="0.382" stop-color="#0000f7"/><stop offset="0.5" stop-color="#0015fb"/><stop offset="0.618" stop-color="#0000f7"/><stop offset="1" stop-color="#0000a4"/></linearGradient><linearGradient id="b2" x2="0" y2="1"><stop offset="0" stop-color="#0000a2"/><stop offset="0.5" stop-color="#0000aa"/><stop offset="1" stop-color="#0000a2"/></linearGradient><linearGradient id="b3" x2="0" y2="1"><stop offset="0" stop-color="#30e6cf"/><stop offset="0.309" stop-color="#01e1fe"/><stop offset="0.495" stop-color="#008aff"/><stop offset="0.637" stop-color="#005afe"/><stop offset="0.735" stop-color="#0090ff"/><stop offset="0.858" stop-color="#00c3ff"/><stop offset="1" stop-color="#00befd"/></linearGradient><linearGradient id="b4" x2="0" y2="1"><stop offset="0" stop-color="#0000c2"/><stop offset="1" stop-color="#0000a3"/></linearGradient><linearGradient id="b5" x2="0" y2="1"><stop offset="0" stop-color="#0000a4"/><stop offset="0.169" stop-color="#0002f8"/><stop offset="0.241" stop-color="#0022fa"/><stop offset="0.754" stop-color="#0059fc"/><stop offset="1" stop-color="#004bfb"/></linearGradient><linearGradient id="b6" x2="0" y2="1"><stop offset="0" stop-color="#0000a4"/><stop offset="0.213" stop-color="#0002f8"/><stop offset="0.303" stop-color="#0022fa"/><stop offset="1" stop-color="#002ffa"/></linearGradient><linearGradient id="b7" x2="0" y2="1"><stop offset="0" stop-color="#0000a3"/><stop offset="0.164" stop-color="#0000f7"/><stop offset="0.482" stop-color="#007ffc"/><stop offset="0.8" stop-color="#007ffc"/><stop offset="0.927" stop-color="#0000f3"/><stop offset="1" stop-color="#0000a2"/></linearGradient><linearGradient id="b8" x2="0" y2="1"><stop offset="0" stop-color="#0000a5"/><stop offset="0.095" stop-color="#0001f7"/><stop offset="0.21" stop-color="#0059fd"/><stop offset="0.46" stop-color="#00b5ff"/><stop offset="0.86" stop-color="#00b5ff"/><stop offset="1" stop-color="#007ffc"/></linearGradient><linearGradient id="b9" x2="0" y2="1"><stop offset="0" stop-color="#0000a3"/><stop offset="0.323" stop-color="#0000ef"/><stop offset="1" stop-color="#0000ef"/></linearGradient><linearGradient id="b10" x2="0" y2="1"><stop offset="0" stop-color="#0000a4"/><stop offset="0.109" stop-color="#0001f9"/><stop offset="0.138" stop-color="#0015fb"/><stop offset="0.391" stop-color="#0075ff"/><stop offset="0.551" stop-color="#01cefe"/><stop offset="0.609" stop-color="#1bd2e4"/><stop offset="0.826" stop-color="#1bd2e4"/><stop offset="0.931" stop-color="#07cdf8"/><stop offset="0.935" stop-color="#0076f4"/><stop offset="0.989" stop-color="#0090f5"/><stop offset="0.996" stop-color="#009bf6"/><stop offset="1" stop-color="#00c3ff"/></linearGradient><linearGradient id="b11" x2="0" y2="1"><stop offset="0" stop-color="#0bfff4"/><stop offset="1" stop-color="#00f7ff"/></linearGradient><linearGradient id="b12" x2="0" y2="1"><stop offset="0" stop-color="#007dff"/><stop offset="0.635" stop-color="#006eff"/><stop offset="0.825" stop-color="#0023fd"/><stop offset="0.876" stop-color="#0003f9"/><stop offset="1" stop-color="#0000a4"/></linearGradient><linearGradient id="b13" x2="0" y2="1"><stop offset="0" stop-color="#06e3f9"/><stop offset="0.098" stop-color="#009cff"/><stop offset="0.392" stop-color="#008dff"/><stop offset="0.735" stop-color="#0040ff"/><stop offset="0.929" stop-color="#0001f9"/><stop offset="1" stop-color="#0000e1"/></linearGradient><linearGradient id="b14" x2="0" y2="1"><stop offset="0" stop-color="#004fff"/><stop offset="0.196" stop-color="#0031fe"/><stop offset="0.309" stop-color="#0001f9"/><stop offset="0.392" stop-color="#0000d1"/><stop offset="0.49" stop-color="#0000f9"/><stop offset="0.588" stop-color="#0023fd"/><stop offset="0.735" stop-color="#0074fe"/><stop offset="0.858" stop-color="#00a8fe"/><stop offset="0.968" stop-color="#00a5fc"/><stop offset="0.971" stop-color="#0048ef"/><stop offset="1" stop-color="#0048ef"/></linearGradient><linearGradient id="b15" x2="0" y2="1"><stop offset="0" stop-color="#0007fa"/><stop offset="0.221" stop-color="#0023fd"/><stop offset="0.319" stop-color="#009cff"/><stop offset="0.35" stop-color="#00d9ff"/><stop offset="0.392" stop-color="#48e0b7"/><stop offset="0.466" stop-color="#9ce463"/><stop offset="0.539" stop-color="#56e1a9"/><stop offset="0.608" stop-color="#00d1ff"/><stop offset="0.613" stop-color="#00caff"/><stop offset="0.784" stop-color="#00c3ff"/><stop offset="0.787" stop-color="#00a7f8"/><stop offset="0.811" stop-color="#0094f6"/><stop offset="0.971" stop-color="#0077f4"/><stop offset="0.973" stop-color="#003cec"/><stop offset="1" stop-color="#003bec"/></linearGradient><linearGradient id="b16" x2="0" y2="1"><stop offset="0" stop-color="#00dcff"/><stop offset="0.077" stop-color="#00dcff"/><stop offset="0.154" stop-color="#04f7fb"/><stop offset="1" stop-color="#05f8fa"/></linearGradient><linearGradient id="b17" x2="0" y2="1"><stop offset="0" stop-color="#00f7ff"/><stop offset="1" stop-color="#05fffa"/></linearGradient><linearGradient id="b18" x2="0" y2="1"><stop offset="0" stop-color="#0000f1"/><stop offset="0.196" stop-color="#0023fd"/><stop offset="0.294" stop-color="#008dff"/><stop offset="0.787" stop-color="#009cff"/><stop offset="0.882" stop-color="#00c3ff"/><stop offset="0.885" stop-color="#009ef7"/><stop offset="0.9" stop-color="#008af5"/><stop offset="0.939" stop-color="#0077f4"/><stop offset="0.998" stop-color="#006af2"/><stop offset="1" stop-color="#0dc5ef"/></linearGradient><linearGradient id="b19" x2="0" y2="1"><stop offset="0" stop-color="#00f7ff"/><stop offset="1" stop-color="#15ffea"/></linearGradient><linearGradient id="b20" x2="0" y2="1"><stop offset="0" stop-color="#0007fa"/><stop offset="0.792" stop-color="#0000f1"/><stop offset="1" stop-color="#0000a3"/></linearGradient><linearGradient id="b21" x2="0" y2="1"><stop offset="0" stop-color="#006eff"/><stop offset="0.557" stop-color="#005fff"/><stop offset="0.847" stop-color="#0001f9"/><stop offset="1" stop-color="#0000a3"/></linearGradient><linearGradient id="b22" x2="0" y2="1"><stop offset="0" stop-color="#0000a4"/><stop offset="0.278" stop-color="#0000f5"/><stop offset="0.409" stop-color="#0021f9"/><stop offset="1" stop-color="#002ef8"/></linearGradient><linearGradient id="b23" x2="0" y2="1"><stop offset="0" stop-color="#005fff"/><stop offset="0.252" stop-color="#007dff"/><stop offset="0.341" stop-color="#00e1ff"/><stop offset="0.41" stop-color="#68eb97"/><stop offset="0.631" stop-color="#92ee6d"/><stop offset="0.789" stop-color="#92ee6d"/><stop offset="0.915" stop-color="#4ce8b3"/><stop offset="0.934" stop-color="#00dfff"/><stop offset="0.968" stop-color="#0042ff"/><stop offset="0.984" stop-color="#0000f8"/><stop offset="1" stop-color="#0000ae"/></linearGradient><linearGradient id="b24" x2="0" y2="1"><stop offset="0" stop-color="#0000b2"/><stop offset="0.024" stop-color="#0000f9"/><stop offset="0.103" stop-color="#00e1ff"/><stop offset="0.111" stop-color="#14e4eb"/><stop offset="0.143" stop-color="#68eb97"/><stop offset="1" stop-color="#84ed7b"/></linearGradient><linearGradient id="b25" x2="0" y2="1"><stop offset="0" stop-color="#0000a6"/><stop offset="0.031" stop-color="#0001e8"/><stop offset="0.066" stop-color="#003af3"/><stop offset="0.076" stop-color="#0024ea"/><stop offset="0.097" stop-color="#001de5"/><stop offset="0.101" stop-color="#0044ed"/><stop offset="0.288" stop-color="#0031e8"/><stop offset="0.292" stop-color="#0017e2"/><stop offset="0.632" stop-color="#0014df"/><stop offset="0.635" stop-color="#0004d5"/><stop offset="1" stop-color="#0004d6"/></linearGradient><linearGradient id="b26" x2="0" y2="1"><stop offset="0" stop-color="#004cff"/><stop offset="0.009" stop-color="#004cff"/><stop offset="0.019" stop-color="#06a7f9"/><stop offset="1" stop-color="#06a8f9"/></linearGradient><linearGradient id="b27" x2="0" y2="1"><stop offset="0" stop-color="#0070ff"/><stop offset="0.8" stop-color="#00afff"/><stop offset="0.9" stop-color="#0095ff"/><stop offset="1" stop-color="#0094ff"/></linearGradient><linearGradient id="b28" x2="0" y2="1"><stop offset="0" stop-color="#0091ff"/><stop offset="0.01" stop-color="#0091ff"/><stop offset="0.02" stop-color="#3cf0c3"/><stop offset="0.098" stop-color="#4df1b2"/><stop offset="0.127" stop-color="#38e8c7"/><stop offset="0.225" stop-color="#2be3d4"/><stop offset="0.98" stop-color="#1dd7e2"/><stop offset="0.99" stop-color="#08caf7"/><stop offset="1" stop-color="#08caf7"/></linearGradient><linearGradient id="b29" x2="0" y2="1"><stop offset="0" stop-color="#00b6ff"/><stop offset="0.052" stop-color="#00ceff"/><stop offset="0.345" stop-color="#00f0ff"/><stop offset="1" stop-color="#46fab9"/></linearGradient><linearGradient id="b30" x2="0" y2="1"><stop offset="0" stop-color="#5effa1"/><stop offset="0.009" stop-color="#5effa1"/><stop offset="0.019" stop-color="#c1f13e"/><stop offset="0.85" stop-color="#c4f03b"/><stop offset="0.86" stop-color="#a8ff57"/><stop offset="1" stop-color="#aaff55"/></linearGradient><linearGradient id="b31" x2="0" y2="1"><stop offset="0" stop-color="#80ff7f"/><stop offset="0.187" stop-color="#a8ff57"/><stop offset="0.363" stop-color="#e7fd18"/><stop offset="0.385" stop-color="#d8fe27"/><stop offset="0.451" stop-color="#cfff30"/><stop offset="0.462" stop-color="#efe610"/><stop offset="0.538" stop-color="#f2d40d"/><stop offset="0.604" stop-color="#e5e61a"/><stop offset="0.89" stop-color="#dded22"/><stop offset="0.901" stop-color="#eac815"/><stop offset="0.978" stop-color="#e9cb16"/><stop offset="0.989" stop-color="#ddee22"/><stop offset="1" stop-color="#ddee22"/></linearGradient><linearGradient id="b32" x2="0" y2="1"><stop offset="0" stop-color="#fff500"/><stop offset="1" stop-color="#ffd600"/></linearGradient><linearGradient id="b33" x2="0" y2="1"><stop offset="0" stop-color="#ffd300"/><stop offset="0.059" stop-color="#ffd300"/><stop offset="0.118" stop-color="#ffa400"/><stop offset="0.529" stop-color="#ff9b00"/><stop offset="0.647" stop-color="#ff8b00"/><stop offset="1" stop-color="#ff9800"/></linearGradient><linearGradient id="b34" x2="0" y2="1"><stop offset="0" stop-color="#ffb200"/><stop offset="0.515" stop-color="#ff7c00"/><stop offset="0.939" stop-color="#ff5d00"/><stop offset="0.97" stop-color="#ff8d00"/><stop offset="1" stop-color="#ff8d00"/></linearGradient><linearGradient id="b35" x2="0" y2="1"><stop offset="0" stop-color="#ff8e00"/><stop offset="0.011" stop-color="#ff8e00"/><stop offset="0.022" stop-color="#ff4800"/><stop offset="0.032" stop-color="#ff4600"/><stop offset="0.043" stop-color="#ff5500"/><stop offset="0.097" stop-color="#ff5e00"/><stop offset="0.742" stop-color="#ff5e00"/><stop offset="0.796" stop-color="#ff5600"/><stop offset="0.817" stop-color="#ff4800"/><stop offset="0.978" stop-color="#ff6700"/><stop offset="0.989" stop-color="#ff8b00"/><stop offset="1" stop-color="#ff8b00"/></linearGradient><linearGradient id="b36" x2="0" y2="1"><stop offset="0" stop-color="#ff5100"/><stop offset="1" stop-color="#ff3800"/></linearGradient><linearGradient id="b37" x2="0" y2="1"><stop offset="0" stop-color="#ff5800"/><stop offset="1" stop-color="#ff6d00"/></linearGradient><linearGradient id="b38" x2="0" y2="1"><stop offset="0" stop-color="#ff2800"/><stop offset="0.07" stop-color="#ff1d00"/><stop offset="0.915" stop-color="#ff1d00"/><stop offset="1" stop-color="#ff2a00"/></linearGradient><linearGradient id="b39" x2="0" y2="1"><stop offset="0" stop-color="#0000a8"/><stop offset="0.038" stop-color="#0000e7"/><stop offset="0.057" stop-color="#0016ef"/><stop offset="0.065" stop-color="#0009e2"/><stop offset="0.099" stop-color="#0006db"/><stop offset="0.103" stop-color="#0022e8"/><stop offset="0.3" stop-color="#0016e1"/><stop offset="0.304" stop-color="#0004d7"/><stop offset="1" stop-color="#0005d7"/></linearGradient><linearGradient id="b40" x2="0" y2="1"><stop offset="0" stop-color="#0031ff"/><stop offset="0.833" stop-color="#0074ff"/><stop offset="0.917" stop-color="#0050ff"/><stop offset="1" stop-color="#004fff"/></linearGradient><linearGradient id="b41" x2="0" y2="1"><stop offset="0" stop-color="#004cff"/><stop offset="0.005" stop-color="#004cff"/><stop offset="0.011" stop-color="#0091ff"/><stop offset="0.962" stop-color="#0096ff"/><stop offset="0.968" stop-color="#31dfce"/><stop offset="1" stop-color="#28ddd7"/></linearGradient><linearGradient id="b42" x2="0" y2="1"><stop offset="0" stop-color="#007cff"/><stop offset="0.179" stop-color="#00bfff"/><stop offset="0.321" stop-color="#00deff"/><stop offset="0.411" stop-color="#0be7f4"/><stop offset="0.536" stop-color="#21ecde"/><stop offset="0.554" stop-color="#14e1eb"/><stop offset="0.625" stop-color="#0edaf1"/><stop offset="0.964" stop-color="#0bd1f4"/><stop offset="0.982" stop-color="#00b4ff"/><stop offset="1" stop-color="#00b4ff"/></linearGradient><linearGradient id="b43" x2="0" y2="1"><stop offset="0" stop-color="#1bffe4"/><stop offset="0.006" stop-color="#1bffe4"/><stop offset="0.011" stop-color="#84ff7b"/><stop offset="0.044" stop-color="#96ff69"/><stop offset="0.056" stop-color="#7fff80"/><stop offset="0.094" stop-color="#70ff8f"/><stop offset="0.594" stop-color="#6aff95"/><stop offset="0.7" stop-color="#74ff8b"/><stop offset="0.706" stop-color="#41ffbe"/><stop offset="0.872" stop-color="#4bffb4"/><stop offset="0.906" stop-color="#55ffaa"/><stop offset="0.911" stop-color="#63ff9c"/><stop offset="1" stop-color="#45ffba"/></linearGradient><linearGradient id="b44" x2="0" y2="1"><stop offset="0" stop-color="#40ffbf"/><stop offset="1" stop-color="#96ff69"/></linearGradient><linearGradient id="b45" x2="0" y2="1"><stop offset="0" stop-color="#a7ff58"/><stop offset="0.211" stop-color="#abff54"/><stop offset="0.289" stop-color="#b5ff4a"/><stop offset="1" stop-color="#81ff7e"/></linearGradient><linearGradient id="b46" x2="0" y2="1"><stop offset="0" stop-color="#c5ff3a"/><stop offset="0.063" stop-color="#dfff20"/><stop offset="0.778" stop-color="#f6fb09"/><stop offset="1" stop-color="#c5ff3a"/></linearGradient><linearGradient id="b47" x2="0" y2="1"><stop offset="0" stop-color="#0000a5"/><stop offset="0.095" stop-color="#0001f8"/><stop offset="0.21" stop-color="#005afe"/><stop offset="0.46" stop-color="#009eff"/><stop offset="1" stop-color="#00a8fe"/></linearGradient><linearGradient id="b48" x2="0" y2="1"><stop offset="0" stop-color="#0000a4"/><stop offset="0.105" stop-color="#0001ec"/><stop offset="0.152" stop-color="#0019f2"/><stop offset="0.272" stop-color="#00a6f7"/><stop offset="0.276" stop-color="#007ff4"/><stop offset="0.284" stop-color="#006ef2"/><stop offset="0.346" stop-color="#0053ec"/><stop offset="0.358" stop-color="#0051ec"/><stop offset="0.362" stop-color="#0673ea"/><stop offset="0.549" stop-color="#025be9"/><stop offset="0.553" stop-color="#0042e9"/><stop offset="0.696" stop-color="#0040e9"/><stop offset="0.7" stop-color="#002ae4"/><stop offset="0.872" stop-color="#0029e4"/><stop offset="0.875" stop-color="#0014df"/><stop offset="1" stop-color="#0014df"/></linearGradient><linearGradient id="b49" x2="0" y2="1"><stop offset="0" stop-color="#0090ff"/><stop offset="0.029" stop-color="#0090ff"/><stop offset="0.059" stop-color="#55e4aa"/><stop offset="0.5" stop-color="#55e4aa"/><stop offset="0.529" stop-color="#36dfc9"/><stop offset="1" stop-color="#36dfc9"/></linearGradient><linearGradient id="b50" x2="0" y2="1"><stop offset="0" stop-color="#00d4ff"/><stop offset="0.021" stop-color="#00d4ff"/><stop offset="0.042" stop-color="#88f077"/><stop offset="0.958" stop-color="#84f07b"/><stop offset="0.979" stop-color="#67f798"/><stop offset="1" stop-color="#67f798"/></linearGradient><linearGradient id="b51" x2="0" y2="1"><stop offset="0" stop-color="#00faff"/><stop offset="0.913" stop-color="#69ff96"/><stop offset="0.957" stop-color="#1cffe3"/><stop offset="1" stop-color="#1cffe3"/></linearGradient><linearGradient id="b52" x2="0" y2="1"><stop offset="0" stop-color="#1affe5"/><stop offset="0.024" stop-color="#1affe5"/><stop offset="0.049" stop-color="#c0d63f"/><stop offset="0.951" stop-color="#b7df48"/><stop offset="0.976" stop-color="#a1f55e"/><stop offset="1" stop-color="#a1f55e"/></linearGradient><linearGradient id="b53" x2="0" y2="1"><stop offset="0" stop-color="#70ff8f"/><stop offset="0.442" stop-color="#e1f91e"/><stop offset="0.769" stop-color="#efa110"/><stop offset="0.827" stop-color="#e0c21f"/><stop offset="1" stop-color="#d6d229"/></linearGradient><linearGradient id="b54" x2="0" y2="1"><stop offset="0" stop-color="#e5fe1a"/><stop offset="0.056" stop-color="#e5fe1a"/><stop offset="0.111" stop-color="#faa105"/><stop offset="1" stop-color="#faa105"/></linearGradient><linearGradient id="b55" x2="0" y2="1"><stop offset="0" stop-color="#ffd400"/><stop offset="0.053" stop-color="#ffd400"/><stop offset="0.105" stop-color="#fd5b00"/><stop offset="0.895" stop-color="#fd5d00"/><stop offset="0.947" stop-color="#ff8800"/><stop offset="1" stop-color="#ff8800"/></linearGradient><linearGradient id="b56" x2="0" y2="1"><stop offset="0" stop-color="#ff8f00"/><stop offset="0.021" stop-color="#ff8f00"/><stop offset="0.042" stop-color="#fb3400"/><stop offset="0.479" stop-color="#fc3d00"/><stop offset="0.5" stop-color="#cb1000"/><stop offset="0.646" stop-color="#c10f00"/><stop offset="0.688" stop-color="#d11800"/><stop offset="0.958" stop-color="#dc1f00"/><stop offset="0.979" stop-color="#fd4100"/><stop offset="1" stop-color="#fd4100"/></linearGradient><linearGradient id="b57" x2="0" y2="1"><stop offset="0" stop-color="#ff6e00"/><stop offset="0.347" stop-color="#ff1900"/><stop offset="0.755" stop-color="#f00c00"/><stop offset="0.796" stop-color="#f71700"/><stop offset="1" stop-color="#fa1f00"/></linearGradient><linearGradient id="b58" x2="0" y2="1"><stop offset="0" stop-color="#fa0c00"/><stop offset="0.056" stop-color="#fa0c00"/><stop offset="0.111" stop-color="#d20400"/><stop offset="1" stop-color="#d40400"/></linearGradient><linearGradient id="b59" x2="0" y2="1"><stop offset="0" stop-color="#e40000"/><stop offset="1" stop-color="#b50000"/></linearGradient><linearGradient id="b60" x2="0" y2="1"><stop offset="0" stop-color="#bb0000"/><stop offset="0.053" stop-color="#bb0000"/><stop offset="0.105" stop-color="#a30000"/><stop offset="0.895" stop-color="#9a0000"/><stop offset="0.947" stop-color="#be0000"/><stop offset="1" stop-color="#be0000"/></linearGradient><linearGradient id="b61" x2="0" y2="1"><stop offset="0" stop-color="#a10000"/><stop offset="1" stop-color="#970000"/></linearGradient><linearGradient id="b62" x2="0" y2="1"><stop offset="0" stop-color="#900000"/><stop offset="1" stop-color="#850000"/></linearGradient><linearGradient id="b63" x2="0" y2="1"><stop offset="0" stop-color="#0000a4"/><stop offset="0.102" stop-color="#0001f6"/><stop offset="0.22" stop-color="#0059fc"/><stop offset="0.503" stop-color="#00b5ff"/><stop offset="0.627" stop-color="#00c1fe"/><stop offset="0.633" stop-color="#009cf6"/><stop offset="0.638" stop-color="#0096f6"/><stop offset="0.689" stop-color="#0081f4"/><stop offset="0.802" stop-color="#0070f3"/><stop offset="1" stop-color="#0063f0"/></linearGradient><linearGradient id="b64" x2="0" y2="1"><stop offset="0" stop-color="#00f7ff"/><stop offset="1" stop-color="#24ffdb"/></linearGradient><linearGradient id="b65" x2="0" y2="1"><stop offset="0" stop-color="#0000a5"/><stop offset="0.105" stop-color="#0001f9"/><stop offset="0.152" stop-color="#0023fd"/><stop offset="0.307" stop-color="#00d9ff"/><stop offset="0.319" stop-color="#01defe"/><stop offset="0.463" stop-color="#60dd9f"/><stop offset="0.467" stop-color="#3abfbf"/><stop offset="0.471" stop-color="#34bbc4"/><stop offset="0.514" stop-color="#25a5d0"/><stop offset="0.518" stop-color="#6cdb93"/><stop offset="0.568" stop-color="#77da88"/><stop offset="0.572" stop-color="#1d99d7"/><stop offset="0.782" stop-color="#1686dd"/><stop offset="0.786" stop-color="#056cea"/><stop offset="0.922" stop-color="#0469ea"/><stop offset="0.926" stop-color="#004beb"/><stop offset="1" stop-color="#004aeb"/></linearGradient><linearGradient id="b66" x2="0" y2="1"><stop offset="0" stop-color="#1bffe4"/><stop offset="0.048" stop-color="#1bffe4"/><stop offset="0.095" stop-color="#c8ff37"/><stop offset="1" stop-color="#ceff31"/></linearGradient><linearGradient id="b67" x2="0" y2="1"><stop offset="0" stop-color="#60ff9f"/><stop offset="0.026" stop-color="#60ff9f"/><stop offset="0.051" stop-color="#c4ff3b"/><stop offset="1" stop-color="#d3ff2c"/></linearGradient><linearGradient id="b68" x2="0" y2="1"><stop offset="0" stop-color="#81ff7e"/><stop offset="1" stop-color="#92ff6d"/></linearGradient><linearGradient id="b69" x2="0" y2="1"><stop offset="0" stop-color="#a0ff5f"/><stop offset="0.414" stop-color="#bcff43"/><stop offset="1" stop-color="#cdff32"/></linearGradient><clipPath id="bc"><rect x="0" y="0" width="603" height="204"/></clipPath></defs><g transform="translate(826 330.10) scale(1 1.0015)" clip-path="url(#bc)"><path fill="url(#b2)" d="M59.4 90.5l-.1 4.5 .1 4.5 1.2 0 .1-4.5-.1-4.5z"/><path fill="url(#b4)" d="M160 0l.1 9.5 1 0 .1-9.5z"/><path fill="url(#b1)" d="M71.2 66l-.1 19 .1 19 1.2 0 .1-19-.1-19z"/><path fill="url(#b39)" d="M547.6 72.5l-.2 2-.1 4.5-.8 41 .3 45 .6 39 5.2 0-.5-39-.9-45-1.8-41-.3-4.5-.3-2z"/><path fill="url(#b9)" d="M230.7 139l-.1 5-.2 16 0 44 1.8 0 0-44-.2-16-.1-5z"/><path fill="url(#b20)" d="M449.3 0l0 82 .1 19 1 0 .1-19 0-82z"/><path fill="url(#b25)" d="M543.1 60l-.2 2-.1 4.5-.3 28.5-.2 20-.3 10-.3 15-.1 15 .1 49 5.6 0-.6-49-.2-15-.5-15-.4-10-.5-20-.6-28.5-.2-4.5-.2-2z"/><path fill="url(#b22)" d="M535.4 146.5l-.1 3.5-.1 9.5-.2 44.5 2.2 0-.2-44.5-.1-9.5-.1-3.5z"/><path fill="url(#b6)" d="M205.4 126.5l-.2 5.5-.1 18-.1 54 2 0-.1-54-.1-18-.2-5.5z"/><path fill="url(#b48)" d="M578 75.5l-.2 5-.5 27.5-.5 22-2.1 74 5.8 0-1.2-74-.2-22-.2-27.5-.2-5z"/><path fill="url(#b5)" d="M160 106.5l-.2 5.5-.1 18-.1 74 2 0-.1-74-.1-18-.2-5.5z"/><path fill="url(#b7)" d="M235 37l-.2 5.5-1 47.5-.5 49 .1 6.5 .1 1 .1 .5 1.5 0 .1-.5 .1-1 .2-6.5 .7-49 .1-47.5-.1-5.5z"/><path fill="url(#b14)" d="M392.8 0l0 80-.2 40-.2 30-.3 54 2.6 0-.3-54-.2-30-.2-40 0-80z"/><path fill="url(#b21)" d="M456.7 0l0 150 .1 29.5 1 0 .1-29.5 0-150z"/><path fill="url(#b0)" d="M.5 108.5l-.1 1-.1 3-.1 17.5 0 74 2 0 0-74-.1-17.5-.1-3-.1-1z"/><path fill="url(#b40)" d="M547.9 80.5l-.2 2-.2 4 1.8 0-.2-4-.3-2z"/><path fill="url(#b12)" d="M303.4 0l0 130 .1 27.5 1 0 .1-27.5 0-130z"/><path fill="url(#b63)" d="M570.6 115.5l-.1 2.5-.1 8-.6 78 3 0-.6-78-.1-8-.1-2.5z"/><path fill="url(#b13)" d="M386.1 0l0 204 1.2 0 0-204z"/><path fill="url(#b18)" d="M434.3 0l-.2 160-.4 20-.3 24 3 0-.3-24-.4-20-.2-160z"/><path fill="url(#b47)" d="M554.1 104l-.2 8.5-.2 37.5-.2 54 2.4 0-.2-54-.2-37.5-.2-8.5z"/><path fill="url(#b8)" d="M237.3 104l-.1 7.5-.4 38.5 0 54 2.4 0 0-54-.4-38.5-.1-7.5z"/><path fill="url(#b10)" d="M296.2 66l-.1 8-.5 76 0 54 2.4 0 0-54-.5-76-.1-8z"/><path fill="url(#b65)" d="M583.3 75.5l-.3 39.5-.6 45-.4 44 3.6 0-.4-44-.6-45-.3-39.5z"/><path fill="url(#b26)" d="M542.1 150.5l.1 53.5 4.6 0-.5-53.5z"/><path fill="url(#b41)" d="M547.1 111.5l-.1 8.5 .3 45 .6 39 4.2 0-.5-39-.8-45-.4-8.5z"/><path fill="url(#b15)" d="M398.8 0l0 45-.3 35 0 30-.6 94 3 0-.6-94 0-30-.3-35 0-45z"/><path fill="url(#b27)" d="M543.4 70l-.2 1.5-.1 3.5 1.2 0-.1-3.5-.3-1.5z"/><path fill="url(#b3)" d="M143.2 0l-.1 80-.6 124 2.6 0-.6-124-.1-80z"/><path fill="#00d1ff" d="M392.5 197l0 7 1.8 0 0-7z"/><path fill="url(#b42)" d="M547.9 85l-.3 5-.4 23 3.1 0-1-23-.4-5z"/><path fill="url(#b16)" d="M398.3 197.5l0 6.5 2.2 0 0-6.5z"/><path fill="url(#b17)" d="M398.9 160.5l-.2 9-.1 29.5 1.6 0-.1-29.5-.2-9z"/><path fill="url(#b23)" d="M545.8 0l-.3 125 0 27 .1 6.5 1.4 0 .1-6.5 0-27-.3-125z"/><path fill="url(#b11)" d="M296 194l.1 6.5 .1 3 1.2 0 .1-3 .1-6.5z"/><path fill="url(#b28)" d="M542.9 101l-.7 39 0 12 4 0-.2-12-1.1-39z"/><path fill="url(#b29)" d="M543.4 73.5l-.2 1.5-.3 27.5 1.9 0-.6-27.5-.2-1.5z"/><path fill="url(#b19)" d="M434.3 180.5l-.1 5.5-.2 18 1.8 0-.2-18-.1-5.5z"/><path fill="url(#b64)" d="M570.7 171.5l-.2 7.5-.2 25 2 0-.2-25-.2-7.5z"/><path fill="url(#b49)" d="M575.6 187l-.5 17 5 0-.3-17z"/><path fill="url(#b50)" d="M576.2 164.5l-.6 24 4.2 0-.3-24z"/><path fill="url(#b24)" d="M546.1 141l.6 63 1.2 0-.8-63z"/><path fill="url(#b43)" d="M547.5 111.5l-.1 8.5 .3 45 .8 36.5 2.9 0-.2-36.5-.8-45-.4-8.5z"/><path fill="url(#b44)" d="M548.2 100.5l-.3 4-.2 8.5 2.2 0-.4-8.5-.5-4z"/><path fill="url(#b51)" d="M577.8 111l-.2 3-.3 8.5 1.5 0-.1-8.5-.2-3z"/><path fill="url(#b66)" d="M582.5 193.5l0 10.5 2.6 0 0-10.5z"/><path fill="url(#b45)" d="M548.3 174l.5 13.5 .2 3.5 .3 2 1.1 0 .2-2 .2-3.5 .1-13.5z"/><path fill="url(#b67)" d="M582.7 175.5l-.1 19.5 2.4 0-.1-19.5z"/><path fill="url(#b68)" d="M583.2 135.5l-.1 7 1.4 0-.1-7z"/><path fill="url(#b69)" d="M583 148l-.2 29 2 0-.2-29z"/><path fill="url(#b30)" d="M542.5 150.5l0 34.5 .2 19 3.6 0-.1-19-.4-34.5z"/><path fill="url(#b52)" d="M576.7 145.5l-.5 20.5 3.2 0-.2-20.5z"/><path fill="url(#b31)" d="M543.7 106.5l-.2 1-.1 2-.5 15.5-.2 15-.1 12 3.2 0-.3-12-.4-15-.7-15.5-.1-2-.2-1z"/><path fill="url(#b53)" d="M577.5 121l-.8 26 2.5 0-.5-26z"/><path fill="url(#b46)" d="M548.4 116l-.2 1.5-.2 2.5 .3 45 .4 10 .2 2.5 .3 1.5 .9 0 .3-1.5 .1-2.5 .1-10-.9-45-.2-2.5-.3-1.5z"/><path fill="url(#b32)" d="M543.7 123.5l-.3 1.5-.2 3 1.6 0-.2-3-.3-1.5z"/><path fill="url(#b54)" d="M575.8 195l-.3 9 4.2 0-.2-9z"/><path fill="url(#b33)" d="M543 195.5l.2 8.5 2.6 0 .1-8.5z"/><path fill="url(#b34)" d="M543.8 131.5l-.3 1-.2 3-.2 4.5-.1 8 2.3 0-.2-8-.2-4.5-.3-3-.3-1z"/><path fill="url(#b55)" d="M576 187l-.2 9.5 3.7 0-.1-9.5z"/><path fill="url(#b35)" d="M543 150.5l0 34.5 .3 12 2.4 0 0-12-.3-34.5z"/><path fill="url(#b37)" d="M543.6 195.5l.2 3.5 .2 1.5 .9 0 .3-1.5 .1-3.5z"/><path fill="url(#b36)" d="M543.3 146.5l-.1 5.5 2 0-.2-5.5z"/><path fill="url(#b56)" d="M576.6 164.5l-.5 24 3.2 0-.2-24z"/><path fill="url(#b38)" d="M543.7 152.5l-.2 2.5 .1 30 .2 2 .2 1 .8 0 .2-1 .1-2-.2-30-.3-2.5z"/><path fill="url(#b57)" d="M577.7 141.5l-.2 .5-.1 1-.3 5.5-.4 17.5 2.3 0-.2-17.5-.2-5.5-.1-1-.2-.5z"/><path fill="url(#b58)" d="M576.2 195l-.2 9 3.2 0-.1-9z"/><path fill="url(#b59)" d="M577.4 160.5l-.3 4.5-.4 12 2.1 0-.2-12-.3-4.5z"/><path fill="url(#b60)" d="M576.5 187l-.2 9.5 2.7 0-.1-9.5z"/><path fill="url(#b61)" d="M577.3 180.5l-.2 2.5-.2 5.5 1.6 0-.1-5.5-.2-2.5z"/><path fill="url(#b62)" d="M576.7 195l-.3 9 2.4 0-.2-9z"/></g>
<path d="M901.38 534.4v-6M901.38 330.1v6M976.75 534.4v-6M976.75 330.1v6M1052.12 534.4v-6M1052.12 330.1v6M1127.5 534.4v-6M1127.5 330.1v6M1202.88 534.4v-6M1202.88 330.1v6M1278.25 534.4v-6M1278.25 330.1v6M1353.62 534.4v-6M1353.62 330.1v6M826 331.9h6M1429 331.9h-6M826 348.56h6M1429 348.56h-6M826 366.97h6M1429 366.97h-6M826 387.55h6M1429 387.55h-6M826 410.88h6M1429 410.88h-6M826 437.82h6M1429 437.82h-6M826 469.68h6M1429 469.68h-6M826 488.09h6M1429 488.09h-6M826 508.68h6M1429 508.68h-6M826 532.01h6M1429 532.01h-6" fill="none" stroke="#000" stroke-opacity=".75" stroke-width="1"/>
<rect x="826" y="330.1" width="603" height="204.3" fill="none" stroke="#334" stroke-opacity=".6" stroke-width="1"/>
<rect x="1448" y="531.21" width="25.4" height="3.79" fill="#00008f" shape-rendering="crispEdges"/>
<rect x="1448" y="528.02" width="25.4" height="3.79" fill="#00009f" shape-rendering="crispEdges"/>
<rect x="1448" y="524.82" width="25.4" height="3.79" fill="#0000af" shape-rendering="crispEdges"/>
<rect x="1448" y="521.63" width="25.4" height="3.79" fill="#0000bf" shape-rendering="crispEdges"/>
<rect x="1448" y="518.44" width="25.4" height="3.79" fill="#0000cf" shape-rendering="crispEdges"/>
<rect x="1448" y="515.25" width="25.4" height="3.79" fill="#0000df" shape-rendering="crispEdges"/>
<rect x="1448" y="512.05" width="25.4" height="3.79" fill="#0000ef" shape-rendering="crispEdges"/>
<rect x="1448" y="508.86" width="25.4" height="3.79" fill="#0000ff" shape-rendering="crispEdges"/>
<rect x="1448" y="505.67" width="25.4" height="3.79" fill="#0010ff" shape-rendering="crispEdges"/>
<rect x="1448" y="502.48" width="25.4" height="3.79" fill="#0020ff" shape-rendering="crispEdges"/>
<rect x="1448" y="499.29" width="25.4" height="3.79" fill="#0030ff" shape-rendering="crispEdges"/>
<rect x="1448" y="496.09" width="25.4" height="3.79" fill="#0040ff" shape-rendering="crispEdges"/>
<rect x="1448" y="492.9" width="25.4" height="3.79" fill="#0050ff" shape-rendering="crispEdges"/>
<rect x="1448" y="489.71" width="25.4" height="3.79" fill="#0060ff" shape-rendering="crispEdges"/>
<rect x="1448" y="486.52" width="25.4" height="3.79" fill="#0070ff" shape-rendering="crispEdges"/>
<rect x="1448" y="483.33" width="25.4" height="3.79" fill="#0080ff" shape-rendering="crispEdges"/>
<rect x="1448" y="480.13" width="25.4" height="3.79" fill="#008fff" shape-rendering="crispEdges"/>
<rect x="1448" y="476.94" width="25.4" height="3.79" fill="#009fff" shape-rendering="crispEdges"/>
<rect x="1448" y="473.75" width="25.4" height="3.79" fill="#00afff" shape-rendering="crispEdges"/>
<rect x="1448" y="470.56" width="25.4" height="3.79" fill="#00bfff" shape-rendering="crispEdges"/>
<rect x="1448" y="467.36" width="25.4" height="3.79" fill="#00cfff" shape-rendering="crispEdges"/>
<rect x="1448" y="464.17" width="25.4" height="3.79" fill="#00dfff" shape-rendering="crispEdges"/>
<rect x="1448" y="460.98" width="25.4" height="3.79" fill="#00efff" shape-rendering="crispEdges"/>
<rect x="1448" y="457.79" width="25.4" height="3.79" fill="#00ffff" shape-rendering="crispEdges"/>
<rect x="1448" y="454.6" width="25.4" height="3.79" fill="#10ffef" shape-rendering="crispEdges"/>
<rect x="1448" y="451.4" width="25.4" height="3.79" fill="#20ffdf" shape-rendering="crispEdges"/>
<rect x="1448" y="448.21" width="25.4" height="3.79" fill="#30ffcf" shape-rendering="crispEdges"/>
<rect x="1448" y="445.02" width="25.4" height="3.79" fill="#40ffbf" shape-rendering="crispEdges"/>
<rect x="1448" y="441.83" width="25.4" height="3.79" fill="#50ffaf" shape-rendering="crispEdges"/>
<rect x="1448" y="438.63" width="25.4" height="3.79" fill="#60ff9f" shape-rendering="crispEdges"/>
<rect x="1448" y="435.44" width="25.4" height="3.79" fill="#70ff8f" shape-rendering="crispEdges"/>
<rect x="1448" y="432.25" width="25.4" height="3.79" fill="#80ff80" shape-rendering="crispEdges"/>
<rect x="1448" y="429.06" width="25.4" height="3.79" fill="#8fff70" shape-rendering="crispEdges"/>
<rect x="1448" y="425.87" width="25.4" height="3.79" fill="#9fff60" shape-rendering="crispEdges"/>
<rect x="1448" y="422.67" width="25.4" height="3.79" fill="#afff50" shape-rendering="crispEdges"/>
<rect x="1448" y="419.48" width="25.4" height="3.79" fill="#bfff40" shape-rendering="crispEdges"/>
<rect x="1448" y="416.29" width="25.4" height="3.79" fill="#cfff30" shape-rendering="crispEdges"/>
<rect x="1448" y="413.1" width="25.4" height="3.79" fill="#dfff20" shape-rendering="crispEdges"/>
<rect x="1448" y="409.9" width="25.4" height="3.79" fill="#efff10" shape-rendering="crispEdges"/>
<rect x="1448" y="406.71" width="25.4" height="3.79" fill="#ffff00" shape-rendering="crispEdges"/>
<rect x="1448" y="403.52" width="25.4" height="3.79" fill="#ffef00" shape-rendering="crispEdges"/>
<rect x="1448" y="400.33" width="25.4" height="3.79" fill="#ffdf00" shape-rendering="crispEdges"/>
<rect x="1448" y="397.14" width="25.4" height="3.79" fill="#ffcf00" shape-rendering="crispEdges"/>
<rect x="1448" y="393.94" width="25.4" height="3.79" fill="#ffbf00" shape-rendering="crispEdges"/>
<rect x="1448" y="390.75" width="25.4" height="3.79" fill="#ffaf00" shape-rendering="crispEdges"/>
<rect x="1448" y="387.56" width="25.4" height="3.79" fill="#ff9f00" shape-rendering="crispEdges"/>
<rect x="1448" y="384.37" width="25.4" height="3.79" fill="#ff8f00" shape-rendering="crispEdges"/>
<rect x="1448" y="381.18" width="25.4" height="3.79" fill="#ff8000" shape-rendering="crispEdges"/>
<rect x="1448" y="377.98" width="25.4" height="3.79" fill="#ff7000" shape-rendering="crispEdges"/>
<rect x="1448" y="374.79" width="25.4" height="3.79" fill="#ff6000" shape-rendering="crispEdges"/>
<rect x="1448" y="371.6" width="25.4" height="3.79" fill="#ff5000" shape-rendering="crispEdges"/>
<rect x="1448" y="368.41" width="25.4" height="3.79" fill="#ff4000" shape-rendering="crispEdges"/>
<rect x="1448" y="365.21" width="25.4" height="3.79" fill="#ff3000" shape-rendering="crispEdges"/>
<rect x="1448" y="362.02" width="25.4" height="3.79" fill="#ff2000" shape-rendering="crispEdges"/>
<rect x="1448" y="358.83" width="25.4" height="3.79" fill="#ff1000" shape-rendering="crispEdges"/>
<rect x="1448" y="355.64" width="25.4" height="3.79" fill="#ff0000" shape-rendering="crispEdges"/>
<rect x="1448" y="352.45" width="25.4" height="3.79" fill="#ef0000" shape-rendering="crispEdges"/>
<rect x="1448" y="349.25" width="25.4" height="3.79" fill="#df0000" shape-rendering="crispEdges"/>
<rect x="1448" y="346.06" width="25.4" height="3.79" fill="#cf0000" shape-rendering="crispEdges"/>
<rect x="1448" y="342.87" width="25.4" height="3.79" fill="#bf0000" shape-rendering="crispEdges"/>
<rect x="1448" y="339.68" width="25.4" height="3.79" fill="#af0000" shape-rendering="crispEdges"/>
<rect x="1448" y="336.48" width="25.4" height="3.79" fill="#9f0000" shape-rendering="crispEdges"/>
<rect x="1448" y="333.29" width="25.4" height="3.79" fill="#8f0000" shape-rendering="crispEdges"/>
<rect x="1448" y="330.1" width="25.4" height="3.79" fill="#800000" shape-rendering="crispEdges"/>
<path d="M1448 364.15h2M1473.4 364.15h-2M1448 398.2h2M1473.4 398.2h-2M1448 432.25h2M1473.4 432.25h-2M1448 466.3h2M1473.4 466.3h-2M1448 500.35h2M1473.4 500.35h-2" fill="none" stroke="#000" stroke-opacity=".7" stroke-width="1"/>
<rect x="1448" y="330.1" width="25.4" height="204.3" fill="none" stroke="#555" stroke-opacity=".7" stroke-width="1"/>
<path transform="scale(.5 1)" d="M66.5 667.1l1-.1 1 .6 1-.7 1 .3 1-.4 1 1 1-.2 1-.1 1-.2 1 0 1-.6 1 1.1 1-.3 1-.7 1 .7 1-.2 1 .4 1 .2 1 0 1-.7 1 .8 1-.9 1-.2 1 .8 1 .1 1-.6 1-.5 1 .6 1 .1 1-.1 1-1.7 1 1.2 1 1 1-.5 1 0 1 .2 1 .4 1-.7 1 .2 1-.7 1 .1 1 1.1 1-.9 1 .5 1-.4 1 .5 1-1 1 1 1-.8 1 .3 1-.1 1-.4 1 1.3 1-.5 1-.7 1 .3 1 .6 1-.1 1-.6 1 .2 1 .6 1-1.1 1 .8 1-.4 1 .6 1-.5 1-1.5 1 .2 1 2.2 1-.5 1-.2 1 .2 1 0 1-.4 1 .9 1-.3 1 .2 1-1.1 1 .2 1 .9 1-.6 1-.4 1 .7 1-.2 1 .1 1-.9 1 .6 1-.5 1 1.1 1-.2 1 .3 1 0 1-.8 1-.1 1 .6 1-.6 1-.2 1 .6 1 .4 1 .1 1-.8 1-.1 1 .2 1 .3 1 .4 1-.1 1-1.2 1 1.4 1-.7 1 .7 1-1 1 .7 1-1.1 1-.1 1 .1 1 .5 1-.1 1 .1 1 .9 1-1.1 1 .1 1 .3 1-.5 1 .4 1 .8 1-1.2 1-.2 1 1.2 1-.2 1-.8 1 1.2 1-.8 1 .4 1-.1 1-.8 1 1.3 1-.9 1-.3 1 .8 1 .3 1-.8 1-.1 1 .1 1-.3 1 .1 1-.1 1 1.2 1-1.4 1-1.5 1 1.7 1 .1 1-.1 1 .6 1 0 1-.4 1 .7 1-.3 1 .2 1-.9 1-.8 1 1.4 1-1.6 1 1.6 1 .2 1-.8 1 .5 1 .5 1 .4 1-.1 1-.9 1 0 1 .1 1 .1 1-.6 1 1.2 1 .1 1-1 1-1.2 1 .9 1 .3 1-.1 1 .3 1 .3 1-.4 1 .4 1-.3 1-.5 1 1 1-.6 1-.5 1 1.1 1-.6 1 .5 1-.6 1-.3 1 1.3 1-1.3 1 1 1 .1 1-1.1 1 .5 1 .2 1 .4 1-.1 1-.4 1 0 1 .4 1-.9 1 .7 1-.6 1 0 1 .2 1 .2 1 .5 1-.7 1-.2 1 .4 1-.3 1-.2 1 .5 1-.3 1 .5 1-.7 1-1.5 1 1.7 1 .6 1-.1 1-.9 1 1.4 1-.5 1 .1 1-.7 1-.2 1 1.3 1-.9 1-.3 1 0 1-.1 1 .9 1-1 1 1.2 1-.2 1 .4 1-.8 1 .9 1-.1 1-.5 1-.6 1 1 1-.6 1 .1 1 0 1-.3 1 .4 1 .4 1-1 1 0 1 .4 1 .4 1-.8 1 .5 1-.7 1 1.3 1-.9 1 .8 1-.2 1 .1 1-1.1 1 .9 1 0 1-.5 1 .4 1 .1 1 .1 1-.7 1 .4 1-.1 1 .3 1 .4 1-.7 1 .6 1-.7 1 .9 1-.6 1-.5 1 1 1-.4 1-.5 1 .5 1-.8 1 1.1 1-1.2 1-.1 1 .9 1-.7 1 .1 1 .4 1 .5 1-1.2 1 .6 1 .7 1-1.9 1 1.1 1 .7 1 0 1-.4 1 .4 1 .2 1-.7 1-.2 1-.2 1 .1 1-.2 1 .6 1-.5 1-.2 1 1.2 1-.2 1-.3 1 .1 1-.8 1-.1 1 .5 1-.2 1 .5 1-.7 1 .2 1 .7 1 .5 1-.3 1-.2 1 .3 1-.4 1 .3 1-1.2 1 .1 1 1.3 1-1.2 1 1.1 1 .1 1-.2 1-.1 1-1.1 1 .2 1 .3 1 .8 1-1.2 1 .7 1-.2 1 .5 1-1 1 1.1 1 .3 1-2.4 1 1.8 1-.7 1 1 1-.5 1 .5 1 .1 1-1.3 1 .8 1-.2 1 .8 1-1.4 1 .2 1 .7 1-.4 1 .1 1-.6 1 .3 1 .4 1-.3 1 .4 1-.1 1-2.6 1 2 1 .2 1 .5 1-.7 1 .3 1 .2 1-.4 1-.1 1 .3 1 .7 1 .3 1-.5 1-.4 1 1 1-.6 1-.2 1-.6 1 .9 1-.8 1-.2 1 .5 1-.2 1 .8 1-.9 1 1.2 1-.8 1 .1 1-.6 1 1 1 .3 1-.3 1-.2 1 .3 1-.8 1 .9 1-1.2 1 1.1 1 .1 1 .1 1-.6 1 .3 1 0 1 .2 1-.9 1-.2 1 .8 1-.2 1 .6 1-.6 1 .2 1 .4 1-.1 1-.5 1-.7 1 0 1 .3 1 .6 1 .5 1-1.4 1 .2 1 .8 1-.2 1-.5 1 .7 1-.7 1 .1 1-.4 1 1.4 1-.5 1 .5 1-.7 1-.8 1 1 1 .4 1-1.2 1 .3 1 .4 1-.5 1 .5 1-.7 1-.1 1 .3 1 1.1 1-.9 1 .9 1-1 1-.1 1 .6 1 .2 1 0 1-1.2 1 .5 1 .4 1-.8 1 .8 1-.4 1 .5 1-.5 1 .5 1-.9 1 1.3 1-1.2 1 .8 1-.1 1-.6 1 1.1 1-.4 1-.7 1-.3 1 .5 1-.1 1 .7 1-.2 1 0 1 .2 1-.8 1 1.1 1-.4 1 .2 1-.6 1 .1 1 .3 1-.6 1 .7 1-.3 1 .4 1-1.1 1 .8 1 .5 1-1.4 1 .9 1-.3 1-.3 1 .4 1 .4 1 .3 1-.6 1 .3 1-1.1 1 .9 1-.6 1 .8 1 .1 1-.4 1 .7 1-.8 1 .6 1 0 1-1 1-.2 1 .5 1 .7 1-.7 1-.5 1 .8 1 .2 1-.8 1 .8 1 .4 1-.8 1 .6 1-1.1 1 .1 1 .6 1 .6 1-1.2 1-.1 1 .5 1 .9 1-1.4 1 1 1-.3 1-.1 1 0 1 .5 1-.7 1 .2 1 0 1 .3 1-.7 1 0 1 .4 1 .5 1 .3 1 0 1-.4 1-.6 1 .4 1-.4 1-.3 1 .9 1-.7 1-.1 1 1 1-.5 1 .6 1-1.3 1 .3 1 .3 1 .1 1-.4 1 .6 1-.7 1 .3 1 .1 1 .2 1-.1 1 .7 1-.7 1-.3 1 .7 1 .1 1-1.1 1 1 1-.5 1 .6 1-1 1 1.3 1-3 1 2.8 1-1.9 1 1 1-.6 1 1.7 1-.6 1-.6 1 .6 1 .2 1-.8 1 1.2 1-.3 1 0 1-1.5 1 1.9 1-.6 1 .6 1 0 1-.6 1-.4 1 0 1 .7 1-.5 1 .3 1 .5 1-1.1 1 .5 1-.3 1 .8 1-1.6 1 1.7 1 .1 1-2.3 1 1.6 1-.6 1 1 1-.8 1 .8 1-.5 1 .8 1-1 1-.3 1 .9 1 .3 1-.9 1 .1 1 .1 1 .2 1 .4 1 .1 1-.9 1-.3 1 .8 1-.6 1 .1 1 .8 1-.8 1 .5 1-.5 1-.1 1-.9 1 1 1-.3 1 1.3 1-.4 1 .1 1-.1 1-.2 1-.4 1 1 1-.3 1 0 1-.1 1 0 1-.6 1 .7 1-.7 1 0 1-.1 1 .4 1-.2 1 0 1-.4 1 .6 1-.5 1 .9 1-.4 1 .2 1-.1 1 0 1-1 1 .5 1 .2 1 0 1 .4 1 0 1 .2 1-.7 1 .1 1 .9 1 0 1-.2 1-.3 1 .1 1-.5 1 .4 1 .6 1-.7 1-.7 1 .6 1 .7 1-1.7 1 1.8 1-1 1 .1 1 .3 1 .5 1-.4 1 .2 1-1.1 1 .8 1 .6 1-1.1 1 1.1 1-1 1 .5 1-.4 1 .3 1 0 1-.2 1-.1 1 0 1-.2 1 .5 1-.8 1 .3 1-.1 1 .5 1 .7 1-1.1 1 .6 1 .4 1-1.2 1 1.1 1-1.1 1 1.1 1 0 1-.6 1 .6 1-1 1 .5 1 .5 1-.1 1 0 1-.7 1 .7 1 0 1-1.1 1-.2 1 .4 1 1 1-.9 1-.2 1 .1 1 .2 1 .6 1-1 1 1.3 1-.2 1 .3 1-.3 1-.8 1 1 1-1.1 1 .6 1-.3 1 .4 1-.5 1 .5 1-.2 1-.4 1-.2 1 .8 1 .2 1-.8 1 .6 1 .1 1-.9 1 1.2 1-1.2 1 .9 1-1.3 1 .8 1-.3 1 .4 1 .8 1-.5 1-.1 1 .5 1-.8 1-.1 1-.3 1 .6 1 .2 1-.6 1 .4 1 .2 1-.1 1-.3 1 .4 1-.2 1 0 1 .2 1 .3 1-.1 1 0 1-1 1 1 1-.2 1-.7 1 1.1 1-.1 1-.7 1 .1 1-.3 1-.1 1 .4 1-.4 1 .6 1-.4 1 .8 1-.7 1 .1 1-.6 1 1.1 1 .1 1-.6 1-.5 1 0 1 0 1 .6 1-.1 1 0 1 .6 1-.3 1-.7 1 1.1 1-.8 1-.1 1-1.4 1 1 1 1 1-.1 1 .3 1-.5 1-.2 1 .8 1-.8 1-.5 1 .2 1-.1 1 1 1-.9 1 .9 1-.8 1 .7 1 .2 1-.8 1 .8 1-1 1 .3 1 .8 1-.4 1-.7 1 1 1-.1 1-.5 1 .8 1-.4 1-.4 1 0 1 .8 1-1.3 1 .7 1-.5 1-.2 1 .6 1-.5 1-.1 1 .6 1 .1 1 .3 1-.6 1-.4 1 1.3 1-.6 1-.1 1-.6 1 .1 1 .9 1-.8 1 .7 1-.3 1-.6 1 .8 1 .4 1 0 1-.7 1 .3 1 .4 1-1.2 1 .6 1 .2 1-.5 1 .4 1-.4 1-.1 1 .8 1 0 1 .1 1 0 1-2.7 1 1.8 1 0 1 .7 1-.3 1 .7 1-.3 1 .1 1-1.1 1 .1 1 1.1 1-.5 1-.5 1-.9 1 1 1 .2 1 .2 1-.6 1 0 1 .3 1 .5 1 .1 1 .2 1-1.1 1 .9 1 .3 1 0 1-1 1 .5 1-.1 1 .2 1-.7 1 .3 1 .4 1-.6 1 0 1-.3 1 .8 1-.9 1 .5 1 .9 1-.2 1-.1 1-.4 1-.1 1-2 1 2.6 1 .1 1-.9 1 .2 1 .3 1-.4 1-.1 1 .9 1-.6 1 .3 1-.5 1 .2 1 .5 1-.2 1 .4 1-.3 1-.3 1 .1 1 .2 1-.4 1 .7 1-1.2 1 1 1 .1 1-.2 1-.5 1 .7 1-.8 1 .1 1-.2 1 .5 1-.7 1 .9 1-.8 1 .5 1-.4 1 .8 1-.2 1-.2 1-.7 1 .4 1-.4 1 0 1 .8 1 .3 1-.3 1 .2 1-.5 1-.3 1-.2 1 1 1-.8 1 .7 1-.9 1 0 1 .6 1 .1 1-.7 1 .6 1-.3 1-1 1 1.1 1 .7 1 0 1 0 1-.9 1 .4 1 .1 1 .4 1-1.1 1 .2 1 1.1 1-.2 1-1 1 .6 1-.3 1 .9 1-.8 1 .6 1-.9 1-.2 1 .8 1-.8 1 1.1 1-.9 1 .5 1-.2 1-.3 1 0 1-.1 1 .2 1 0 1-.3 1 .9 1-1.3 1 1.2 1-.2 1 .2 1-1.8 1 2 1-.1 1-.1 1 .5 1-.3 1 .1 1-.4 1 .3 1-1 1 .8 1 .4 1-1 1 .1 1 .8 1-.7 1 .6 1-.9 1 .4 1-.3 1 .4 1 .7 1-.9 1 0 1 .8 1-.3 1 .3 1-1.1 1 .7 1-.5 1 .5 1-.6 1 1 1-.4 1 .5 1-.5 1-.3 1 .4 1-.7 1-.2 1 1.3 1-.8 1-.2 1 .2 1-.4 1 .4 1 .5 1 .1 1-.2 1 .4 1-.4 1-.7 1-.1 1 .2 1 0 1-.1 1 .5 1 .2 1-.7 1 .3 1-.4 1 1.2 1-.7 1 .6 1-.7 1 .3 1 .3 1 .1 1-.1 1-.6 1 0 1 0 1-.2 1 .9 1-.6 1 .1 1-.2 1-.1 1 .2 1-.5 1-.1 1 1.3 1-.1 1 .1 1-.4 1 .1 1-.4 1 .2 1 .5 1-.8 1-.1 1-.2 1 .9 1-.9 1 1.1 1-.9 1 .6 1-1.1 1 1.2 1-.5 1-.4 1 .2 1 .3 1 .4 1 0 1-1.1 1 .3 1-.2 1 1 1-.2 1 .1 1-.6 1 .5 1-.8 1 .3 1 .3 1 .4 1-.5 1 .5 1-1 1 1.2 1-.8 1 .6 1 0 1-.3 1 .1 1 .1 1-.3 1-.3 1-.3 1 .6 1-.6 1 .1 1 .6 1-.6 1 .7 1-.8 1 .9 1-1.6 1 1.8 1-1.1 1 0 1 .6 1-.3 0 6.3-1-.1-1-.4-1 .6-1-.3-1 .8-1-.2-1 .4-1-.8-1 .9-1-.2-1-.8-1 .5-1 .2-1 .1-1-1-1 .5-1-.5-1 1.1-1-1.1-1 2.1-1-2-1-.1-1 .7-1 .5-1-.5-1 .3-1-.1-1-.2-1-.1-1-.1-1 .2-1-.8-1 1-1-1-1 .2-1 .7-1-.9-1 .2-1 1-1 0-1-.7-1 .7-1-.7-1 .4-1 .2-1-.1-1 .1-1-.7-1 1.5-1-1.1-1-.8-1 .9-1-.6-1 .2-1 .1-1 .5-1-.8-1 .2-1-.5-1-.1-1 1.2-1-.7-1 0-1 .3-1-.4-1 .3-1 .5-1-.6-1 2.1-1-2.3-1 .5-1 0-1 .4-1-.8-1-.3-1 .8-1-.4-1 .1-1 .5-1-.8-1 0-1 .5-1-.7-1 1.1-1-1-1 1.1-1-.8-1-.4-1 .6-1-.3-1 .7-1 0-1-.1-1-.2-1-.7-1 .9-1-1.1-1 1-1 .2-1-.1-1-.5-1 .4-1 0-1 0-1-.2-1-.4-1 1.7-1 0-1-.9-1-.4-1-.1-1-.3-1 .7-1-.9-1 1.9-1-.7-1-1.1-1 .8-1 .2-1 .1-1-1.1-1 .4-1-.2-1 0-1 .6-1 0-1-.4-1 .3-1-.7-1-.2-1 .9-1-.7-1 .5-1 .2-1-.1-1 .4-1-.5-1-.4-1 .5-1 .4-1-.7-1 .5-1 .2-1 1.3-1-2.3-1 1.8-1-.7-1-1.3-1 0-1 .3-1-.1-1-.2-1 1.2-1-.2-1-.5-1 .7-1-1.2-1 .8-1 .2-1-.2-1 .5-1 .3-1-1.1-1 .5-1-.7-1 2.6-1-2-1-.3-1-.5-1 .6-1-.7-1 1.2-1-1.2-1 .5-1-.1-1 .9-1-.5-1 .4-1 0-1-1.2-1 .7-1-.7-1 .8-1 .2-1-.7-1 .3-1-.3-1 0-1 .3-1-.4-1 .1-1-.3-1 .4-1 .3-1-.4-1 .8-1-.2-1 .1-1-.3-1-.1-1 0-1-.2-1 .1-1 .5-1-1-1 .6-1 .5-1-1.1-1 1.3-1-.6-1 .2-1-.7-1 .2-1-.2-1 .3-1-.5-1 1.1-1-1-1 .4-1 .8-1-.6-1 .6-1-.2-1-1-1 .7-1 .9-1-1.6-1 .4-1 .6-1-.5-1-.6-1 1.2-1 0-1-.4-1-.7-1 .7-1-.6-1 1.1-1-.6-1-.7-1 1.2-1-.8-1 .2-1-.1-1 .2-1-.4-1 .1-1 .8-1 0-1-.4-1-.7-1 .8-1 .4-1-.6-1-.3-1 .8-1-.7-1 .2-1 .3-1-.8-1 .7-1 .1-1-.8-1 .1-1 .5-1 .4-1-.1-1-.5-1 .1-1-.7-1 .2-1 .8-1 0-1-.4-1-.6-1 .3-1 .5-1-.8-1 1.3-1-.1-1-1.2-1 .6-1 .2-1 .5-1-.7-1-.4-1-.1-1 .7-1-.7-1 1.2-1 .8-1-2-1-.1-1 .2-1 0-1 .1-1 .4-1 .2-1-.6-1 .1-1 .7-1-.2-1-.2-1 .4-1-.5-1-.2-1 .4-1 0-1 .3-1-.4-1-.7-1 .2-1-.1-1 .4-1-.1-1 .6-1-1-1 .3-1 .8-1-.8-1 .4-1 .3-1-.9-1 .4-1-.5-1 .4-1 .7-1-.6-1 .3-1 .3-1-.2-1 .4-1-.5-1-.6-1 .2-1 .2-1 .1-1-.6-1 0-1 0-1 0-1 .3-1-.4-1 .2-1 .3-1-.3-1 .3-1 .4-1-.6-1 .5-1 0-1-.8-1 .9-1-.5-1 .5-1 .1-1 0-1-.3-1-.3-1 .8-1-.9-1 2.1-1-2.1-1 .4-1-.6-1 .7-1 .1-1 0-1-.7-1 1-1-.5-1 0-1-.5-1-.1-1 1-1 .2-1-1-1 .9-1-.7-1-.4-1 .4-1-.2-1 .7-1 .1-1-.1-1-.1-1-.8-1 1.1-1 0-1 .1-1-.9-1 2.2-1-2-1 .8-1-.1-1 0-1-.3-1-.7-1-.3-1 .6-1 .7-1-.2-1-.6-1 .5-1-.1-1 .2-1 0-1-.5-1 .8-1-1.3-1 .7-1-.8-1 .2-1 .7-1 .2-1-1-1 1.2-1-.8-1 .7-1-.5-1 .3-1-.9-1 .9-1-.9-1 .2-1 .9-1-1.1-1 1.1-1 0-1-.8-1 .4-1 .1-1 .4-1-1.3-1 .1-1 .2-1-.1-1 .1-1 1-1-1-1 .1-1-.3-1 .4-1 .4-1-.2-1 0-1 .2-1 0-1-.6-1 .4-1-.4-1-.2-1 .8-1 .4-1-.7-1 .8-1-.2-1-.7-1 .1-1 .2-1 .2-1-.3-1-.6-1 .2-1-.2-1 .6-1-.4-1 .3-1-.2-1 .7-1-.8-1-.2-1 .5-1 .7-1-.2-1 1-1-1.6-1 .1-1-.4-1 .7-1 .4-1-.1-1 .1-1-.2-1-.8-1 .9-1-1.1-1-.1-1 .8-1 .1-1 0-1-.6-1 .7-1 .2-1 .1-1 .1-1-1.1-1 .1-1 1.3-1-.5-1-.6-1 .6-1-.6-1 .8-1-.8-1 .5-1 0-1-.4-1 .4-1 .2-1 0-1-.7-1-.1-1-.4-1 .7-1-.8-1 .4-1-.3-1 .3-1-.4-1 .5-1 .3-1 .2-1-.1-1 0-1 .3-1-.9-1-.2-1 .4-1-.4-1 .6-1 .7-1-.6-1 .7-1-.3-1-.4-1-.6-1 1.8-1-.7-1-.4-1-.2-1-.4-1 .1-1 .4-1-.7-1 1.3-1-.2-1-.5-1-.1-1 .2-1 .4-1-.6-1 .1-1 .5-1 .2-1-.1-1-.7-1 0-1-.3-1 .5-1-.1-1 .3-1-.1-1-.9-1 .7-1 .1-1 .5-1-.5-1 .1-1 0-1 .6-1-1.2-1 .7-1 .1-1 0-1 .1-1-1-1 .4-1 .8-1-1.3-1 0-1 1.2-1 .4-1-.6-1-1-1 1.3-1-.3-1 .2-1 .1-1-1.2-1 0-1 1.1-1-.2-1 .1-1-.7-1-.4-1 0-1 1.2-1-.6-1 1.3-1-.8-1 0-1-.4-1 .5-1-.9-1 .1-1 1-1 .1-1-1-1-.3-1 1-1-.6-1 .3-1-.4-1 1-1-.5-1-.5-1 .7-1-.4-1 .5-1-.2-1-.4-1 .8-1-.4-1 0-1 .5-1-.6-1-.3-1 0-1 .6-1 .2-1-.5-1 1.3-1-2.1-1 .1-1 0-1 1-1-.4-1 .4-1 .1-1-1.1-1 0-1 .8-1-.3-1 .5-1 .3-1-1-1 .8-1-.9-1 1.1-1-.4-1-.2-1-.6-1 .4-1-.4-1 1.2-1-.3-1-.2-1-.5-1 .8-1 .4-1-1.3-1 1-1-.2-1 .2-1 0-1 .1-1-.5-1-.5-1 .3-1 .1-1-.5-1 0-1-.1-1 1.4-1 1.3-1-2-1 .7-1 0-1-1.4-1 .2-1 .6-1-.3-1 .8-1-.9-1 1-1-1.4-1 .1-1 1-1-.3-1-.6-1 0-1 .5-1-.2-1-.5-1 1.4-1-1.3-1 .7-1 .4-1-.5-1-.2-1 .8-1-.2-1 .3-1-1-1 .6-1 .3-1-.6-1 .1-1 0-1 .2-1 .1-1-1-1 .6-1-.3-1 .3-1 .1-1 .3-1-.7-1-.4-1 1.2-1-.6-1 .5-1-.5-1 .7-1-.2-1-.4-1 .4-1-.7-1 .7-1-.7-1 .8-1 .3-1-1.1-1 .7-1 0-1-.2-1-.7-1 .5-1 .1-1-.5-1-.1-1 1.2-1-1.3-1 .1-1 .8-1-.7-1 1.1-1-1.4-1 1.4-1-1.2-1 0-1 .7-1-.8-1 1.6-1-.3-1-.5-1-.5-1 .1-1-.1-1 1.6-1-1.7-1 1.1-1-.1-1 1.1-1-1.8-1 1.2-1-1-1 .3-1 .3-1-1-1 .8-1-.2-1 .3-1-1.2-1 1-1-.7-1 .5-1 .4-1-.2-1-.4-1 .7-1-1-1-.1-1-.2-1 1.1-1-.7-1 0-1 .6-1-.1-1 1.6-1-2.3-1 .3-1 .7-1-1.1-1 1.1-1 1.1-1-1.4-1-.5-1 .2-1-.1-1 .6-1-1.1-1 0-1 1.2-1 .1-1-.9-1 1-1-.5-1-.6-1 .4-1 0-1 .3-1-.6-1 .1-1 .2-1-.7-1-.1-1 1.5-1-.5-1 .3-1-.2-1-.9-1 .2-1 .2-1-.5-1 .9-1-.1-1 .2-1-.1-1-1-1 .7-1 .1-1 0-1-.6-1 1.2-1-.9-1-.3-1-.1-1 1.3-1 .1-1-.2-1 .1-1-.6-1 .4-1-.5-1-.6-1 1.1-1-.1-1-.4-1-.6-1 .3-1 .5-1 .5-1-1.2-1 .4-1-.3-1-.1-1 .1-1 1.1-1-1-1 2-1-1.5-1 .6-1-1-1-.3-1 .7-1-.2-1-.1-1 .4-1-.4-1-.1-1 1-1 1.4-1-2.1-1 .7-1-.9-1-.5-1 .2-1 2.9-1-1.8-1-.1-1-.5-1 .3-1-1-1 1.3-1-.3-1-.7-1-.2-1 .4-1 .6-1-.4-1 .5-1-.8-1 .1-1 .3-1-.1-1-.3-1-.3-1 1-1-.9-1 .6-1 0-1-.6-1 .1-1-.4-1 1.4-1-.4-1-.6-1 .5-1 .3-1-.2-1-.2-1 .4-1 .3-1-1-1 1-1-1.2-1 .5-1 .3-1-.2-1 1.9-1-1.8-1-.4-1 .5-1-1-1 .1-1 .2-1 2.2-1-2.5-1 .7-1-.5-1 .5-1 .7-1-.8-1 0-1-.2-1-.4-1 .1-1 1.6-1-.7-1 0-1-.5-1-.4-1 .4-1 .7-1-.1-1-1.1-1 .3-1-.3-1 .5-1 .4-1 .2-1 1.7-1-2.4-1 .6-1-.6-1 0-1 1-1-.4-1-.4-1 .3-1-.7-1 .2-1-.4-1 1.4-1-.7-1-.1-1-.7-1 .2-1 .1-1-.3-1 .7-1 0-1-.1-1 .8-1 .1-1-1.3-1 1.2-1 0-1-.3-1 1.7-1-2.6-1 .6-1 1.6-1-1.1-1-.6-1-.5-1 .6-1 1.8-1-2.4-1 .3-1 .6-1-.6-1 0-1-.4-1 .2-1-.2-1 .2-1 .4-1 .4-1 .4-1-.3-1 1.3-1-2.3-1 .6-1 .5-1 .2-1-1-1 .8-1-.5-1-.5-1 .9-1-.8-1 .3-1 .5-1-1.1-1 .4-1-.4-1 2.8-1-1-1-1.8-1 .8-1-.8-1 .9-1-.4-1 .9-1-.4-1 .4-1-.2-1-.8-1 .9-1-.5-1 .6-1-.3-1 .6-1-1.1-1-.2-1-.1-1 1-1 .1-1-1.4-1 1.1-1-1.1-1 .9-1-.8-1 .8-1 .3-1 .1-1-.6-1 .6-1 .1-1-.9-1-.5-1 .3-1-.3-1 .5-1 0-1 .6-1 .1-1-.3-1 1-1-1.1-1-.3-1-.5-1 1.3-1-.5-1-.5-1 1.1-1-.6-1-.7-1 1.1-1-.6-1 .8-1-.4-1-.5-1 .4-1-.5-1 .9-1-.4-1-.7-1 .6-1 .4-1 .3-1-1.2-1 0-1 1.1-1-.6-1-.2-1 .6-1-.5-1 0-1 .3-1-.8-1 2.9-1-1.6-1-1.2-1 .8-1-.4-1 .7-1-.7-1-.2-1-.5-1 .4-1 1-1-1-1 1-1-1.4-1 .8-1 .2-1-.4-1-.7-1 .9-1 0-1 .1-1-.3-1 .3-1-.5-1 .8-1-.2-1-.7-1 .3-1-.6-1 .8-1-.2-1 .6-1 0-1-.7-1-.1-1-.5-1 .2-1 .5-1 .8-1-.2-1-.6-1 .7-1-1-1-.3-1 .1-1 .3-1 0-1-.2-1-.2-1 1.1-1-.7-1 1-1-.9-1 .7-1 0-1-.6-1 .3-1-.8-1 1-1-1-1-.1-1 .2-1 .1-1 .2-1 .6-1-1-1 .4-1 .2-1-.4-1 .3-1-.3-1 .9-1-.9-1 .1-1-.1-1 1.1-1-.3-1 .2-1-1.1-1 .2-1 0-1-.3-1 .5-1-.1-1 .3-1 .4-1 0-1-.2-1-.2-1-.5-1 .5-1 1.1-1-1.5-1 0-1 .5-1-.4-1 .4-1 .6-1-1.4-1 0-1 .9-1-1-1 0-1 .3-1 .4-1 .5-1-1-1-.1-1 1.1-1-.9z" fill="#0000ff" fill-opacity=".5"/><path transform="scale(.5 1)" d="M66.5 668.2l1 .1 1 .3 1-.5 1 .6 1 .3 1 0 1-.1 1-.4 1 .4 1-.1 1 0 1-.4 1 .1 1 .2 1 .3 1 0 1-.8 1 .6 1 .1 1-.3 1-.3 1 .6 1-.4 1-.2 1 .1 1 0 1-.2 1 0 1 .7 1 0 1-.2 1-.5 1 .6 1-.1 1-.2 1 .3 1 .1 1-.3 1-.4 1 .5 1-.6 1 .1 1 .8 1-.4 1-.1 1 0 1 .2 1-.2 1 .3 1-.3 1 .1 1 0 1-.2 1-.2 1 0 1 .5 1-.1 1-.5 1 .1 1 .7 1-.3 1 0 1-.2 1-.1 1 .6 1-.7 1 .5 1-.1 1-.2 1 .1 1-.3 1 .2 1 .6 1-.3 1 .2 1-.2 1-.1 1-.1 1 .2 1-.5 1 0 1 .5 1-.5 1 0 1 .5 1-.5 1 0 1 .8 1-.8 1 .4 1-.3 1 .5 1-.2 1-.2 1 .4 1 0 1-.6 1 .6 1 0 1 .1 1 .1 1-.2 1-.1 1 .2 1-.5 1-.2 1 .3 1 .5 1-.2 1-.4 1 .4 1 .1 1-.3 1 0 1 0 1-.1 1-.2 1 .4 1 0 1-.2 1 .1 1 0 1 .1 1 .2 1 0 1 .1 1-.3 1 0 1-.4 1 .3 1-.4 1 .6 1-.5 1 .7 1-.2 1-.6 1 .2 1-.1 1 .1 1 .4 1-.4 1 .4 1-.3 1-.2 1 0 1 .3 1-.3 1 .1 1 .3 1 0 1-.4 1 .6 1-.1 1 .1 1 0 1 .1 1-.5 1 .2 1 0 1-.3 1 .6 1-.3 1-.3 1 .5 1 .1 1-.4 1 0 1 .1 1-.5 1 .3 1-.1 1 0 1 .6 1-.3 1 .2 1 0 1 .1 1-.3 1 .3 1-.3 1-.1 1-.1 1 .5 1-.6 1 .6 1-.4 1 .3 1 .1 1-.3 1 .3 1-.2 1-.5 1 .6 1-.3 1-.4 1 .7 1-.2 1-.5 1 .4 1 .3 1 .1 1-.6 1 .2 1 0 1 0 1 .4 1-.5 1 .1 1-.4 1 .4 1-.3 1 .1 1 .3 1-.4 1 .3 1-.3 1 .7 1-.4 1 .4 1-.8 1 .2 1 .1 1 .5 1-.3 1-.2 1 .3 1 .2 1 0 1-.3 1-.2 1 .3 1-.2 1 .2 1-.5 1 .2 1 0 1 .4 1-.3 1 0 1-.2 1 0 1 .6 1-.4 1 .2 1 .2 1 0 1 0 1-.4 1-.2 1 .5 1 .1 1-.2 1-.4 1 0 1 .4 1 .1 1-.3 1 0 1-.1 1-.1 1 .2 1-.3 1 .7 1-.7 1 .4 1 0 1 .2 1-.2 1 .3 1-.4 1 .3 1-.7 1 0 1 .8 1-.8 1 .5 1-.3 1-.2 1 .2 1 .5 1 0 1 .1 1-.3 1 0 1-.5 1 .5 1 .3 1-.1 1 .1 1-.2 1-.3 1-.2 1 0 1 .6 1-.6 1 0 1 .5 1-.3 1 .1 1-.3 1 .6 1 0 1-.4 1 .4 1-.4 1 .5 1-.4 1-.4 1 .9 1-.6 1-.1 1 .4 1-.1 1-.3 1 .6 1-.8 1 .3 1-.2 1 .7 1-.4 1-.3 1 .3 1 .4 1-.2 1-.1 1 .2 1 .1 1-.1 1-.3 1 .1 1-.1 1-.1 1 .1 1-.3 1-.1 1 .1 1 .5 1 0 1 .1 1-.5 1-.2 1 .6 1-.1 1 .1 1-.6 1 .8 1-.7 1 .5 1 .2 1-.3 1 .2 1-.3 1-.2 1 .6 1-.3 1 .2 1-.4 1-.1 1 .4 1 .1 1-.2 1-.3 1 .5 1-.4 1 .3 1-.1 1-.3 1 .2 1-.2 1 .5 1-.4 1-.1 1 .3 1 .2 1-.3 1-.1 1-.1 1 .5 1-.4 1-.2 1 .1 1-.1 1 .6 1-.5 1 .6 1-.6 1-.2 1 .3 1 .5 1-.1 1-.2 1 .3 1-.4 1 .2 1-.2 1-.2 1-.1 1 0 1-.1 1 .5 1-.2 1 0 1 .5 1-.1 1-.1 1-.1 1 .2 1-.5 1 .4 1 .3 1-.4 1 .1 1-.4 1 .5 1-.3 1-.4 1 .7 1 0 1 .1 1-.2 1 .1 1 .1 1-.3 1-.4 1 .6 1 .1 1-.4 1-.2 1-.1 1 .5 1-.2 1 .1 1 .3 1-.6 1-.1 1 .7 1-.6 1 .5 1-.4 1-.1 1-.1 1 .4 1 .4 1-.9 1 .6 1-.2 1 .3 1-.3 1 .1 1-.3 1 .1 1 0 1 .3 1 .1 1-.4 1-.1 1 .2 1-.2 1 .2 1-.1 1 0 1 .1 1 .1 1 .2 1-.1 1-.5 1 .6 1 0 1-.7 1 .1 1 0 1 .1 1 .5 1-.3 1 .3 1-.6 1 .1 1 .6 1 0 1 .1 1-.7 1 .2 1-.1 1 0 1-.1 1 .1 1-.2 1 .5 1 .2 1-.1 1 0 1-.7 1 .6 1 0 1-.2 1 .5 1-.6 1-.1 1 .1 1 .6 1-.1 1 .1 1-.2 1 .2 1-.1 1-.4 1 .2 1-.3 1-.2 1 .2 1 .5 1-.6 1 .5 1-.3 1-.1 1 .5 1-.5 1 .5 1-.6 1 .6 1 0 1-.1 1-.4 1-.1 1-.1 1 .6 1 0 1-.3 1 .2 1-.1 1 .1 1 .2 1-.6 1-.1 1 .1 1-.1 1 .7 1-.4 1 .4 1-.6 1 .6 1-.3 1-.3 1 .4 1 0 1 .1 1-.5 1 .1 1-.1 1 .3 1 .2 1 .2 1-.6 1 .2 1 .5 1-.3 1-.5 1 .5 1-.3 1-.2 1 .7 1-.7 1 .5 1-.5 1 .4 1-.3 1 .7 1-.8 1 0 1 .6 1-.1 1-.5 1 .8 1-.5 1 0 1 .4 1-.1 1-.2 1 .4 1-.5 1-.1 1 .1 1-.1 1 .2 1-.3 1 .1 1 .2 1 .2 1-.1 1 .3 1 0 1-.2 1 .1 1-.3 1 .3 1 .2 1-.2 1 0 1-.5 1 .1 1 .2 1-.3 1 .3 1 .1 1-.4 1 .5 1-.1 1 .3 1-.2 1-.3 1 .2 1-.3 1 .2 1 .5 1-.4 1 .2 1 .1 1-.4 1 .3 1 .2 1-.7 1 .2 1 .2 1 .1 1-.4 1 .3 1 0 1 .1 1 0 1 .1 1-.2 1-.3 1 0 1 .1 1 .4 1 0 1-.1 1 .2 1-.6 1 .4 1-.5 1 .7 1-.3 1-.3 1 .3 1 .2 1-.2 1-.1 1-.2 1 .1 1 .2 1-.4 1 .3 1 .3 1-.3 1 .3 1-.1 1-.1 1-.4 1 .2 1 .1 1 .1 1-.4 1 .2 1 .2 1 .1 1-.1 1 0 1 .2 1 .1 1-.5 1 .2 1 .2 1-.3 1-.3 1 .7 1-.1 1-.5 1 .3 1-.2 1-.1 1 .2 1-.3 1 .3 1 0 1 .1 1-.3 1 .1 1-.1 1 .3 1 .3 1-.3 1-.2 1 .5 1-.6 1 0 1 .2 1-.1 1 .2 1-.2 1 .3 1-.3 1 .2 1 .3 1-.2 1 0 1-.1 1-.3 1 .5 1-.1 1 .2 1-.1 1 .1 1-.7 1 .2 1 .4 1-.5 1 .6 1-.3 1 .2 1-.5 1 .4 1-.3 1 0 1-.1 1 .1 1-.1 1 .4 1 .2 1-.3 1-.2 1 .2 1 .3 1-.1 1-.3 1 .3 1-.4 1 .1 1 .4 1-.2 1 0 1 .1 1-.2 1 .1 1 .1 1-.4 1 .3 1-.3 1 .4 1-.5 1 .5 1-.1 1-.1 1-.3 1 .6 1-.1 1 0 1-.1 1 0 1-.4 1 0 1 .4 1 .1 1 .1 1 0 1-.3 1 .3 1-.5 1 .3 1-.1 1-.2 1 .4 1-.2 1-.3 1 .5 1 .1 1-.5 1 .2 1-.1 1 0 1 0 1 0 1-.2 1 .4 1-.1 1-.2 1-.1 1 0 1 .5 1-.1 1-.4 1 .6 1-.1 1 .1 1-.5 1 .5 1-.7 1 .2 1 .4 1-.4 1 0 1 0 1 .1 1 .3 1-.3 1-.2 1 .5 1-.3 1 .3 1-.1 1 .1 1-.2 1-.3 1 .6 1-.6 1 .2 1 .2 1-.5 1 .2 1 .1 1 .3 1-.5 1-.1 1 .5 1 .1 1-.5 1 0 1 .1 1 .4 1-.3 1-.1 1 .5 1-.7 1 .1 1 .5 1-.4 1 .1 1 0 1 .2 1-.2 1 .1 1 .1 1-.1 1-.2 1 .4 1-.2 1-.3 1 .2 1-.2 1 .6 1-.1 1-.3 1 .3 1-.2 1 0 1 0 1-.3 1 .5 1-.4 1 .3 1 0 1 .2 1-.5 1 .3 1-.4 1 .1 1 .3 1 .1 1-.2 1-.3 1 .6 1 0 1-.5 1 .5 1-.6 1 .3 1-.1 1 .1 1-.4 1 .5 1 .1 1-.4 1 .4 1-.3 1 0 1 .4 1 0 1-.5 1 .2 1 .2 1-.5 1 .3 1-.3 1 .4 1-.3 1 .4 1 .1 1-.3 1 .3 1-.6 1 .5 1-.1 1-.5 1 .7 1 0 1-.5 1 .2 1 0 1-.1 1-.2 1 .2 1 .2 1-.3 1 .5 1-.6 1 .5 1 0 1-.4 1-.1 1 .7 1-.3 1 .1 1-.1 1 .1 1-.2 1-.4 1 .3 1-.2 1 .2 1 .4 1-.5 1 .5 1-.2 1 .2 1-.5 1-.1 1 .5 1-.1 1 .1 1-.1 1 .2 1-.4 1 .3 1-.4 1 .2 1 .2 1-.1 1 .2 1-.4 1 .3 1-.2 1-.2 1 .5 1-.4 1 .2 1-.1 1-.3 1 .7 1-.3 1-.1 1-.1 1 .2 1-.3 1 .1 1 .3 1-.4 1 .1 1 .1 1 .2 1-.1 1 0 1 .2 1-.2 1-.3 1 .1 1 .3 1-.5 1 .4 1-.1 1 .1 1 0 1-.2 1 0 1 .2 1-.4 1 .4 1-.1 1 .1 1 .1 1-.5 1 .4 1-.2 1 .2 1 .3 1-.5 1 0 1-.1 1 .2 1-.2 1 .3 1 .2 1 0 1-.1 1-.1 1-.2 1 .3 1-.1 1-.1 1-.1 1-.2 1 .5 1-.4 1-.1 1 .7 1-.5 1 .3 1 .2 1-.2 1 0 1 0 1 .1 1-.6 1 .5 1-.3 1 .3 1-.2 1 .3 1-.2 1-.3 1 .2 1 .3 1-.6 1 .5 1-.3 1 .2 1 .2 1-.5 1 .1 1 0 1 .4 1-.1 1-.1 1 .2 1 0 1-.2 1-.2 1 0 1 .5 1-.1 1-.1 1-.4 1 .3 1 0 1-.1 1 .2 1-.3 1 .4 1 0 1-.6 1 .6 1 .1 1-.7 1 0 1 .2 1 .1 1-.3 1 .1 1 .4 1-.5 1 .6 1 0 1-.1 1-.5 1 .2 1 .4 1 0 1 .1 1-.5 1 0 1 0 1 .5 1-.3 1 .2 1-.4 1 .1 1 .3 1 0 1-.3 1 .2 1-.3 1 .2 1 .1 1 .1 1 .1 1-.1 1-.3 1 .2 1-.1 1 0 1-.1 1 .1 1-.1 1 .3 1-.3 1-.3 1 .2 1-.2 1 0 1 .2 1 .1 1-.2 1 .4 1 .1 1-.2 1 0 1-.1 1-.3 1 .5 1-.3 1-.1 1 .2 1 .1 1 .2 1-.4 1 .5 1-.7 1 .6 1 .1 1-.5 1 .2 1 .1 1-.3 1-.1 1 .1 1-.1 1 .4 1-.4 1 .3 1-.2 1 .5 1-.3 1-.1 1 .2 1-.1 1-.1 1 .2 1-.1 1-.4 1 .5 1-.3 1 .2 1 0 1-.2 1 .3 1-.2 1-.2 1 0 1 .1 1 .4 1-.3 1 .2 1-.4 1 .6 1-.1 1 .1 1-.2 1-.3 1 .4 1-.4 1 .1 1-.2 1 0 1 .4 1-.4 1 .2 1 .2 1 .1 1-.4 1-.1 1 .3 1-.3 1 .6 1-.5 1 .1 1 .1 1 .3 1-.5 1 .3 1-.2 1 .2 1-.4 1 .1 1 0 1 .3 1-.4 1 0 1 0 1 .6 1-.1 1-.3 1-.3 1 .5 1 .1 1 0 0 3.9-1 0-1-.2-1-.3-1 .2-1 .1-1-.3-1 .2-1-.2-1 .3-1 .3-1-.3-1-.3-1 .5-1-.4-1 .4-1-.5-1 .2-1 .2-1 .2-1-.1-1 0-1-.1-1-.4-1 .3-1-.3-1 .4-1-.1-1 .3-1-.5-1 .4-1 0-1-.5-1 .4-1 0-1 .2-1-.6-1 0-1 0-1 .5-1 0-1-.1-1-.5-1 .4-1-.2-1 .3-1 .1-1-.2-1 .1-1-.1-1 0-1-.3-1 .3-1 0-1-.4-1 .4-1-.2-1 .1-1 0-1-.2-1 .4-1 0-1 0-1-.5-1 .1-1 0-1 0-1 .1-1 0-1 .1-1 .1-1 .2-1 0-1-.3-1 .3-1-.5-1 .2-1 .2-1-.5-1 .3-1 0-1 .4-1-.2-1-.4-1 .1-1 .3-1 0-1-.4-1 .1-1 0-1 .3-1-.1-1 .3-1-.4-1 0-1 .4-1-.6-1 0-1 .1-1-.1-1 .6-1-.6-1 0-1 .6-1-.5-1 0-1 .1-1 .1-1-.4-1 .6-1-.2-1 0-1 .1-1-.4-1 .2-1 .3-1-.3-1 .1-1-.2-1-.1-1 .4-1-.3-1 .4-1-.2-1 .2-1 0-1-.1-1 0-1 .2-1-.7-1 .6-1-.4-1 .3-1-.2-1 .3-1-.4-1 .1-1 .1-1 .3-1-.6-1 .1-1 .4-1-.4-1-.1-1 .5-1-.2-1 0-1-.1-1 .4-1 0-1-.1-1 0-1-.5-1 0-1 0-1 .2-1 .1-1 0-1-.3-1 .3-1 .1-1 .2-1-.7-1 .3-1-.2-1 .4-1 .2-1 0-1-.3-1 .2-1 0-1-.5-1 .4-1-.4-1 .3-1 .1-1-.1-1 .1-1 .1-1-.4-1 .5-1-.4-1 .4-1-.1-1-.3-1-.1-1 .4-1-.3-1 0-1 .4-1-.4-1 .4-1-.4-1 .3-1 0-1-.4-1 .3-1 .2-1-.2-1-.3-1 .2-1 .2-1 0-1-.5-1 .3-1 0-1-.3-1 .6-1-.5-1 .3-1-.4-1 .2-1-.1-1 .5-1-.1-1-.5-1 .1-1 .2-1-.2-1 .5-1 0-1-.3-1 0-1 .3-1-.4-1-.2-1 .3-1-.4-1 .3-1-.1-1 .2-1 .3-1-.1-1-.1-1-.3-1 0-1 .1-1 .3-1-.2-1 0-1-.3-1 .3-1-.1-1 .3-1 .1-1-.6-1 .4-1-.2-1-.1-1 .5-1-.2-1-.1-1-.3-1 .6-1-.2-1-.4-1 .6-1-.1-1 0-1-.4-1 .5-1-.5-1 0-1-.1-1 .5-1-.2-1-.1-1 .1-1-.2-1 .1-1 .2-1-.4-1 .2-1 .1-1 .3-1-.6-1 .6-1 0-1-.2-1-.2-1-.2-1 .5-1-.3-1-.2-1 0-1 .2-1 .3-1 .1-1-.3-1 .2-1-.5-1 .1-1 0-1 .5-1 0-1 0-1-.4-1 .2-1 0-1 .2-1-.6-1 .2-1-.1-1-.1-1 .4-1-.2-1-.1-1 .2-1-.3-1 .3-1 .2-1 .1-1-.2-1-.3-1 .5-1 0-1 0-1-.1-1-.4-1 .3-1 .2-1-.6-1 .3-1 .3-1-.4-1-.1-1-.2-1 .2-1 .5-1-.3-1 .3-1-.4-1 .4-1-.5-1 .3-1-.2-1 .3-1-.5-1 .1-1 .2-1 .3-1 0-1-.3-1-.3-1 .4-1 .2-1-.6-1 .4-1-.2-1 .3-1-.3-1 .4-1-.6-1 .6-1-.2-1-.4-1 .6-1-.1-1-.2-1 0-1-.2-1-.1-1 .5-1 .1-1-.5-1 .4-1-.4-1 .5-1-.1-1 .2-1-.6-1-.1-1 .4-1-.1-1 .3-1-.2-1 .1-1-.5-1 .7-1-.3-1-.2-1 .4-1-.1-1-.2-1 .1-1-.4-1 .1-1 .2-1 0-1-.2-1 .1-1 0-1-.2-1 .3-1-.1-1 .1-1-.1-1 .2-1 0-1 .1-1-.5-1 .2-1-.1-1 .1-1 .3-1-.3-1 .4-1-.2-1-.4-1 .4-1-.4-1 .3-1 .2-1 .1-1-.1-1 0-1-.2-1 .3-1-.4-1 .3-1 0-1-.5-1 .1-1 .1-1-.1-1 .4-1-.5-1 .2-1-.1-1 .5-1-.4-1 .4-1-.6-1 .4-1 .1-1-.3-1-.2-1 0-1 .4-1-.3-1 .1-1 0-1 .4-1-.4-1 .3-1-.1-1 .3-1-.5-1-.1-1 .4-1 .1-1-.1-1 .1-1-.1-1-.4-1 .4-1-.2-1-.1-1 .1-1-.2-1 .1-1-.2-1 .5-1 .1-1-.5-1 .5-1-.1-1-.4-1 .4-1 0-1-.3-1 .3-1 0-1 .1-1-.6-1 .3-1-.1-1 .4-1 .1-1-.2-1-.3-1-.2-1 .1-1 .1-1-.2-1 .1-1 .4-1-.1-1 0-1 .2-1 .1-1-.7-1 .3-1 .2-1-.4-1-.1-1 0-1 .1-1 .6-1-.6-1 0-1 .4-1 .1-1-.1-1 .1-1-.3-1-.3-1 0-1 .1-1 .2-1-.1-1 0-1 .1-1 .2-1 0-1-.1-1 .1-1-.4-1 .3-1 .1-1-.1-1-.1-1 0-1 .2-1-.4-1 .1-1 .4-1-.2-1 .2-1-.5-1 .5-1-.2-1 0-1-.4-1 .5-1 0-1-.1-1-.4-1 .1-1 .6-1-.2-1 .1-1-.4-1 .3-1-.3-1-.2-1 .1-1 .3-1 .3-1-.4-1 .1-1-.1-1 0-1-.1-1 .4-1-.6-1 .6-1-.4-1 0-1 .4-1-.5-1 .2-1 .1-1 .2-1 .1-1-.2-1 .1-1-.2-1 0-1 0-1-.2-1 .5-1-.3-1 .2-1-.2-1 0-1-.2-1 0-1 .1-1-.3-1 .4-1 .3-1-.2-1-.2-1 0-1-.2-1 .2-1 0-1 .3-1-.3-1-.1-1-.1-1 .5-1-.3-1 .3-1 0-1 .2-1-.6-1 0-1 .2-1-.1-1 .3-1-.4-1 .1-1 .4-1-.2-1-.4-1 .6-1-.6-1 .6-1-.6-1 .7-1-.1-1-.5-1 .3-1-.2-1 .5-1-.4-1 .2-1-.1-1 0-1-.2-1 .4-1 .1-1 0-1-.4-1 .5-1-.5-1 0-1 .5-1-.7-1 .5-1 .1-1-.2-1 .1-1 0-1 0-1 .1-1-.5-1 .1-1 .2-1 .4-1-.6-1 .5-1-.6-1 .7-1-.2-1 0-1-.3-1-.2-1 .4-1 .1-1-.1-1 .3-1-.6-1 .1-1 .2-1 .2-1-.5-1 .6-1-.1-1-.4-1 .3-1 .2-1-.3-1-.4-1 .2-1 .4-1 .1-1-.5-1 .1-1-.2-1 .7-1-.7-1 .4-1 .3-1-.1-1 0-1 .2-1-.8-1 .3-1-.2-1 .3-1-.1-1 .3-1-.3-1 .1-1 .1-1-.4-1 .5-1 .1-1-.3-1 .3-1-.1-1-.5-1 .5-1 .1-1 .1-1-.4-1-.1-1-.1-1 .1-1-.1-1-.1-1 .7-1-.8-1 .6-1-.5-1 .6-1 0-1-.1-1-.1-1-.1-1-.3-1 0-1 .2-1 .3-1 0-1-.1-1 .2-1-.2-1 .2-1-.4-1 .3-1 0-1-.5-1 .5-1 0-1-.7-1 .2-1-.2-1 .6-1-.3-1 .2-1 0-1 .3-1-.1-1 0-1-.2-1 0-1 0-1 0-1-.1-1 0-1 .5-1-.3-1 0-1 .2-1-.3-1-.1-1 .4-1-.7-1 .2-1-.2-1 0-1 .5-1-.2-1-.4-1 .7-1-.3-1-.1-1 .2-1 .1-1-.6-1 .4-1 .3-1-.2-1-.4-1 .8-1-.1-1-.4-1-.2-1 .3-1-.3-1 .5-1-.3-1 .4-1-.2-1 .3-1-.2-1 0-1-.6-1 .4-1 .3-1-.5-1-.1-1 .1-1-.3-1 .6-1-.1-1 .2-1 0-1 0-1-.6-1 .5-1-.4-1-.2-1 .7-1-.5-1 .5-1-.4-1 .6-1-.4-1-.3-1 .1-1 0-1-.1-1 0-1 .5-1-.1-1 0-1-.2-1 .5-1-.3-1 0-1-.2-1-.2-1 .7-1-.2-1-.5-1 .1-1 .3-1-.1-1-.4-1 0-1 .4-1 .4-1-.5-1 .2-1-.2-1 .1-1 .1-1 .3-1-.5-1 .2-1 .1-1-.2-1-.2-1-.2-1 .4-1 .4-1-.5-1 .4-1 .1-1 0-1-.4-1 .2-1-.3-1 .2-1 .1-1 .2-1-.7-1 .6-1-.7-1 .3-1 .3-1-.2-1-.4-1 .2-1 .2-1 .2-1-.3-1-.2-1-.1-1 .3-1 0-1 .2-1-.1-1 .2-1-.1-1 .1-1-.1-1-.4-1 .2-1 .2-1-.3-1-.2-1 .6-1-.5-1 .3-1 .4-1-.2-1 .2-1-.1-1-.5-1-.2-1 .7-1-.2-1-.1-1 0-1-.5-1 .2-1 .6-1-.4-1-.3-1 .2-1 .5-1-.3-1-.5-1 .7-1 .1-1-.4-1-.2-1 .6-1-.5-1 0-1-.2-1 0-1 .5-1-.5-1 .5-1-.5-1 0-1 .6-1-.5-1 .2-1-.3-1 .5-1-.1-1 .2-1-.1-1-.5-1 .8-1-.8-1 .7-1 0-1 .1-1-.1-1-.3-1-.3-1 0-1 .7-1 0-1-.2-1-.1-1-.4-1 0-1 0-1 .6-1 0-1-.3-1 .2-1-.4-1-.1-1-.1-1 .8-1-.2-1-.1-1-.5-1 .1-1 0-1 .7-1-.5-1 .4-1-.7-1 .6-1-.4-1 .3-1 .1-1-.6-1 .1-1 .1-1-.3-1 .4-1 .4-1-.3-1 .2-1-.1-1 .1-1 0-1 .1-1-.5-1 .5-1-.3-1 .3-1-.4-1 .4-1 0-1-.6-1 .2-1 0-1 .1-1-.3-1 .1-1-.2-1 .6-1 .1-1-.1-1 .2-1-.6-1 .3-1-.5-1 .5-1-.1-1-.2-1-.1-1 .6-1 0-1-.4-1 .5-1 0-1-.6-1 .4-1 .2-1-.6-1 .4-1-.3-1 .3-1-.1-1 .3-1-.7-1 .6-1-.5-1 .1-1 .1-1-.3-1-.1-1 0-1 .8-1-.8-1 .6-1 .2-1-.6-1-.1-1 .4-1 0-1-.1-1 .3-1-.2-1 0-1-.3-1 .4-1 0-1 .1-1-.7-1 .8-1-.6-1 .4-1-.1-1-.4-1 .3-1 .4-1-.8-1 .6-1 0-1 .2-1-.5-1 .5-1-.1-1 .1-1-.7-1 .1-1 .3-1 0-1 .3-1 0-1-.3-1 .2-1-.2-1 0-1 .2-1-.7-1 .2-1 .1-1-.1-1 0-1-.2-1 .7-1-.3-1-.2-1-.2-1 .4-1 .3-1-.5-1 .1-1-.1-1 .1-1 .4-1-.3-1 .3-1-.1-1-.4-1 .4-1-.5-1 .5-1-.1-1 .1-1-.3-1 .2-1-.1-1 .2-1 0-1-.4-1-.2-1 .3-1-.3-1 .3-1 .1-1 .2-1-.1-1-.1-1 .3-1-.5-1 .2-1 .4-1-.5-1-.1-1 .4-1-.6-1 .7-1 0-1-.5-1 .3-1-.4-1 .7-1-.2-1 .1-1 .1-1-.4-1 .1-1 .2-1-.7-1 .3-1 .4-1-.1-1-.5-1 .1-1 .4-1-.1-1 .1-1 0-1-.4-1 .5-1 .1-1-.1-1-.1-1-.4-1 .4-1 .2-1-.2-1-.1-1-.2-1 .3-1-.3-1-.3-1 .7-1-.7-1 .6-1-.2-1-.2-1 .1-1 .3-1-.4-1 .2-1 .4-1-.3-1-.2-1 .2-1 .2-1 .1-1 0-1-.5-1-.2-1 .3-1-.1-1-.2-1 .5-1 .1-1-.3-1 0-1-.4-1 .2-1 .1-1 .4-1-.5-1 .1-1 .4-1-.2-1 .1-1-.6-1 .6-1 .1-1-.3-1 .2-1 0-1-.1-1-.2-1 .2-1 .2-1-.4-1-.1-1 .3-1 0-1 .2-1-.2-1 .3-1-.1-1-.4-1 .4-1-.2-1 .3-1 0-1-.1-1 0-1-.1z" fill="#0000ff"/><path d="M271.8 666.7V674.4M272.2 663.6V675.1M272.5 667.4V673.1M272.8 662.6V678.2M273 666.8V674.7M273.2 660.7V677M273.5 665.9V674M273.8 663V676M274 667.1V673.6M274.2 665.1V676.8M274.5 668.1V673.9M274.8 668.1V673.6M274.2 667.7V675.1M274.8 667.3V677.9M275 669.2V674.5M275.2 663.8V677.7M275.5 667.4V674.4M275.8 667.9V675.5M366.2 668.1V674.2M366.8 667.3V675.8M367.2 666.5V674M367.8 666.4V676.8M368 668.7V674M368.2 667.5V674.1M368.8 668.2V673.4M576.8 667.4V673.9M577.2 667.3V675.5M577.8 667.3V675M578.2 666.5V678.8M578.5 668.8V675M578.8 665.9V677M579 668.5V674.1M579.2 666.2V677.1M579.5 668.7V674.1M579.8 667.9V673.6M578.8 668.3V673.4M579.2 667.3V676.2M579.5 669.2V673.7M579.8 665.4V675.8M580 668.3V673.5M580.2 665.4V676.2M580.5 668.2V673.6M580.8 665.7V680M581 668.4V675.5M581.2 664.9V679.5M581.5 668V675.3M581.8 666.3V677.2M582 668.7V674.1M582.2 668.5V674.1M584.8 668.1V672.5M585.2 666.8V676.3M585.5 668.9V673.7M585.8 662.2V679.6M586 666.6V675.3M586.2 659.7V683.6M586.5 665.4V677.3M586.8 660V687.4M587 665.6V679.2M587.2 661.8V685.7M587.5 666.5V678.4M587.8 661.4V680.4M588 666.3V675.8M588.2 661.8V677.2M588.5 666.4V674.1M588.8 666.1V675.6M589.2 668.3V673.5M588.2 667.6V674M588.8 665.4V676.6M589 668.3V673.8M589.2 658.4V683M589.5 664.7V677M589.8 658.2V685.6M590 664.7V678.3M590.2 655.9V679.3M590.5 663.5V675.2M590.8 661.3V677.1M591 666.2V674.1M591.2 666.5V675.1M590.8 668.6V673M591.2 667.4V676M591.8 665V678.6M592 668.1V674.9M592.2 662.9V682.5M592.5 667V676.8M592.8 658.2V681M593 664.6V676M593.2 658.8V688.9M593.5 664.9V680M593.8 653.9V689M594 662.5V680M594.2 649.6V691.3M594.5 660.4V681.2M594.8 662.6V687.4M595 666.8V679.3M595.2 659.4V684M595.5 665.3V677.5M595.8 661.9V677.9M596 666.5V674.5M596.2 666.5V674.6M595.8 669V674.2M596.2 665V676.9M596.5 668.1V674M596.8 662.7V676.1M597 666.9V673.6M597.2 664.3V679.9M597.5 667.7V675.5M597.8 660.2V686.9M598 665.7V679M598.2 656.6V685.6M598.5 663.8V678.4M598.8 661.3V680.9M599 666.2V676M599.2 662.4V677.8M599.5 666.8V674.4M599.8 667.2V676.4M600 669.1V673.7M600.2 668V674.3M600.8 668.5V673.3M600.2 667.6V674.6M600.8 666.5V676.5M601 668.8V673.8M601.2 665.2V677.3M601.5 668.2V674.2M601.8 664V677M602 667.5V674.1M602.2 667.6V675.1M602.8 665.4V674.1M603 668.3V672.6M603.2 668.5V673.7M603.8 668.8V674M613.2 668.4V673.6M613.8 667.7V673.2M614.2 665.9V675.3M614.5 668.5V673.2M614.8 667V674.1M615.2 668.1V674.7M615.8 667.5V675.5M616.2 668.7V674.1M616.8 668.5V674.1M620.2 667.4V675M620.8 663.3V678.2M621 667.2V674.7M621.2 661.6V676.9M621.5 666.3V674M621.8 660.3V680.8M622 665.7V675.9M622.2 657.2V681.4M622.5 664.1V676.2M622.8 658.7V681.4M623 664.9V676.2M623.2 662.4V681M623.5 666.8V676.1M623.8 663.4V679M624 667.2V675M624.2 666V674.5M624.5 668.6V672.8M624.8 667.6V673.7M626.8 665.6V676.7M627 668.3V673.9M627.2 664V676M627.5 667.6V673.6M627.8 661.7V681.1M628 666.4V676.1M628.2 663.1V679.8M628.5 667.1V675.5M628.8 666.2V675.5" fill="none" stroke="#0000ff" stroke-width="0.6" stroke-opacity=".9"/><path d="M179.4 662.9V692.3M196.2 663.4V680.2M224.7 667V689.4M239.6 667V681.5M255.2 663.4V677.8M280.5 666V680.2M335 662.2V681.5M342.7 665V691.1M388.5 657.4V692.3M413.5 662.9V721.7M426.3 665.8V689.4M433.3 659.3V698.8M439.8 667V677.1M463.6 665.8V689.4M466.8 667V685.8M475.9 662.9V681M491.6 659V790.6M498.8 664.1V690.6M517.6 638.1V675.4M589.6 632.1V705.1M622.2 656.6V685.5M627.7 662.2V680.2" fill="none" stroke="#0000ff" stroke-width="0.8" stroke-opacity=".62"/>
<path d="M33 613.7H635.5V818H33ZM108.31 818v-6M108.31 613.7v6M183.62 818v-6M183.62 613.7v6M258.94 818v-6M258.94 613.7v6M334.25 818v-6M334.25 613.7v6M409.56 818v-6M409.56 613.7v6M484.88 818v-6M484.88 613.7v6M560.19 818v-6M560.19 613.7v6M33 642.89h6M635.5 642.89h-6M33 672.07h6M635.5 672.07h-6M33 701.26h6M635.5 701.26h-6M33 730.44h6M635.5 730.44h-6M33 759.63h6M635.5 759.63h-6M33 788.81h6M635.5 788.81h-6" fill="none" stroke="#8c8c8c" stroke-width="1"/>
<rect x="826" y="613.7" width="603" height="204.3" fill="#00008f"/>
<defs><linearGradient id="c0" x2="0" y2="1"><stop offset="0" stop-color="#0023fd"/><stop offset="0.304" stop-color="#0040ff"/><stop offset="0.426" stop-color="#009cff"/><stop offset="0.578" stop-color="#06e3f9"/><stop offset="0.699" stop-color="#00baff"/><stop offset="0.918" stop-color="#0001f9"/><stop offset="1" stop-color="#0000a5"/></linearGradient><linearGradient id="c1" x2="0" y2="1"><stop offset="0" stop-color="#0000a5"/><stop offset="0.137" stop-color="#0001f7"/><stop offset="0.198" stop-color="#0022fa"/><stop offset="0.452" stop-color="#0074fe"/><stop offset="0.756" stop-color="#00c3ff"/><stop offset="0.761" stop-color="#00a3f7"/><stop offset="0.792" stop-color="#0092f6"/><stop offset="1" stop-color="#0076f4"/></linearGradient><linearGradient id="c2" x2="0" y2="1"><stop offset="0" stop-color="#00f7ff"/><stop offset="1" stop-color="#07fff8"/></linearGradient><linearGradient id="c3" x2="0" y2="1"><stop offset="0" stop-color="#0000e1"/><stop offset="0.738" stop-color="#0000f1"/><stop offset="1" stop-color="#0000a2"/></linearGradient><linearGradient id="c4" x2="0" y2="1"><stop offset="0" stop-color="#0000a5"/><stop offset="0.084" stop-color="#0005f8"/><stop offset="0.13" stop-color="#0030fb"/><stop offset="0.325" stop-color="#005afe"/><stop offset="0.519" stop-color="#0030fb"/><stop offset="0.779" stop-color="#0021f9"/><stop offset="1" stop-color="#0049fa"/></linearGradient><linearGradient id="c5" x2="0" y2="1"><stop offset="0" stop-color="#0000a2"/><stop offset="0.393" stop-color="#0000ef"/><stop offset="1" stop-color="#0000ef"/></linearGradient><linearGradient id="c6" x2="0" y2="1"><stop offset="0" stop-color="#0000a2"/><stop offset="0.273" stop-color="#0000ef"/><stop offset="0.343" stop-color="#0000f6"/><stop offset="1" stop-color="#003dfb"/></linearGradient><linearGradient id="c7" x2="0" y2="1"><stop offset="0" stop-color="#0000a6"/><stop offset="0.088" stop-color="#0000f9"/><stop offset="0.298" stop-color="#00b2ff"/><stop offset="0.328" stop-color="#00d3ff"/><stop offset="0.424" stop-color="#60dd9f"/><stop offset="0.592" stop-color="#b2e04d"/><stop offset="0.761" stop-color="#7bde84"/><stop offset="0.887" stop-color="#05cdfa"/><stop offset="0.971" stop-color="#0002f4"/><stop offset="1" stop-color="#0000a6"/></linearGradient><linearGradient id="c8" x2="0" y2="1"><stop offset="0" stop-color="#0000a5"/><stop offset="0.045" stop-color="#0000f4"/><stop offset="0.052" stop-color="#0007f8"/><stop offset="0.174" stop-color="#00caff"/><stop offset="1" stop-color="#00caff"/></linearGradient><linearGradient id="c9" x2="0" y2="1"><stop offset="0" stop-color="#0000a9"/><stop offset="0.065" stop-color="#0000f6"/><stop offset="0.229" stop-color="#00adff"/><stop offset="1" stop-color="#00c3ff"/></linearGradient><linearGradient id="c10" x2="0" y2="1"><stop offset="0" stop-color="#0000a4"/><stop offset="0.099" stop-color="#0002f9"/><stop offset="0.14" stop-color="#0023fd"/><stop offset="0.678" stop-color="#003efc"/><stop offset="1" stop-color="#0082ff"/></linearGradient><linearGradient id="c11" x2="0" y2="1"><stop offset="0" stop-color="#007dff"/><stop offset="0.49" stop-color="#00abff"/><stop offset="1" stop-color="#008dff"/></linearGradient><linearGradient id="c12" x2="0" y2="1"><stop offset="0" stop-color="#0000a5"/><stop offset="0.255" stop-color="#0002f6"/><stop offset="0.408" stop-color="#002ffa"/><stop offset="1" stop-color="#0057fa"/></linearGradient><linearGradient id="c13" x2="0" y2="1"><stop offset="0" stop-color="#008dff"/><stop offset="0.245" stop-color="#00baff"/><stop offset="0.297" stop-color="#00e1ff"/><stop offset="0.49" stop-color="#80e37f"/><stop offset="0.735" stop-color="#b2e04d"/><stop offset="0.799" stop-color="#b4dd4b"/><stop offset="0.833" stop-color="#b4db4b"/><stop offset="0.836" stop-color="#36a1bf"/><stop offset="0.936" stop-color="#309cc4"/><stop offset="0.939" stop-color="#1381df"/><stop offset="1" stop-color="#127fdf"/></linearGradient><linearGradient id="c14" x2="0" y2="1"><stop offset="0" stop-color="#a5ff5a"/><stop offset="0.037" stop-color="#a5ff5a"/><stop offset="0.074" stop-color="#f1ff0e"/><stop offset="1" stop-color="#f1fa0e"/></linearGradient><linearGradient id="c15" x2="0" y2="1"><stop offset="0" stop-color="#eeff11"/><stop offset="1" stop-color="#f9ff06"/></linearGradient><linearGradient id="c16" x2="0" y2="1"><stop offset="0" stop-color="#92ee6d"/><stop offset="0.294" stop-color="#68eb97"/><stop offset="0.882" stop-color="#3adfc5"/><stop offset="1" stop-color="#05cdfa"/></linearGradient><linearGradient id="c17" x2="0" y2="1"><stop offset="0" stop-color="#0023fd"/><stop offset="0.627" stop-color="#0000f9"/><stop offset="1" stop-color="#0000b2"/></linearGradient><linearGradient id="c18" x2="0" y2="1"><stop offset="0" stop-color="#00baff"/><stop offset="0.154" stop-color="#00e1ff"/><stop offset="0.588" stop-color="#48e0b7"/><stop offset="0.838" stop-color="#2edbd1"/><stop offset="0.841" stop-color="#10a9e6"/><stop offset="0.877" stop-color="#18bae0"/><stop offset="0.88" stop-color="#1abedf"/><stop offset="0.882" stop-color="#29dad6"/><stop offset="1" stop-color="#05cdfa"/></linearGradient><linearGradient id="c19" x2="0" y2="1"><stop offset="0" stop-color="#40ffbf"/><stop offset="1" stop-color="#3cffc3"/></linearGradient><linearGradient id="c20" x2="0" y2="1"><stop offset="0" stop-color="#0007fa"/><stop offset="0.49" stop-color="#0023fd"/><stop offset="1" stop-color="#004fff"/></linearGradient><linearGradient id="c21" x2="0" y2="1"><stop offset="0" stop-color="#0000a4"/><stop offset="0.099" stop-color="#0002f9"/><stop offset="0.14" stop-color="#0023fd"/><stop offset="0.681" stop-color="#0040ff"/><stop offset="1" stop-color="#0074fe"/></linearGradient><linearGradient id="c22" x2="0" y2="1"><stop offset="0" stop-color="#d4d52a"/><stop offset="0.147" stop-color="#d4a12a"/><stop offset="0.637" stop-color="#d4942a"/><stop offset="0.814" stop-color="#d4c32b"/><stop offset="0.87" stop-color="#cacf35"/><stop offset="0.873" stop-color="#65b992"/><stop offset="0.902" stop-color="#83c376"/><stop offset="0.904" stop-color="#8bc66f"/><stop offset="0.907" stop-color="#c2d83d"/><stop offset="0.922" stop-color="#bddb42"/><stop offset="0.924" stop-color="#329ec3"/><stop offset="0.956" stop-color="#36a1be"/><stop offset="0.958" stop-color="#1584de"/><stop offset="0.988" stop-color="#1685de"/><stop offset="0.99" stop-color="#91d56e"/><stop offset="1" stop-color="#8ad474"/></linearGradient><linearGradient id="c23" x2="0" y2="1"><stop offset="0" stop-color="#a6ff59"/><stop offset="0.062" stop-color="#a6ff59"/><stop offset="0.125" stop-color="#e0ff1f"/><stop offset="1" stop-color="#ceff31"/></linearGradient><linearGradient id="c24" x2="0" y2="1"><stop offset="0" stop-color="#fafe05"/><stop offset="1" stop-color="#e6ff19"/></linearGradient><linearGradient id="c25" x2="0" y2="1"><stop offset="0" stop-color="#ffe400"/><stop offset="1" stop-color="#fff500"/></linearGradient><linearGradient id="c26" x2="0" y2="1"><stop offset="0" stop-color="#008dff"/><stop offset="0.588" stop-color="#007dff"/><stop offset="0.882" stop-color="#0023fd"/><stop offset="0.939" stop-color="#0001f9"/><stop offset="1" stop-color="#0000d1"/></linearGradient><linearGradient id="c27" x2="0" y2="1"><stop offset="0" stop-color="#0000a4"/><stop offset="0.159" stop-color="#0000f9"/><stop offset="0.232" stop-color="#0023fd"/><stop offset="0.528" stop-color="#0068ff"/><stop offset="0.675" stop-color="#00c3ff"/><stop offset="0.679" stop-color="#008bf5"/><stop offset="0.686" stop-color="#007bf4"/><stop offset="0.712" stop-color="#0066f1"/><stop offset="0.771" stop-color="#0055ed"/><stop offset="0.775" stop-color="#0032e9"/><stop offset="0.827" stop-color="#0030e7"/><stop offset="0.83" stop-color="#0017e1"/><stop offset="0.886" stop-color="#0015e1"/><stop offset="0.889" stop-color="#0004d6"/><stop offset="1" stop-color="#0004d6"/></linearGradient><linearGradient id="c28" x2="0" y2="1"><stop offset="0" stop-color="#004cff"/><stop offset="0.031" stop-color="#004cff"/><stop offset="0.062" stop-color="#07adf8"/><stop offset="0.969" stop-color="#06abf9"/><stop offset="1" stop-color="#a6e259"/></linearGradient><linearGradient id="c29" x2="0" y2="1"><stop offset="0" stop-color="#0091ff"/><stop offset="0.053" stop-color="#0091ff"/><stop offset="0.105" stop-color="#2ae3d5"/><stop offset="0.895" stop-color="#24dddb"/><stop offset="0.947" stop-color="#0acef5"/><stop offset="1" stop-color="#09cef6"/></linearGradient><linearGradient id="c30" x2="0" y2="1"><stop offset="0" stop-color="#00d6ff"/><stop offset="0.056" stop-color="#00d6ff"/><stop offset="0.111" stop-color="#57fea8"/><stop offset="0.278" stop-color="#61fe9e"/><stop offset="0.333" stop-color="#49f9b6"/><stop offset="0.389" stop-color="#43f8bc"/><stop offset="1" stop-color="#34f5cb"/></linearGradient><linearGradient id="c31" x2="0" y2="1"><stop offset="0" stop-color="#00fbff"/><stop offset="1" stop-color="#64ff9b"/></linearGradient><linearGradient id="c32" x2="0" y2="1"><stop offset="0" stop-color="#5fffa0"/><stop offset="0.031" stop-color="#5fffa0"/><stop offset="0.062" stop-color="#8aff75"/><stop offset="0.281" stop-color="#88ff77"/><stop offset="0.312" stop-color="#d4ff2b"/><stop offset="0.562" stop-color="#d9fc26"/><stop offset="0.594" stop-color="#ccfe33"/><stop offset="0.656" stop-color="#c6fe39"/><stop offset="0.969" stop-color="#bbff44"/><stop offset="1" stop-color="#def421"/></linearGradient><linearGradient id="c33" x2="0" y2="1"><stop offset="0" stop-color="#83ff7c"/><stop offset="0.929" stop-color="#d6ff29"/><stop offset="0.964" stop-color="#a5ff5a"/><stop offset="1" stop-color="#a5ff5a"/></linearGradient><linearGradient id="c34" x2="0" y2="1"><stop offset="0" stop-color="#e0ff1f"/><stop offset="1" stop-color="#f3ff0c"/></linearGradient><linearGradient id="c35" x2="0" y2="1"><stop offset="0" stop-color="#fff600"/><stop offset="1" stop-color="#ffe900"/></linearGradient><linearGradient id="c36" x2="0" y2="1"><stop offset="0" stop-color="#0000a2"/><stop offset="0.185" stop-color="#0000f9"/><stop offset="0.585" stop-color="#0040ff"/><stop offset="1" stop-color="#004dff"/></linearGradient><linearGradient id="c37" x2="0" y2="1"><stop offset="0" stop-color="#0000a3"/><stop offset="0.156" stop-color="#0000f9"/><stop offset="0.17" stop-color="#0007fa"/><stop offset="0.314" stop-color="#005afe"/><stop offset="0.401" stop-color="#00b2ff"/><stop offset="0.409" stop-color="#00d4ff"/><stop offset="0.418" stop-color="#18dde7"/><stop offset="0.458" stop-color="#a9e556"/><stop offset="0.501" stop-color="#cbe434"/><stop offset="0.573" stop-color="#d2b12d"/><stop offset="1" stop-color="#cbae34"/></linearGradient><linearGradient id="c38" x2="0" y2="1"><stop offset="0" stop-color="#68eb97"/><stop offset="0.149" stop-color="#bcf143"/><stop offset="0.171" stop-color="#d1f32e"/><stop offset="0.186" stop-color="#d4e82b"/><stop offset="0.297" stop-color="#d4872a"/><stop offset="0.758" stop-color="#d45f2a"/><stop offset="0.929" stop-color="#d63629"/><stop offset="0.948" stop-color="#d4e22a"/><stop offset="0.952" stop-color="#c2f13d"/><stop offset="0.97" stop-color="#0be3f4"/><stop offset="0.974" stop-color="#00c7ff"/><stop offset="0.993" stop-color="#0004fa"/><stop offset="1" stop-color="#0000ab"/></linearGradient><linearGradient id="c39" x2="0" y2="1"><stop offset="0" stop-color="#009cff"/><stop offset="0.36" stop-color="#00caff"/><stop offset="0.919" stop-color="#00d3ff"/><stop offset="0.977" stop-color="#0002f8"/><stop offset="1" stop-color="#0000a5"/></linearGradient><linearGradient id="c40" x2="0" y2="1"><stop offset="0" stop-color="#0000a3"/><stop offset="0.199" stop-color="#0000d9"/><stop offset="0.211" stop-color="#0000cd"/><stop offset="0.241" stop-color="#0000c8"/><stop offset="0.416" stop-color="#0000c5"/><stop offset="0.88" stop-color="#0000c2"/><stop offset="0.928" stop-color="#0000c6"/><stop offset="0.946" stop-color="#0000d2"/><stop offset="1" stop-color="#0000a6"/></linearGradient><linearGradient id="c41" x2="0" y2="1"><stop offset="0" stop-color="#0000e6"/><stop offset="0.066" stop-color="#0000f4"/><stop offset="0.213" stop-color="#0000fb"/><stop offset="0.918" stop-color="#001dfe"/><stop offset="0.967" stop-color="#0001fb"/><stop offset="1" stop-color="#0000e8"/></linearGradient><linearGradient id="c42" x2="0" y2="1"><stop offset="0" stop-color="#0000a5"/><stop offset="0.429" stop-color="#0001f9"/><stop offset="0.619" stop-color="#0023fd"/><stop offset="0.841" stop-color="#005fff"/><stop offset="0.921" stop-color="#0009fa"/><stop offset="0.937" stop-color="#0000f1"/><stop offset="1" stop-color="#0000a7"/></linearGradient><linearGradient id="c43" x2="0" y2="1"><stop offset="0" stop-color="#0000ba"/><stop offset="0.01" stop-color="#0001e8"/><stop offset="0.015" stop-color="#0012ee"/><stop offset="0.024" stop-color="#0007dd"/><stop offset="0.049" stop-color="#0005d8"/><stop offset="0.325" stop-color="#0004d5"/><stop offset="0.33" stop-color="#0000bf"/><stop offset="1" stop-color="#0000bf"/></linearGradient><linearGradient id="c44" x2="0" y2="1"><stop offset="0" stop-color="#000cfa"/><stop offset="0.007" stop-color="#000cfa"/><stop offset="0.014" stop-color="#0028fc"/><stop offset="1" stop-color="#0028fc"/></linearGradient><linearGradient id="c45" x2="0" y2="1"><stop offset="0" stop-color="#003fff"/><stop offset="0.077" stop-color="#00bbff"/><stop offset="0.092" stop-color="#00a6ff"/><stop offset="0.108" stop-color="#009fff"/><stop offset="0.215" stop-color="#0092ff"/><stop offset="0.969" stop-color="#008bff"/><stop offset="0.985" stop-color="#004bff"/><stop offset="1" stop-color="#004bff"/></linearGradient><linearGradient id="c46" x2="0" y2="1"><stop offset="0" stop-color="#00b1ff"/><stop offset="0.007" stop-color="#00b1ff"/><stop offset="0.014" stop-color="#08c9f7"/><stop offset="0.279" stop-color="#08c9f7"/><stop offset="0.286" stop-color="#00b0ff"/><stop offset="1" stop-color="#00b0ff"/></linearGradient><linearGradient id="c47" x2="0" y2="1"><stop offset="0" stop-color="#06fef9"/><stop offset="0.186" stop-color="#97ff68"/><stop offset="0.203" stop-color="#77ff88"/><stop offset="0.22" stop-color="#72ff8d"/><stop offset="0.407" stop-color="#63ff9c"/><stop offset="0.576" stop-color="#60ff9f"/><stop offset="0.593" stop-color="#85ff7a"/><stop offset="0.966" stop-color="#81ff7e"/><stop offset="0.983" stop-color="#1affe5"/><stop offset="1" stop-color="#1affe5"/></linearGradient><linearGradient id="c48" x2="0" y2="1"><stop offset="0" stop-color="#1affe5"/><stop offset="0.01" stop-color="#1affe5"/><stop offset="0.02" stop-color="#5cffa3"/><stop offset="0.931" stop-color="#5dffa2"/><stop offset="0.941" stop-color="#9bf764"/><stop offset="0.951" stop-color="#c6882e"/><stop offset="1" stop-color="#c7862d"/></linearGradient><linearGradient id="c49" x2="0" y2="1"><stop offset="0" stop-color="#a3ff5c"/><stop offset="0.951" stop-color="#a2ff5d"/><stop offset="0.976" stop-color="#7fff80"/><stop offset="1" stop-color="#7fff80"/></linearGradient><linearGradient id="c50" x2="0" y2="1"><stop offset="0" stop-color="#d1ff2e"/><stop offset="0.167" stop-color="#f6fb09"/><stop offset="0.375" stop-color="#fbce04"/><stop offset="0.458" stop-color="#f7e008"/><stop offset="0.708" stop-color="#f4e50b"/><stop offset="0.75" stop-color="#fab805"/><stop offset="0.917" stop-color="#f9c006"/><stop offset="0.958" stop-color="#e6fe19"/><stop offset="1" stop-color="#e6fe19"/></linearGradient><linearGradient id="c51" x2="0" y2="1"><stop offset="0" stop-color="#e5ff1a"/><stop offset="0.01" stop-color="#e5ff1a"/><stop offset="0.021" stop-color="#f7ca08"/><stop offset="0.794" stop-color="#f7ca08"/><stop offset="0.804" stop-color="#f3e90c"/><stop offset="0.99" stop-color="#f3e90c"/><stop offset="1" stop-color="#ec5f02"/></linearGradient><linearGradient id="c52" x2="0" y2="1"><stop offset="0" stop-color="#ffa900"/><stop offset="0.062" stop-color="#ffac00"/><stop offset="0.078" stop-color="#ff7c00"/><stop offset="0.297" stop-color="#ff8900"/><stop offset="0.969" stop-color="#ff8c00"/><stop offset="0.984" stop-color="#ffb100"/><stop offset="1" stop-color="#ffb100"/></linearGradient><linearGradient id="c53" x2="0" y2="1"><stop offset="0" stop-color="#ffac00"/><stop offset="0.556" stop-color="#ff8000"/><stop offset="1" stop-color="#ff8c00"/></linearGradient><linearGradient id="c54" x2="0" y2="1"><stop offset="0" stop-color="#ff9000"/><stop offset="0.045" stop-color="#ff9000"/><stop offset="0.091" stop-color="#ff6c00"/><stop offset="0.909" stop-color="#ff6c00"/><stop offset="0.955" stop-color="#e92e00"/><stop offset="1" stop-color="#e92e00"/></linearGradient><linearGradient id="c55" x2="0" y2="1"><stop offset="0" stop-color="#ff6b00"/><stop offset="0.545" stop-color="#ff3c00"/><stop offset="1" stop-color="#ff4900"/></linearGradient><linearGradient id="c56" x2="0" y2="1"><stop offset="0" stop-color="#ff4c00"/><stop offset="0.013" stop-color="#ff4c00"/><stop offset="0.025" stop-color="#fc2a00"/><stop offset="0.975" stop-color="#fc2a00"/><stop offset="0.987" stop-color="#ff4c00"/><stop offset="1" stop-color="#ff4c00"/></linearGradient><linearGradient id="c57" x2="0" y2="1"><stop offset="0" stop-color="#ff2700"/><stop offset="0.065" stop-color="#ff0800"/><stop offset="0.097" stop-color="#f50500"/><stop offset="0.113" stop-color="#ef0400"/><stop offset="0.145" stop-color="#f80900"/><stop offset="0.355" stop-color="#fa0c00"/><stop offset="0.371" stop-color="#d60400"/><stop offset="0.968" stop-color="#db0500"/><stop offset="0.984" stop-color="#fa0d00"/><stop offset="1" stop-color="#fa0d00"/></linearGradient><linearGradient id="c58" x2="0" y2="1"><stop offset="0" stop-color="#fa0c00"/><stop offset="0.045" stop-color="#fa0c00"/><stop offset="0.091" stop-color="#db0500"/><stop offset="1" stop-color="#da0500"/></linearGradient><linearGradient id="c59" x2="0" y2="1"><stop offset="0" stop-color="#df0000"/><stop offset="0.438" stop-color="#af0000"/><stop offset="0.562" stop-color="#bd0000"/><stop offset="1" stop-color="#c00000"/></linearGradient><linearGradient id="c60" x2="0" y2="1"><stop offset="0" stop-color="#c20000"/><stop offset="0.013" stop-color="#c20000"/><stop offset="0.025" stop-color="#870000"/><stop offset="0.557" stop-color="#860000"/><stop offset="0.975" stop-color="#880000"/><stop offset="0.987" stop-color="#c20000"/><stop offset="1" stop-color="#c20000"/></linearGradient><linearGradient id="c61" x2="0" y2="1"><stop offset="0" stop-color="#9b0000"/><stop offset="0.174" stop-color="#840000"/><stop offset="1" stop-color="#800000"/></linearGradient><linearGradient id="c62" x2="0" y2="1"><stop offset="0" stop-color="#0000b5"/><stop offset="0.01" stop-color="#0000e1"/><stop offset="0.015" stop-color="#0009ec"/><stop offset="0.049" stop-color="#008df5"/><stop offset="0.058" stop-color="#0ba8ea"/><stop offset="0.063" stop-color="#0057ed"/><stop offset="0.073" stop-color="#004fec"/><stop offset="0.233" stop-color="#0040e9"/><stop offset="0.238" stop-color="#002ae4"/><stop offset="0.286" stop-color="#0029e4"/><stop offset="0.291" stop-color="#0014df"/><stop offset="0.383" stop-color="#0014df"/><stop offset="0.388" stop-color="#0004d5"/><stop offset="0.791" stop-color="#0004d5"/><stop offset="0.796" stop-color="#0000bf"/><stop offset="1" stop-color="#0000bf"/></linearGradient><linearGradient id="c63" x2="0" y2="1"><stop offset="0" stop-color="#000cfa"/><stop offset="0.023" stop-color="#000cfa"/><stop offset="0.045" stop-color="#0028fc"/><stop offset="1" stop-color="#0028fc"/></linearGradient><linearGradient id="c64" x2="0" y2="1"><stop offset="0" stop-color="#004cff"/><stop offset="0.011" stop-color="#004cff"/><stop offset="0.023" stop-color="#06a5f9"/><stop offset="0.356" stop-color="#06a4f9"/><stop offset="0.368" stop-color="#008bff"/><stop offset="0.977" stop-color="#008bff"/><stop offset="0.989" stop-color="#004bff"/><stop offset="1" stop-color="#004bff"/></linearGradient><linearGradient id="c65" x2="0" y2="1"><stop offset="0" stop-color="#0090ff"/><stop offset="0.043" stop-color="#0090ff"/><stop offset="0.087" stop-color="#a7b358"/><stop offset="0.217" stop-color="#a5b65a"/><stop offset="0.261" stop-color="#37e0c8"/><stop offset="0.913" stop-color="#36dfc9"/><stop offset="0.957" stop-color="#08caf7"/><stop offset="1" stop-color="#08caf7"/></linearGradient><linearGradient id="c66" x2="0" y2="1"><stop offset="0" stop-color="#00b1ff"/><stop offset="0.023" stop-color="#00b1ff"/><stop offset="0.045" stop-color="#08c9f7"/><stop offset="1" stop-color="#08caf7"/></linearGradient><linearGradient id="c67" x2="0" y2="1"><stop offset="0" stop-color="#00d4ff"/><stop offset="0.071" stop-color="#00d4ff"/><stop offset="0.143" stop-color="#8df072"/><stop offset="0.857" stop-color="#89f076"/><stop offset="0.929" stop-color="#b7b948"/><stop offset="1" stop-color="#b6ba49"/></linearGradient><linearGradient id="c68" x2="0" y2="1"><stop offset="0" stop-color="#03fefc"/><stop offset="0.179" stop-color="#a4ff5b"/><stop offset="0.308" stop-color="#c5ff3a"/><stop offset="0.538" stop-color="#d7d728"/><stop offset="0.564" stop-color="#c1e93e"/><stop offset="0.641" stop-color="#b5ef4a"/><stop offset="1" stop-color="#a4f45b"/></linearGradient><linearGradient id="c69" x2="0" y2="1"><stop offset="0" stop-color="#1affe5"/><stop offset="0.018" stop-color="#1affe5"/><stop offset="0.035" stop-color="#81ff7e"/><stop offset="0.649" stop-color="#80ff7f"/><stop offset="0.667" stop-color="#5dffa2"/><stop offset="0.965" stop-color="#5dffa2"/><stop offset="0.982" stop-color="#1affe5"/><stop offset="1" stop-color="#1affe5"/></linearGradient><linearGradient id="c70" x2="0" y2="1"><stop offset="0" stop-color="#80ff7f"/><stop offset="0.03" stop-color="#80ff7f"/><stop offset="0.061" stop-color="#e3861a"/><stop offset="0.091" stop-color="#e3871a"/><stop offset="0.121" stop-color="#bdf342"/><stop offset="0.939" stop-color="#bcf343"/><stop offset="0.97" stop-color="#a3ff5c"/><stop offset="1" stop-color="#a3ff5c"/></linearGradient><linearGradient id="c71" x2="0" y2="1"><stop offset="0" stop-color="#80ff7f"/><stop offset="0.023" stop-color="#80ff7f"/><stop offset="0.045" stop-color="#a3ff5c"/><stop offset="1" stop-color="#a4ff5b"/></linearGradient><linearGradient id="c72" x2="0" y2="1"><stop offset="0" stop-color="#fb9504"/><stop offset="0.895" stop-color="#fa9d05"/><stop offset="0.947" stop-color="#fa6a02"/><stop offset="1" stop-color="#fa6b02"/></linearGradient><linearGradient id="c73" x2="0" y2="1"><stop offset="0" stop-color="#e5ff1a"/><stop offset="0.048" stop-color="#e5ff1a"/><stop offset="0.095" stop-color="#f7c908"/><stop offset="0.905" stop-color="#f8c807"/><stop offset="0.952" stop-color="#e5ff1a"/><stop offset="1" stop-color="#e5ff1a"/></linearGradient><linearGradient id="c74" x2="0" y2="1"><stop offset="0" stop-color="#ffd400"/><stop offset="0.026" stop-color="#ffd400"/><stop offset="0.051" stop-color="#ff8900"/><stop offset="0.949" stop-color="#ff8a00"/><stop offset="0.974" stop-color="#ffb000"/><stop offset="1" stop-color="#ffb000"/></linearGradient><linearGradient id="c75" x2="0" y2="1"><stop offset="0" stop-color="#ffb000"/><stop offset="0.023" stop-color="#ffb000"/><stop offset="0.045" stop-color="#ff8900"/><stop offset="0.591" stop-color="#ff8600"/><stop offset="0.614" stop-color="#ffaf00"/><stop offset="1" stop-color="#ffae00"/></linearGradient><linearGradient id="c76" x2="0" y2="1"><stop offset="0" stop-color="#ffac00"/><stop offset="0.536" stop-color="#ff4600"/><stop offset="0.929" stop-color="#ff2900"/><stop offset="0.964" stop-color="#ff6400"/><stop offset="1" stop-color="#ff6400"/></linearGradient><linearGradient id="c77" x2="0" y2="1"><stop offset="0" stop-color="#fc3b00"/><stop offset="0.935" stop-color="#fd4300"/><stop offset="0.968" stop-color="#ff6b00"/><stop offset="1" stop-color="#ff6b00"/></linearGradient><linearGradient id="c78" x2="0" y2="1"><stop offset="0" stop-color="#ff4b00"/><stop offset="0.048" stop-color="#ff4b00"/><stop offset="0.095" stop-color="#fc2800"/><stop offset="0.905" stop-color="#fc2700"/><stop offset="0.952" stop-color="#ff4b00"/><stop offset="1" stop-color="#ff4b00"/></linearGradient><linearGradient id="c79" x2="0" y2="1"><stop offset="0" stop-color="#ff4b00"/><stop offset="0.053" stop-color="#ff4b00"/><stop offset="0.105" stop-color="#fb2200"/><stop offset="0.789" stop-color="#f91c00"/><stop offset="1" stop-color="#f20f00"/></linearGradient><linearGradient id="c80" x2="0" y2="1"><stop offset="0" stop-color="#ff0f00"/><stop offset="0.217" stop-color="#fb0600"/><stop offset="0.913" stop-color="#d80200"/><stop offset="0.957" stop-color="#f90b00"/><stop offset="1" stop-color="#f90b00"/></linearGradient><linearGradient id="c81" x2="0" y2="1"><stop offset="0" stop-color="#fa0c00"/><stop offset="0.026" stop-color="#fa0c00"/><stop offset="0.051" stop-color="#d30400"/><stop offset="0.949" stop-color="#d70400"/><stop offset="0.974" stop-color="#fa0c00"/><stop offset="1" stop-color="#fa0c00"/></linearGradient><linearGradient id="c82" x2="0" y2="1"><stop offset="0" stop-color="#fa0c00"/><stop offset="0.036" stop-color="#fa0c00"/><stop offset="0.071" stop-color="#d20400"/><stop offset="0.321" stop-color="#ca0300"/><stop offset="0.393" stop-color="#bc0100"/><stop offset="0.714" stop-color="#ca0200"/><stop offset="0.75" stop-color="#f90b00"/><stop offset="1" stop-color="#f90a00"/></linearGradient><linearGradient id="c83" x2="0" y2="1"><stop offset="0" stop-color="#cf0000"/><stop offset="0.424" stop-color="#af0000"/><stop offset="0.545" stop-color="#bc0000"/><stop offset="1" stop-color="#be0000"/></linearGradient><linearGradient id="c84" x2="0" y2="1"><stop offset="0" stop-color="#bc0000"/><stop offset="1" stop-color="#e40000"/></linearGradient><linearGradient id="c85" x2="0" y2="1"><stop offset="0" stop-color="#9f0000"/><stop offset="0.063" stop-color="#940000"/><stop offset="0.38" stop-color="#860000"/><stop offset="0.696" stop-color="#830000"/><stop offset="0.797" stop-color="#860000"/><stop offset="1" stop-color="#a00000"/></linearGradient><linearGradient id="c86" x2="0" y2="1"><stop offset="0" stop-color="#0000a5"/><stop offset="0.163" stop-color="#0000f5"/><stop offset="0.488" stop-color="#008bfc"/><stop offset="0.496" stop-color="#005ff4"/><stop offset="0.55" stop-color="#0048ef"/><stop offset="0.992" stop-color="#003aeb"/><stop offset="1" stop-color="#03baf6"/></linearGradient><linearGradient id="c87" x2="0" y2="1"><stop offset="0" stop-color="#00b6ff"/><stop offset="0.108" stop-color="#00d1ff"/><stop offset="1" stop-color="#05f6fa"/></linearGradient><linearGradient id="c88" x2="0" y2="1"><stop offset="0" stop-color="#0000a3"/><stop offset="0.072" stop-color="#0000eb"/><stop offset="0.084" stop-color="#0008ef"/><stop offset="0.131" stop-color="#002ff4"/><stop offset="0.207" stop-color="#00abf7"/><stop offset="0.239" stop-color="#1bbbdd"/><stop offset="0.243" stop-color="#0c93e8"/><stop offset="0.247" stop-color="#0a8bea"/><stop offset="0.287" stop-color="#0570ea"/><stop offset="0.291" stop-color="#1b90d9"/><stop offset="0.331" stop-color="#1583dd"/><stop offset="0.335" stop-color="#0468e9"/><stop offset="0.546" stop-color="#025be9"/><stop offset="0.55" stop-color="#0042e9"/><stop offset="0.629" stop-color="#0041e9"/><stop offset="0.633" stop-color="#002ae5"/><stop offset="0.757" stop-color="#002ae4"/><stop offset="0.761" stop-color="#0015e0"/><stop offset="1" stop-color="#0014df"/></linearGradient><linearGradient id="c89" x2="0" y2="1"><stop offset="0" stop-color="#0090ff"/><stop offset="0.016" stop-color="#0090ff"/><stop offset="0.032" stop-color="#a8b457"/><stop offset="0.048" stop-color="#38e0c7"/><stop offset="0.935" stop-color="#37e0c8"/><stop offset="0.952" stop-color="#bc8741"/><stop offset="1" stop-color="#bb8842"/></linearGradient><linearGradient id="c90" x2="0" y2="1"><stop offset="0" stop-color="#00d4ff"/><stop offset="0.029" stop-color="#00d4ff"/><stop offset="0.057" stop-color="#8ef071"/><stop offset="0.857" stop-color="#8af075"/><stop offset="0.886" stop-color="#b7b948"/><stop offset="0.971" stop-color="#b7ba48"/><stop offset="1" stop-color="#47f5b8"/></linearGradient><linearGradient id="c91" x2="0" y2="1"><stop offset="0" stop-color="#1affe5"/><stop offset="0.042" stop-color="#1affe5"/><stop offset="0.083" stop-color="#c0d63f"/><stop offset="0.917" stop-color="#bcd943"/><stop offset="0.958" stop-color="#a5f45a"/><stop offset="1" stop-color="#a5f45a"/></linearGradient><linearGradient id="c92" x2="0" y2="1"><stop offset="0" stop-color="#42ffbd"/><stop offset="0.846" stop-color="#8aff75"/><stop offset="0.923" stop-color="#62ff9d"/><stop offset="1" stop-color="#62ff9d"/></linearGradient><linearGradient id="c93" x2="0" y2="1"><stop offset="0" stop-color="#60ff9f"/><stop offset="0.018" stop-color="#60ff9f"/><stop offset="0.035" stop-color="#b9ff46"/><stop offset="0.211" stop-color="#ddfe22"/><stop offset="0.474" stop-color="#ebd314"/><stop offset="0.719" stop-color="#ef9d10"/><stop offset="0.737" stop-color="#e4bb1b"/><stop offset="0.772" stop-color="#dfc420"/><stop offset="1" stop-color="#d7d128"/></linearGradient><linearGradient id="c94" x2="0" y2="1"><stop offset="0" stop-color="#8fff70"/><stop offset="1" stop-color="#c9ff36"/></linearGradient><linearGradient id="c95" x2="0" y2="1"><stop offset="0" stop-color="#fb9404"/><stop offset="0.966" stop-color="#fa9905"/><stop offset="0.983" stop-color="#fb5c01"/><stop offset="1" stop-color="#fb5d01"/></linearGradient><linearGradient id="c96" x2="0" y2="1"><stop offset="0" stop-color="#ff8e00"/><stop offset="0.031" stop-color="#ff8e00"/><stop offset="0.062" stop-color="#ff3200"/><stop offset="0.938" stop-color="#fa1a00"/><stop offset="0.969" stop-color="#ff6400"/><stop offset="1" stop-color="#ff6400"/></linearGradient><linearGradient id="c97" x2="0" y2="1"><stop offset="0" stop-color="#ff6a00"/><stop offset="0.25" stop-color="#ff4400"/><stop offset="1" stop-color="#ff2500"/></linearGradient><linearGradient id="c98" x2="0" y2="1"><stop offset="0" stop-color="#f90500"/><stop offset="0.492" stop-color="#ed0300"/><stop offset="1" stop-color="#f70900"/></linearGradient><linearGradient id="c99" x2="0" y2="1"><stop offset="0" stop-color="#e50000"/><stop offset="1" stop-color="#d70000"/></linearGradient><linearGradient id="c100" x2="0" y2="1"><stop offset="0" stop-color="#0000a5"/><stop offset="0.105" stop-color="#0001f9"/><stop offset="0.152" stop-color="#0023fd"/><stop offset="0.268" stop-color="#00baff"/><stop offset="0.319" stop-color="#01e1fe"/><stop offset="0.424" stop-color="#48e0b7"/><stop offset="0.58" stop-color="#86dc79"/><stop offset="0.72" stop-color="#88d977"/><stop offset="0.728" stop-color="#88d877"/><stop offset="0.732" stop-color="#198eda"/><stop offset="0.879" stop-color="#1789dc"/><stop offset="0.883" stop-color="#056dea"/><stop offset="0.992" stop-color="#056bea"/><stop offset="0.996" stop-color="#84d479"/><stop offset="1" stop-color="#84d479"/></linearGradient><linearGradient id="c101" x2="0" y2="1"><stop offset="0" stop-color="#60ff9f"/><stop offset="0.031" stop-color="#60ff9f"/><stop offset="0.062" stop-color="#baff45"/><stop offset="1" stop-color="#bfff40"/></linearGradient><linearGradient id="c102" x2="0" y2="1"><stop offset="0" stop-color="#b8ff47"/><stop offset="1" stop-color="#c3ff3c"/></linearGradient><clipPath id="cc"><rect x="0" y="0" width="603" height="204"/></clipPath></defs><g transform="translate(826 613.70) scale(1 1.0015)" clip-path="url(#cc)"><path fill="url(#c40)" d="M550.7 29l-.2 1.5-.1 3-.4 16.5-.6 52 .3 7 .3 2 .3 1 2.4 0 .3-1 .3-2 .3-7-.6-52-.4-16.5-.1-3-.2-1.5z"/><path fill="url(#c43)" d="M546.5 101l-.5 1.5-.4 3.5-1.1 19-2.4 25-.5 25 .1 29 13 0-.1-29-.8-25-2.5-25-1.2-19-.5-3.5-.5-1.5z"/><path fill="url(#c5)" d="M208.5 131.5l-.1 1-.1 3.5-.1 20.5-.1 47.5 1.8 0-.1-47.5-.1-20.5-.1-3.5-.1-1z"/><path fill="url(#c3)" d="M187.7 0l-.1 100 0 28.5 .1 7 1.2 0 .1-7 0-28.5-.1-100z"/><path fill="url(#c62)" d="M553.2 101l-.1 1-.1 2.5-.2 20.5-1 25-.8 25-.1 29 9 0-.5-29-1.2-25-2.2-25-1.2-20.5-.2-2.5-.1-1z"/><path fill="url(#c17)" d="M386.1 0l.1 204 1 0 .1-204z"/><path fill="url(#c42)" d="M553.4 75.5l-.2 19.5 .1 9.5 0 2.5 1.4 0 0-2.5 .1-9.5-.2-19.5z"/><path fill="url(#c6)" d="M217.4 61l-.1 7.5-.2 31.5-.1 104 2 0-.1-104-.2-31.5-.1-7.5z"/><path fill="url(#c41)" d="M550.8 46l-.2 1.5-.2 2.5-.5 52 .3 3.5 .3 1 .2 .5 1.6 0 .2-.5 .3-1 .3-3.5-.5-52-.2-2.5-.2-1.5z"/><path fill="url(#c12)" d="M327.4 155l-.1 3-.1 7.5-.3 38.5 2.4 0-.3-38.5-.1-7.5-.1-3z"/><path fill="url(#c36)" d="M537.7 74l-.1 5.5 .2 20.5 1 104 1.6 0-1.2-104-.3-20.5-.2-5.5z"/><path fill="url(#c63)" d="M551.4 182l-.1 22 8.2 0-.4-22z"/><path fill="url(#c44)" d="M544.1 134l-1.4 16-.5 25 .1 29 11.8 0-.1-29-.7-25-1.5-16z"/><path fill="url(#c20)" d="M422.3 0l-.2 204 1.6 0-.2-204z"/><path fill="url(#c86)" d="M570.7 139.5l-.2 5-.8 59.5 3.4 0-.8-59.5-.2-5z"/><path fill="url(#c27)" d="M535.2 68.5l-.2 7-.4 26.5 .1 38-.1 20-1 30-.1 14 5 0-.3-14-1.3-30-.4-20-.3-38 .1-26.5 0-7z"/><path fill="url(#c88)" d="M578.2 78.5l-.2 1.5-.1 3-.4 32-.6 30-1.6 59 6.4 0-1.6-59-.6-30-.4-32-.1-3-.2-1.5z"/><path fill="url(#c4)" d="M202.6 50l-.2 4.5-.1 15.5 0 60-.3 74 2.4 0-.3-74 0-60-.1-15.5-.2-4.5z"/><path fill="url(#c21)" d="M434.4 36.5l-.2 23.5-.1 90-.2 54 2 0-.2-54-.1-90-.2-23.5z"/><path fill="url(#c10)" d="M296.9 36.5l-.2 23.5-.2 144 2 0-.2-144-.2-23.5z"/><path fill="url(#c1)" d="M160 105.5l-.2 15-.5 83.5 2.6 0-.5-83.5-.2-15z"/><path fill="url(#c0)" d="M143.2 0l0 50-.2 21 .1 77.5 .1 16 1.2 0 .1-16 .1-77.5-.2-21 0-50z"/><path fill="url(#c26)" d="M456.7 0l0 204 1.2 0 0-204z"/><path fill="url(#c45)" d="M546.8 103l-.3 1-.4 2-.5 8-.5 11-.9 10.5 7.5 0-1-10.5-.6-11-.6-8-.3-2-.4-1z"/><path fill="url(#c64)" d="M552.6 140l-1 35 0 8.5 7.3 0-.1-8.5-1.1-25-.8-10z"/><path fill="url(#c9)" d="M236.9 127.5l-.1 4 0 13.5 .6 59 2.4 0-.9-59-.3-13.5-.2-4z"/><path fill="url(#c11)" d="M303.3 0l-.1 204 1.6 0-.1-204z"/><path fill="url(#c8)" d="M234.9 126.5l-.2 2.5-.2 11-.3 64 2 0 .4-64-.2-11-.1-2.5z"/><path fill="url(#c28)" d="M534.1 188l-.2 16 4.2 0-.4-16z"/><path fill="url(#c46)" d="M544.5 134l-1.3 16-.4 25 .1 29 10.6 0-.1-29-.6-25-1.4-16z"/><path fill="url(#c39)" d="M549 0l-.4 105.5 .1 4.5 .1 1 1.4 0 .1-1 .1-4.5-.4-105.5z"/><path fill="url(#c100)" d="M583 75.5l-.2 34.5-.9 94 3.2 0-.9-94-.2-34.5z"/><path fill="url(#c66)" d="M551.8 182l0 22 7.2 0-.3-22z"/><path fill="url(#c7)" d="M235.5 24.5l-.5 50.5 0 40-.1 15 .1 10.5 .1 2 .1 1 1.8 0 .1-1 .1-2 .1-10.5-.1-15 0-40-.5-50.5z"/><path fill="url(#c87)" d="M570.7 171.5l-.2 3.5-.3 29 2.4 0-.3-29-.2-3.5z"/><path fill="url(#c29)" d="M534.4 180l-.2 9.5 3.5 0-.3-9.5z"/><path fill="url(#c18)" d="M392 0l-.3 180-.2 24 2.4 0-.2-24-.3-180z"/><path fill="url(#c2)" d="M160.1 180.5l-.2 6-.1 17.5 1.6 0-.1-17.5-.2-6z"/><path fill="url(#c13)" d="M348.7 0l-.1 50-.4 100-.4 54 3 0-.4-54-.4-100-.1-50z"/><path fill="url(#c37)" d="M542.9 30.5l-.2 7.5-.2 47-.3 119 2.4 0-.3-119-.2-47-.2-7.5z"/><path fill="url(#c65)" d="M553 130l-.3 11.5 4.2 0-.9-11.5z"/><path fill="url(#c89)" d="M576.5 173l-.7 31 5.4 0-.7-31z"/><path fill="url(#c30)" d="M534.6 172.5l-.2 9 2.9 0-.2-9z"/><path fill="url(#c31)" d="M535.1 160.5l-.2 3.5-.2 10 2.3 0-.4-10-.2-3.5z"/><path fill="url(#c16)" d="M372.8 0l-.3 180-.3 24 2.4 0-.3-24-.3-180z"/><path fill="url(#c19)" d="M392.1 170.5l.1 9 1 0 .1-9z"/><path fill="url(#c90)" d="M576.9 157l-.4 17.5 4 0-.4-17.5z"/><path fill="url(#c47)" d="M547 106l-.4 2-.4 4-.7 13-.8 10.5 6.5 0-.9-10.5-.8-13-.4-4-.5-2z"/><path fill="url(#c48)" d="M543.6 153l-.4 22 .2 29 9.6 0 0-29-.6-22z"/><path fill="url(#c67)" d="M553.2 124.5l-.2 7 3.1 0-.5-7z"/><path fill="url(#c69)" d="M552.5 155l-.4 20 0 8.5 6.3 0-.1-8.5-.7-20z"/><path fill="url(#c91)" d="M577.3 146.5l-.3 12 3 0-.3-12z"/><path fill="url(#c49)" d="M545 134l-1.2 16-.1 4.5 8.6 0-.1-4.5-1.3-16z"/><path fill="url(#c68)" d="M553.6 106.5l-.1 1-.1 2.5-.2 16 2.4 0-.9-16-.2-2.5-.2-1z"/><path fill="url(#c32)" d="M534.6 188l-.1 16 3 0-.3-16z"/><path fill="url(#c92)" d="M578.2 109l-.3 6.5 1.2 0-.3-6.5z"/><path fill="url(#c71)" d="M552.2 182l.1 22 6.2 0-.3-22z"/><path fill="url(#c33)" d="M535.2 175.5l-.3 4-.2 10 2.4 0-.3-10-.3-4z"/><path fill="url(#c101)" d="M582.4 188l-.1 16 2.4 0-.1-16z"/><path fill="url(#c102)" d="M582.6 168.5l-.1 21 2 0-.1-21z"/><path fill="url(#c70)" d="M553 140l-.4 16.5 4.9 0-.2-6.5-.8-10z"/><path fill="url(#c22)" d="M449.3 0l-.1 30-.1 100-.1 35-.6 39 3 0-.6-39-.1-35-.1-100-.1-30z"/><path fill="url(#c93)" d="M577.8 119.5l-.5 28.5 2.4 0-.5-28.5z"/><path fill="url(#c34)" d="M535 188l-.1 5.5 2.1 0-.2-5.5z"/><path fill="url(#c14)" d="M348.3 190.5l-.1 13.5 2.2 0-.1-13.5z"/><path fill="url(#c23)" d="M448.9 194.5l0 8 2 0 0-8z"/><path fill="url(#c15)" d="M348.5 169.5l-.1 22.5 1.8 0-.1-22.5z"/><path fill="url(#c24)" d="M449 187.5l0 8.5 1.8 0 0-8.5z"/><path fill="url(#c94)" d="M578.1 114l-.2 7 1.2 0-.2-7z"/><path fill="url(#c35)" d="M535.6 197.5l-.2 2-.2 4.5 1.6 0-.2-4.5-.3-2z"/><path fill="url(#c50)" d="M547 112l-.3 1.5-.3 2.5-.5 8 4 0-.6-8-.3-2.5-.3-1.5z"/><path fill="url(#c25)" d="M449.2 177l.1 7.5 1.2 0 .1-7.5z"/><path fill="url(#c38)" d="M546 0l-.2 102-.1 23 0 8 .1 1.5 1.4 0 .1-1.5 0-8-.1-23-.2-102z"/><path fill="url(#c73)" d="M552.5 173l0 10.5 5.5 0-.2-10.5z"/><path fill="url(#c51)" d="M544.1 153l-.4 22 .3 26.5 8.4 0 0-26.5-.5-22z"/><path fill="url(#c95)" d="M576.9 173.5l-.6 29.5 4.4 0-.6-29.5z"/><path fill="url(#c72)" d="M553.3 132l-.2 9.5 3.4 0-.7-9.5z"/><path fill="url(#c75)" d="M552.7 182l.1 22 5.2 0-.2-22z"/><path fill="url(#c52)" d="M546.2 122.5l-1.9 27.5-.1 4.5 7.6 0-.1-4.5-2.1-27.5z"/><path fill="url(#c74)" d="M553 155l-.4 19.5 5.1 0-.6-19.5z"/><path fill="url(#c53)" d="M547.1 117l-.3 1-.4 3.5 2.9 0-.4-3.5-.3-1z"/><path fill="url(#c54)" d="M544.3 191l.1 11 7.6 0 0-11z"/><path fill="url(#c76)" d="M553.9 117.5l-.2 3.5-.2 10.5 2.1 0-.7-10.5-.3-3.5z"/><path fill="url(#c55)" d="M547.2 120l-.2 .5-.2 1-.4 4 3 0-.4-4-.3-1-.2-.5z"/><path fill="url(#c77)" d="M553.4 141l-.3 15.5 3.9 0-.2-6.5-.6-9z"/><path fill="url(#c96)" d="M577.4 157l-.3 16 2.8 0-.3-16z"/><path fill="url(#c97)" d="M578.1 140.5l-.3 4.5-.3 13.5 2 0-.3-13.5-.3-4.5z"/><path fill="url(#c78)" d="M553 173l0 10.5 4.5 0-.1-10.5z"/><path fill="url(#c56)" d="M544.6 153l-.3 22 .2 17.5 7.3 0 0-17.5-.4-22z"/><path fill="url(#c79)" d="M553.1 194.5l.2 9.5 4.2 0 0-9.5z"/><path fill="url(#c98)" d="M577.4 171.5l-.5 31.5 3.2 0-.5-31.5z"/><path fill="url(#c80)" d="M553.9 130l-.3 11.5 2.3 0-.7-11.5z"/><path fill="url(#c57)" d="M547.2 123.5l-.2 .5-.3 1.5-.7 6.5-1.1 18-.1 4.5 6.4 0-.1-4.5-1.3-18-.7-6.5-.3-1.5-.2-.5z"/><path fill="url(#c58)" d="M544.7 191l.2 11 6.6 0 .1-11z"/><path fill="url(#c82)" d="M553.2 182l.3 14 3.7 0 .1-14z"/><path fill="url(#c99)" d="M578 187.5l-.3 4.5-.3 12 2.2 0-.3-12-.3-4.5z"/><path fill="url(#c81)" d="M553.4 155l-.3 19.5 4.1 0-.5-19.5z"/><path fill="url(#c84)" d="M553.7 191.5l.5 8.5 .2 2 .3 1.5 1.4 0 .3-1.5 .2-2 .3-8.5z"/><path fill="url(#c59)" d="M547.1 127.5l-.3 1-.3 2-.4 5 3.7 0-.4-5-.4-2-.3-1z"/><path fill="#c00000" d="M553.4 173l.1 10.5 3.5 0 0-10.5z"/><path fill="url(#c83)" d="M554 140l-.4 16.5 2.9 0-.2-6.5-.7-10z"/><path fill="url(#c85)" d="M554.4 147.5l-.3 2.5-.4 25 .4 8.5 .3 2.5 .2 1 1.3 0 .2-1 .3-2.5 .3-8.5-.8-25-.4-2.5z"/><path fill="url(#c60)" d="M545.1 153l-.3 22 .2 17.5 6.3 0 .1-17.5-.5-22z"/><path fill="url(#c61)" d="M547 131.5l-.2 .5-.2 2-.6 8.5-.6 7.5 0 4.5 5.3 0-.1-4.5-.6-7.5-.8-8.5-.2-2-.2-.5z"/><path fill="#800000" d="M545.4 191l.2 13 5.2 0 .1-13z"/></g>
<path d="M901.38 818v-6M901.38 613.7v6M976.75 818v-6M976.75 613.7v6M1052.12 818v-6M1052.12 613.7v6M1127.5 818v-6M1127.5 613.7v6M1202.88 818v-6M1202.88 613.7v6M1278.25 818v-6M1278.25 613.7v6M1353.62 818v-6M1353.62 613.7v6M826 615.5h6M1429 615.5h-6M826 632.16h6M1429 632.16h-6M826 650.57h6M1429 650.57h-6M826 671.15h6M1429 671.15h-6M826 694.48h6M1429 694.48h-6M826 721.42h6M1429 721.42h-6M826 753.28h6M1429 753.28h-6M826 771.69h6M1429 771.69h-6M826 792.28h6M1429 792.28h-6M826 815.61h6M1429 815.61h-6" fill="none" stroke="#000" stroke-opacity=".75" stroke-width="1"/>
<rect x="826" y="613.7" width="603" height="204.3" fill="none" stroke="#334" stroke-opacity=".6" stroke-width="1"/>
<rect x="1448" y="814.81" width="25.4" height="3.79" fill="#00008f" shape-rendering="crispEdges"/>
<rect x="1448" y="811.62" width="25.4" height="3.79" fill="#00009f" shape-rendering="crispEdges"/>
<rect x="1448" y="808.42" width="25.4" height="3.79" fill="#0000af" shape-rendering="crispEdges"/>
<rect x="1448" y="805.23" width="25.4" height="3.79" fill="#0000bf" shape-rendering="crispEdges"/>
<rect x="1448" y="802.04" width="25.4" height="3.79" fill="#0000cf" shape-rendering="crispEdges"/>
<rect x="1448" y="798.85" width="25.4" height="3.79" fill="#0000df" shape-rendering="crispEdges"/>
<rect x="1448" y="795.65" width="25.4" height="3.79" fill="#0000ef" shape-rendering="crispEdges"/>
<rect x="1448" y="792.46" width="25.4" height="3.79" fill="#0000ff" shape-rendering="crispEdges"/>
<rect x="1448" y="789.27" width="25.4" height="3.79" fill="#0010ff" shape-rendering="crispEdges"/>
<rect x="1448" y="786.08" width="25.4" height="3.79" fill="#0020ff" shape-rendering="crispEdges"/>
<rect x="1448" y="782.89" width="25.4" height="3.79" fill="#0030ff" shape-rendering="crispEdges"/>
<rect x="1448" y="779.69" width="25.4" height="3.79" fill="#0040ff" shape-rendering="crispEdges"/>
<rect x="1448" y="776.5" width="25.4" height="3.79" fill="#0050ff" shape-rendering="crispEdges"/>
<rect x="1448" y="773.31" width="25.4" height="3.79" fill="#0060ff" shape-rendering="crispEdges"/>
<rect x="1448" y="770.12" width="25.4" height="3.79" fill="#0070ff" shape-rendering="crispEdges"/>
<rect x="1448" y="766.92" width="25.4" height="3.79" fill="#0080ff" shape-rendering="crispEdges"/>
<rect x="1448" y="763.73" width="25.4" height="3.79" fill="#008fff" shape-rendering="crispEdges"/>
<rect x="1448" y="760.54" width="25.4" height="3.79" fill="#009fff" shape-rendering="crispEdges"/>
<rect x="1448" y="757.35" width="25.4" height="3.79" fill="#00afff" shape-rendering="crispEdges"/>
<rect x="1448" y="754.16" width="25.4" height="3.79" fill="#00bfff" shape-rendering="crispEdges"/>
<rect x="1448" y="750.96" width="25.4" height="3.79" fill="#00cfff" shape-rendering="crispEdges"/>
<rect x="1448" y="747.77" width="25.4" height="3.79" fill="#00dfff" shape-rendering="crispEdges"/>
<rect x="1448" y="744.58" width="25.4" height="3.79" fill="#00efff" shape-rendering="crispEdges"/>
<rect x="1448" y="741.39" width="25.4" height="3.79" fill="#00ffff" shape-rendering="crispEdges"/>
<rect x="1448" y="738.2" width="25.4" height="3.79" fill="#10ffef" shape-rendering="crispEdges"/>
<rect x="1448" y="735" width="25.4" height="3.79" fill="#20ffdf" shape-rendering="crispEdges"/>
<rect x="1448" y="731.81" width="25.4" height="3.79" fill="#30ffcf" shape-rendering="crispEdges"/>
<rect x="1448" y="728.62" width="25.4" height="3.79" fill="#40ffbf" shape-rendering="crispEdges"/>
<rect x="1448" y="725.43" width="25.4" height="3.79" fill="#50ffaf" shape-rendering="crispEdges"/>
<rect x="1448" y="722.23" width="25.4" height="3.79" fill="#60ff9f" shape-rendering="crispEdges"/>
<rect x="1448" y="719.04" width="25.4" height="3.79" fill="#70ff8f" shape-rendering="crispEdges"/>
<rect x="1448" y="715.85" width="25.4" height="3.79" fill="#80ff80" shape-rendering="crispEdges"/>
<rect x="1448" y="712.66" width="25.4" height="3.79" fill="#8fff70" shape-rendering="crispEdges"/>
<rect x="1448" y="709.47" width="25.4" height="3.79" fill="#9fff60" shape-rendering="crispEdges"/>
<rect x="1448" y="706.27" width="25.4" height="3.79" fill="#afff50" shape-rendering="crispEdges"/>
<rect x="1448" y="703.08" width="25.4" height="3.79" fill="#bfff40" shape-rendering="crispEdges"/>
<rect x="1448" y="699.89" width="25.4" height="3.79" fill="#cfff30" shape-rendering="crispEdges"/>
<rect x="1448" y="696.7" width="25.4" height="3.79" fill="#dfff20" shape-rendering="crispEdges"/>
<rect x="1448" y="693.5" width="25.4" height="3.79" fill="#efff10" shape-rendering="crispEdges"/>
<rect x="1448" y="690.31" width="25.4" height="3.79" fill="#ffff00" shape-rendering="crispEdges"/>
<rect x="1448" y="687.12" width="25.4" height="3.79" fill="#ffef00" shape-rendering="crispEdges"/>
<rect x="1448" y="683.93" width="25.4" height="3.79" fill="#ffdf00" shape-rendering="crispEdges"/>
<rect x="1448" y="680.74" width="25.4" height="3.79" fill="#ffcf00" shape-rendering="crispEdges"/>
<rect x="1448" y="677.54" width="25.4" height="3.79" fill="#ffbf00" shape-rendering="crispEdges"/>
<rect x="1448" y="674.35" width="25.4" height="3.79" fill="#ffaf00" shape-rendering="crispEdges"/>
<rect x="1448" y="671.16" width="25.4" height="3.79" fill="#ff9f00" shape-rendering="crispEdges"/>
<rect x="1448" y="667.97" width="25.4" height="3.79" fill="#ff8f00" shape-rendering="crispEdges"/>
<rect x="1448" y="664.77" width="25.4" height="3.79" fill="#ff8000" shape-rendering="crispEdges"/>
<rect x="1448" y="661.58" width="25.4" height="3.79" fill="#ff7000" shape-rendering="crispEdges"/>
<rect x="1448" y="658.39" width="25.4" height="3.79" fill="#ff6000" shape-rendering="crispEdges"/>
<rect x="1448" y="655.2" width="25.4" height="3.79" fill="#ff5000" shape-rendering="crispEdges"/>
<rect x="1448" y="652.01" width="25.4" height="3.79" fill="#ff4000" shape-rendering="crispEdges"/>
<rect x="1448" y="648.81" width="25.4" height="3.79" fill="#ff3000" shape-rendering="crispEdges"/>
<rect x="1448" y="645.62" width="25.4" height="3.79" fill="#ff2000" shape-rendering="crispEdges"/>
<rect x="1448" y="642.43" width="25.4" height="3.79" fill="#ff1000" shape-rendering="crispEdges"/>
<rect x="1448" y="639.24" width="25.4" height="3.79" fill="#ff0000" shape-rendering="crispEdges"/>
<rect x="1448" y="636.05" width="25.4" height="3.79" fill="#ef0000" shape-rendering="crispEdges"/>
<rect x="1448" y="632.85" width="25.4" height="3.79" fill="#df0000" shape-rendering="crispEdges"/>
<rect x="1448" y="629.66" width="25.4" height="3.79" fill="#cf0000" shape-rendering="crispEdges"/>
<rect x="1448" y="626.47" width="25.4" height="3.79" fill="#bf0000" shape-rendering="crispEdges"/>
<rect x="1448" y="623.28" width="25.4" height="3.79" fill="#af0000" shape-rendering="crispEdges"/>
<rect x="1448" y="620.08" width="25.4" height="3.79" fill="#9f0000" shape-rendering="crispEdges"/>
<rect x="1448" y="616.89" width="25.4" height="3.79" fill="#8f0000" shape-rendering="crispEdges"/>
<rect x="1448" y="613.7" width="25.4" height="3.79" fill="#800000" shape-rendering="crispEdges"/>
<path d="M1448 647.75h2M1473.4 647.75h-2M1448 681.8h2M1473.4 681.8h-2M1448 715.85h2M1473.4 715.85h-2M1448 749.9h2M1473.4 749.9h-2M1448 783.95h2M1473.4 783.95h-2" fill="none" stroke="#000" stroke-opacity=".7" stroke-width="1"/>
<rect x="1448" y="613.7" width="25.4" height="204.3" fill="none" stroke="#555" stroke-opacity=".7" stroke-width="1"/>
<g filter="url(#gs)"><text class="b" x="710.5" y="9.3" text-anchor="middle" xml:space="preserve">VELIES Wavelet Spectra on 11 April     2012</text><text class="b" x="333.9" y="36" text-anchor="middle">Filtered Series (cutoff at 7.5 mHz)</text><text class="b" x="1127.5" y="36" text-anchor="middle">Pc4 Wavelet Power</text><text class="b" x="333.8" y="847.8" text-anchor="middle">UT (hours)</text><text class="b" x="1127.1" y="847.8" text-anchor="middle">UT (hours)</text><text x="33" y="265.1" text-anchor="middle">00:00</text><text x="108.31" y="265.1" text-anchor="middle">03:00</text><text x="183.62" y="265.1" text-anchor="middle">06:00</text><text x="258.94" y="265.1" text-anchor="middle">09:00</text><text x="334.25" y="265.1" text-anchor="middle">12:00</text><text x="409.56" y="265.1" text-anchor="middle">15:00</text><text x="484.88" y="265.1" text-anchor="middle">18:00</text><text x="560.19" y="265.1" text-anchor="middle">21:00</text><text x="635.5" y="265.1" text-anchor="middle">00:00</text><text x="28.4" y="50.7" text-anchor="end">4</text><text x="28.4" y="101.78" text-anchor="end">2</text><text x="28.4" y="152.85" text-anchor="end">0</text><text x="28.4" y="203.93" text-anchor="end">-2</text><text x="28.4" y="255" text-anchor="end">-4</text><text class="b" transform="translate(8.9 147.85) rotate(-90)" text-anchor="middle">X (nT)</text><text x="826" y="265.1" text-anchor="middle">00:00</text><text x="901.38" y="265.1" text-anchor="middle">03:00</text><text x="976.75" y="265.1" text-anchor="middle">06:00</text><text x="1052.12" y="265.1" text-anchor="middle">09:00</text><text x="1127.5" y="265.1" text-anchor="middle">12:00</text><text x="1202.88" y="265.1" text-anchor="middle">15:00</text><text x="1278.25" y="265.1" text-anchor="middle">18:00</text><text x="1353.62" y="265.1" text-anchor="middle">21:00</text><text x="1429" y="265.1" text-anchor="middle">00:00</text><text x="822.2" y="52.2" text-anchor="end">22</text><text x="822.2" y="68.86" text-anchor="end">20</text><text x="822.2" y="87.27" text-anchor="end">18</text><text x="822.2" y="107.85" text-anchor="end">16</text><text x="822.2" y="131.18" text-anchor="end">14</text><text x="822.2" y="158.12" text-anchor="end">12</text><text x="822.2" y="189.98" text-anchor="end">10</text><text x="822.2" y="208.39" text-anchor="end">9</text><text x="822.2" y="228.98" text-anchor="end">8</text><text x="822.2" y="252.31" text-anchor="end">7</text><text class="b" transform="translate(799.6 147.65) rotate(-90)" text-anchor="middle">freq (mHz)</text><text x="1476.7" y="51.1">4</text><text x="1476.7" y="85.15">3</text><text x="1476.7" y="119.2">2</text><text x="1476.7" y="153.25">1</text><text x="1476.7" y="187.3">0</text><text x="1476.7" y="221.35">-1</text><text x="1476.7" y="255.4">-2</text><text class="b" transform="translate(1508.5 148.95) rotate(-90)" text-anchor="middle">log<tspan dy="5" font-size="10.3">2</tspan><tspan dy="-5">(nT</tspan><tspan dy="-6" font-size="10.3">2</tspan><tspan dy="6">/Hz)</tspan></text><text x="33" y="548.9" text-anchor="middle">00:00</text><text x="108.31" y="548.9" text-anchor="middle">03:00</text><text x="183.62" y="548.9" text-anchor="middle">06:00</text><text x="258.94" y="548.9" text-anchor="middle">09:00</text><text x="334.25" y="548.9" text-anchor="middle">12:00</text><text x="409.56" y="548.9" text-anchor="middle">15:00</text><text x="484.88" y="548.9" text-anchor="middle">18:00</text><text x="560.19" y="548.9" text-anchor="middle">21:00</text><text x="635.5" y="548.9" text-anchor="middle">00:00</text><text x="28.4" y="334.5" text-anchor="end">3</text><text x="28.4" y="363.69" text-anchor="end">2</text><text x="28.4" y="392.87" text-anchor="end">1</text><text x="28.4" y="422.06" text-anchor="end">0</text><text x="28.4" y="451.24" text-anchor="end">-1</text><text x="28.4" y="480.43" text-anchor="end">-2</text><text x="28.4" y="509.61" text-anchor="end">-3</text><text x="28.4" y="538.8" text-anchor="end">-4</text><text class="b" transform="translate(8.9 431.65) rotate(-90)" text-anchor="middle">Y (nT)</text><text x="826" y="548.9" text-anchor="middle">00:00</text><text x="901.38" y="548.9" text-anchor="middle">03:00</text><text x="976.75" y="548.9" text-anchor="middle">06:00</text><text x="1052.12" y="548.9" text-anchor="middle">09:00</text><text x="1127.5" y="548.9" text-anchor="middle">12:00</text><text x="1202.88" y="548.9" text-anchor="middle">15:00</text><text x="1278.25" y="548.9" text-anchor="middle">18:00</text><text x="1353.62" y="548.9" text-anchor="middle">21:00</text><text x="1429" y="548.9" text-anchor="middle">00:00</text><text x="822.2" y="336" text-anchor="end">22</text><text x="822.2" y="352.66" text-anchor="end">20</text><text x="822.2" y="371.07" text-anchor="end">18</text><text x="822.2" y="391.65" text-anchor="end">16</text><text x="822.2" y="414.98" text-anchor="end">14</text><text x="822.2" y="441.92" text-anchor="end">12</text><text x="822.2" y="473.78" text-anchor="end">10</text><text x="822.2" y="492.19" text-anchor="end">9</text><text x="822.2" y="512.78" text-anchor="end">8</text><text x="822.2" y="536.11" text-anchor="end">7</text><text class="b" transform="translate(799.6 431.45) rotate(-90)" text-anchor="middle">freq (mHz)</text><text x="1476.7" y="334.9">4</text><text x="1476.7" y="368.95">3</text><text x="1476.7" y="403">2</text><text x="1476.7" y="437.05">1</text><text x="1476.7" y="471.1">0</text><text x="1476.7" y="505.15">-1</text><text x="1476.7" y="539.2">-2</text><text class="b" transform="translate(1508.5 432.75) rotate(-90)" text-anchor="middle">log<tspan dy="5" font-size="10.3">2</tspan><tspan dy="-5">(nT</tspan><tspan dy="-6" font-size="10.3">2</tspan><tspan dy="6">/Hz)</tspan></text><text x="33" y="832.5" text-anchor="middle">00:00</text><text x="108.31" y="832.5" text-anchor="middle">03:00</text><text x="183.62" y="832.5" text-anchor="middle">06:00</text><text x="258.94" y="832.5" text-anchor="middle">09:00</text><text x="334.25" y="832.5" text-anchor="middle">12:00</text><text x="409.56" y="832.5" text-anchor="middle">15:00</text><text x="484.88" y="832.5" text-anchor="middle">18:00</text><text x="560.19" y="832.5" text-anchor="middle">21:00</text><text x="635.5" y="832.5" text-anchor="middle">00:00</text><text x="28.4" y="618.1" text-anchor="end">2</text><text x="28.4" y="647.29" text-anchor="end">1</text><text x="28.4" y="676.47" text-anchor="end">0</text><text x="28.4" y="705.66" text-anchor="end">-1</text><text x="28.4" y="734.84" text-anchor="end">-2</text><text x="28.4" y="764.03" text-anchor="end">-3</text><text x="28.4" y="793.21" text-anchor="end">-4</text><text x="28.4" y="822.4" text-anchor="end">-5</text><text class="b" transform="translate(8.9 715.25) rotate(-90)" text-anchor="middle">Z (nT)</text><text x="826" y="832.5" text-anchor="middle">00:00</text><text x="901.38" y="832.5" text-anchor="middle">03:00</text><text x="976.75" y="832.5" text-anchor="middle">06:00</text><text x="1052.12" y="832.5" text-anchor="middle">09:00</text><text x="1127.5" y="832.5" text-anchor="middle">12:00</text><text x="1202.88" y="832.5" text-anchor="middle">15:00</text><text x="1278.25" y="832.5" text-anchor="middle">18:00</text><text x="1353.62" y="832.5" text-anchor="middle">21:00</text><text x="1429" y="832.5" text-anchor="middle">00:00</text><text x="822.2" y="619.6" text-anchor="end">22</text><text x="822.2" y="636.26" text-anchor="end">20</text><text x="822.2" y="654.67" text-anchor="end">18</text><text x="822.2" y="675.25" text-anchor="end">16</text><text x="822.2" y="698.58" text-anchor="end">14</text><text x="822.2" y="725.52" text-anchor="end">12</text><text x="822.2" y="757.38" text-anchor="end">10</text><text x="822.2" y="775.79" text-anchor="end">9</text><text x="822.2" y="796.38" text-anchor="end">8</text><text x="822.2" y="819.71" text-anchor="end">7</text><text class="b" transform="translate(799.6 715.05) rotate(-90)" text-anchor="middle">freq (mHz)</text><text x="1476.7" y="618.5">4</text><text x="1476.7" y="652.55">3</text><text x="1476.7" y="686.6">2</text><text x="1476.7" y="720.65">1</text><text x="1476.7" y="754.7">0</text><text x="1476.7" y="788.75">-1</text><text x="1476.7" y="822.8">-2</text><text class="b" transform="translate(1508.5 716.35) rotate(-90)" text-anchor="middle">log<tspan dy="5" font-size="10.3">2</tspan><tspan dy="-5">(nT</tspan><tspan dy="-6" font-size="10.3">2</tspan><tspan dy="6">/Hz)</tspan></text></g>
</svg></body></html>
